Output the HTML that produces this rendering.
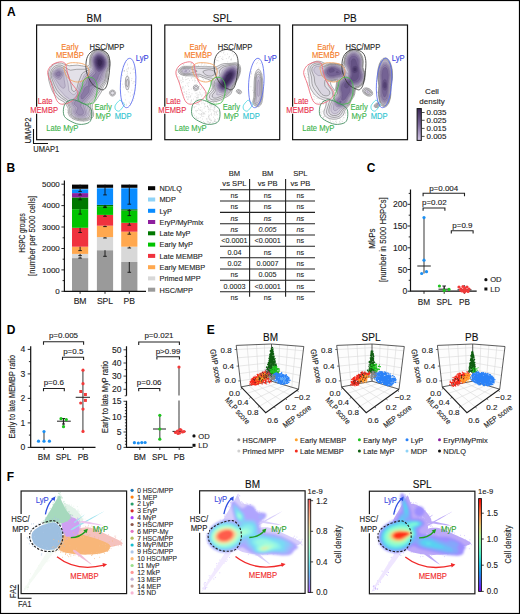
<!DOCTYPE html>
<html><head><meta charset="utf-8"><style>
html,body{margin:0;padding:0;background:#fff;}
body{width:520px;height:614px;overflow:hidden;}
svg{display:block;font-family:"Liberation Sans",sans-serif;}
</style></head><body>
<svg width="520" height="614" viewBox="0 0 520 614">
<rect x="0.5" y="0.5" width="519" height="613" fill="none" stroke="#000" stroke-width="1.2"/>
<text x="7.1" y="15.7" font-size="12" fill="#000" text-anchor="start" font-weight="bold">A</text>
<text x="6.5" y="172.1" font-size="12" fill="#000" text-anchor="start" font-weight="bold">B</text>
<text x="366.8" y="172.3" font-size="12" fill="#000" text-anchor="start" font-weight="bold">C</text>
<text x="6.8" y="333.6" font-size="12" fill="#000" text-anchor="start" font-weight="bold">D</text>
<text x="206.8" y="333.6" font-size="12" fill="#000" text-anchor="start" font-weight="bold">E</text>
<text x="6.8" y="480.9" font-size="12" fill="#000" text-anchor="start" font-weight="bold">F</text>
<text x="94.05000000000001" y="22.4" font-size="10" fill="#111" text-anchor="middle" stroke="#111" stroke-width="0.12">BM</text>
<g transform="translate(36.6,25)">
<clipPath id="clipBM"><rect x="0" y="0" width="114.9" height="114.9"/></clipPath><g clip-path="url(#clipBM)">
<path d="M20.9 43.2h0M27.3 52.3h0M24.0 71.9h0M14.9 46.3h0M30.1 77.0h0M28.6 53.6h0M15.5 41.8h0M20.5 71.4h0M16.6 61.5h0M30.4 52.6h0M27.7 39.5h0M13.0 45.5h0M31.7 54.9h0M20.7 61.6h0M24.8 49.5h0M35.1 66.4h0M18.5 61.2h0M27.0 73.9h0M23.8 68.9h0M15.8 57.5h0M34.2 61.1h0M32.1 62.0h0M28.7 56.1h0M25.5 65.0h0M22.8 65.2h0M16.3 41.8h0M15.1 47.3h0M23.0 73.7h0M27.7 74.3h0M35.9 73.4h0M19.6 54.4h0M22.0 74.3h0M16.5 46.6h0M18.2 57.4h0M28.9 47.9h0M22.3 60.8h0M39.9 66.1h0M26.7 63.0h0M38.3 69.9h0M37.5 70.6h0M23.0 53.7h0M17.5 43.7h0M21.4 39.0h0M14.3 52.2h0M29.7 43.1h0M18.8 51.5h0M22.2 42.0h0M25.2 57.3h0M21.5 48.0h0M27.1 43.0h0M27.1 78.3h0M37.2 66.3h0M19.1 52.3h0M27.2 69.8h0M21.1 46.3h0M36.9 71.0h0M35.8 68.2h0M18.0 58.7h0M21.9 38.0h0M12.0 48.6h0M34.2 51.1h0M51.3 46.4h0M51.3 44.8h0M33.3 42.2h0M32.7 41.8h0M43.2 55.0h0M48.5 47.0h0M43.9 53.1h0M30.0 50.5h0M46.3 47.0h0M32.3 52.9h0M36.0 53.1h0M51.7 45.4h0M37.7 55.9h0M45.7 41.1h0M31.0 40.8h0M36.5 48.3h0M40.8 55.6h0M38.5 54.5h0M48.1 41.9h0M34.1 43.5h0M33.8 49.0h0M34.3 45.9h0M36.6 46.6h0M42.2 55.1h0M38.2 55.3h0M40.2 48.0h0M40.7 38.3h0M38.7 41.4h0M32.1 46.9h0M45.7 48.5h0M35.9 47.7h0M41.5 52.8h0M30.5 48.5h0M34.0 43.2h0M46.8 47.5h0M41.7 52.3h0M50.3 46.3h0M42.9 47.5h0M40.4 51.1h0M39.0 48.0h0M39.6 55.8h0M45.0 54.6h0M41.6 55.8h0M48.5 40.5h0M30.9 46.3h0M29.7 42.5h0M31.7 51.5h0M44.1 40.6h0M37.7 47.2h0M31.9 46.1h0M40.5 44.3h0M32.7 44.0h0M41.5 46.3h0M28.3 44.2h0M43.2 47.6h0M30.5 42.9h0M34.5 40.4h0M38.2 55.2h0M48.0 42.8h0M41.9 51.2h0M44.8 46.0h0M43.4 53.1h0M39.0 44.3h0M41.5 55.5h0M34.5 40.4h0M40.8 42.4h0M30.6 41.0h0M29.1 41.7h0M35.5 43.7h0M48.0 81.8h0M40.8 79.1h0M36.5 75.1h0M47.3 88.3h0M32.1 86.4h0M49.6 85.3h0M40.6 95.2h0M37.8 87.2h0M36.4 95.2h0M46.5 90.3h0M38.1 83.2h0M33.9 78.7h0M51.1 91.2h0M34.7 80.7h0M35.0 86.0h0M31.2 85.7h0M53.9 88.2h0M35.4 83.5h0M40.0 87.1h0M32.4 87.1h0M29.3 84.5h0M35.3 80.4h0M43.1 87.7h0M47.7 90.9h0M46.8 96.3h0M37.7 82.7h0M47.0 90.5h0M51.7 90.1h0M47.3 94.7h0M30.7 87.6h0M50.8 74.8h0M56.5 74.5h0M52.3 76.3h0M54.2 71.0h0M43.3 74.8h0M51.9 69.2h0M53.1 70.6h0M56.4 72.5h0M50.8 66.7h0M53.8 54.2h0M55.2 59.2h0M55.1 57.9h0M50.6 62.7h0M50.4 70.7h0M55.8 68.9h0M53.4 54.5h0M55.3 60.6h0M52.0 52.7h0M54.0 71.0h0M54.1 60.2h0M91.8 56.2h0M91.0 39.1h0M97.5 43.1h0M84.2 56.0h0M90.7 46.5h0M87.1 62.0h0M86.1 59.2h0M96.4 58.4h0M97.4 68.1h0M87.4 77.7h0M91.3 34.4h0M84.0 57.6h0M90.8 48.2h0M86.0 50.3h0M88.7 74.9h0M98.0 68.6h0M97.6 47.6h0M89.6 52.7h0M89.4 54.4h0M88.2 79.6h0M87.7 46.4h0M91.7 42.6h0M89.6 80.6h0M97.3 73.5h0M93.5 78.5h0M98.2 60.4h0M95.0 55.6h0M95.3 65.2h0M91.1 50.2h0M88.4 69.9h0M93.9 48.1h0M92.4 52.8h0M86.4 41.2h0M91.5 44.1h0M90.7 40.1h0M89.1 37.7h0M87.5 46.0h0M92.6 77.2h0M95.3 53.7h0M90.2 59.2h0M89.6 50.0h0M84.8 47.0h0M91.6 64.4h0M97.0 43.9h0M88.0 45.5h0M90.0 55.3h0M97.5 56.7h0M89.9 79.2h0M96.4 75.6h0M91.8 67.0h0M98.2 69.0h0M93.7 71.1h0M90.9 60.6h0M93.7 48.3h0M85.8 45.7h0M93.6 67.8h0M91.9 62.1h0M89.8 44.3h0M88.5 56.1h0M98.5 65.2h0M97.3 56.8h0M87.5 45.5h0M91.5 66.7h0M90.3 46.0h0M94.0 79.1h0M89.0 54.1h0M94.3 43.0h0M96.0 69.9h0M91.6 43.4h0M96.4 44.6h0M54.7 55.1h0M61.2 32.0h0M54.8 41.3h0M65.3 62.6h0M53.0 40.3h0M50.9 40.3h0M66.9 64.6h0M71.6 37.7h0M65.2 39.7h0M58.4 37.8h0M56.1 38.6h0M58.0 57.5h0M69.0 41.9h0M50.7 43.5h0M54.1 39.1h0M59.2 57.1h0M71.3 34.8h0M67.2 60.6h0M57.5 35.4h0M72.2 49.3h0" stroke="#b4b4b4" stroke-width="0.5" stroke-linecap="round" fill="none"/>
<path d="M47.5,96.0L43.0,95.8L38.5,94.8L35.0,93.1L32.9,91.0L31.8,88.5L31.5,83.2L29.0,78.5L27.5,77.0L23.0,74.5L20.0,72.2L17.7,69.5L15.7,66.0L13.8,61.0L12.1,55.0L11.7,51.0L12.1,47.0L13.5,43.5L15.5,40.8L18.0,38.9L21.0,37.9L25.0,38.2L32.5,40.8L40.5,40.1L49.0,41.5L51.5,41.2L52.7,39.5L53.1,33.5L53.6,31.0L55.4,27.5L57.0,25.8L59.0,24.7L61.0,24.2L63.5,24.3L67.0,25.8L69.4,28.0L71.2,30.5L72.9,34.5L73.4,37.5L73.3,40.5L71.3,47.5L70.8,54.5L69.8,57.0L67.0,61.5L64.7,67.0L59.6,75.0L55.8,79.5L55.6,82.5L57.1,89.0L56.7,91.5L55.0,93.5L53.0,94.7L50.0,95.7L47.5,96.0ZM91.0,64.9L90.0,64.6L89.5,63.7L88.6,59.0L89.1,53.5L89.6,52.0L90.5,51.0L91.5,51.5L92.0,52.5L92.8,57.0L92.4,62.0L91.8,64.0L91.0,64.9ZM76.5,71.1L75.5,71.1L74.1,70.5L72.8,68.5L72.9,67.0L73.5,66.0L75.5,64.9L77.7,65.5L79.0,67.5L78.5,69.7L76.5,71.1Z" fill="#ebe9ef" fill-rule="evenodd" stroke="#555" stroke-width="0.45"/>
<path d="M50.0,94.5L46.0,95.0L41.0,94.4L37.0,92.9L34.5,91.0L33.2,88.5L33.0,83.0L30.2,77.0L29.0,75.7L24.7,73.0L21.7,70.5L19.5,68.0L17.7,65.0L13.9,54.5L13.3,51.0L13.6,48.0L14.7,45.0L16.5,42.5L19.0,40.8L21.5,40.0L24.0,40.1L26.0,40.8L32.0,44.5L34.0,45.2L40.0,44.3L49.0,44.2L51.4,43.5L53.0,42.3L53.6,41.0L53.8,33.5L54.6,30.5L55.7,28.5L57.0,27.0L59.0,25.7L61.0,25.1L63.5,25.2L65.5,25.9L67.5,27.2L70.7,31.0L72.4,36.0L72.7,39.0L72.4,41.5L70.3,47.5L69.8,53.0L68.9,56.0L65.6,61.0L63.6,65.5L60.7,69.5L58.5,73.5L54.6,77.5L53.8,79.0L53.7,82.0L55.3,88.5L55.0,91.0L53.0,93.2L50.0,94.5ZM91.0,61.7L90.5,61.7L90.0,61.0L89.6,59.0L89.8,56.0L90.5,54.3L91.0,54.3L91.4,55.0L91.8,57.0L91.7,60.0L91.0,61.7ZM76.0,70.0L74.5,69.5L73.9,68.0L74.5,66.5L76.0,66.0L77.2,66.5L77.9,68.0L77.2,69.5L76.0,70.0Z" fill="#e3e1e8" fill-rule="evenodd" stroke="#555" stroke-width="0.45"/>
<path d="M46.5,94.0L43.0,93.8L39.5,93.0L37.0,91.8L35.2,90.0L34.4,87.5L34.6,83.5L32.6,79.5L31.6,76.0L30.9,75.0L27.2,72.5L23.5,69.2L20.1,65.0L17.7,60.0L15.2,53.5L14.6,50.5L14.9,48.0L16.7,44.5L18.0,43.2L20.0,42.1L22.0,41.7L24.0,41.8L27.4,43.5L29.9,46.5L32.1,51.0L34.1,58.0L35.3,65.0L36.5,66.3L38.0,66.3L39.5,65.0L40.3,63.5L41.9,57.0L45.2,49.0L47.0,47.3L52.0,45.0L54.1,43.0L54.6,41.0L54.4,34.0L55.9,29.5L57.5,27.6L59.5,26.3L61.5,25.9L64.0,26.1L66.5,27.3L69.0,29.6L70.8,32.5L71.8,36.0L71.8,41.0L69.3,48.0L68.7,53.5L67.7,56.0L64.5,60.3L62.4,64.5L59.5,68.5L57.4,72.5L53.4,76.5L52.2,78.5L52.0,81.1L53.8,88.5L53.3,91.0L52.0,92.4L50.5,93.2L46.5,94.0Z" fill="#d9d5e0" fill-rule="evenodd" stroke="#555" stroke-width="0.45"/>
<path d="M47.0,93.0L44.0,93.0L40.5,92.4L38.0,91.2L36.2,89.5L35.6,87.5L35.9,83.5L33.6,79.0L33.2,74.5L32.5,73.7L29.0,71.5L21.8,63.5L16.2,52.5L15.7,50.0L16.0,48.0L17.7,45.0L20.5,43.2L24.0,43.1L26.5,44.5L28.4,47.5L31.4,58.0L32.3,65.5L33.3,67.0L35.5,68.9L36.5,69.6L37.5,69.7L39.0,68.4L41.3,65.0L43.3,58.5L45.6,54.5L47.6,50.0L49.0,48.6L53.0,46.0L55.0,43.5L55.3,41.5L54.9,34.5L55.4,32.0L56.3,30.0L58.0,28.0L59.5,27.1L61.5,26.6L64.0,26.8L67.5,28.9L70.2,32.5L71.4,37.0L71.1,41.5L68.6,47.5L67.8,53.0L66.7,55.5L63.6,59.5L61.2,64.0L58.5,67.4L56.0,72.0L52.0,76.0L50.8,78.0L50.4,80.5L52.2,88.0L51.9,90.5L50.0,92.2L47.0,93.0Z" fill="#cdc8d8" fill-rule="evenodd" stroke="#5a4a70" stroke-width="0.25"/>
<path d="M47.0,92.0L44.5,92.2L41.5,91.7L39.0,90.7L37.6,89.5L36.8,87.5L37.2,83.5L34.8,79.0L34.7,76.5L36.0,74.5L39.1,72.0L42.7,65.0L44.4,59.5L47.0,55.6L49.0,51.0L54.0,46.8L55.7,44.5L56.1,42.5L55.4,35.0L55.9,32.5L56.7,30.5L58.0,28.9L59.5,27.8L61.5,27.2L63.5,27.3L67.0,29.2L69.6,32.5L70.9,36.5L70.7,41.0L67.6,48.0L66.8,52.5L66.0,54.6L62.6,59.0L60.3,63.0L57.7,66.0L55.1,71.0L51.0,75.3L49.2,78.0L48.8,80.5L50.8,89.0L49.6,91.0L47.0,92.0ZM27.5,63.2L26.0,63.1L24.0,61.6L17.0,51.5L16.7,49.0L17.3,47.0L18.5,45.5L20.5,44.3L22.5,43.9L24.0,44.2L25.9,45.5L26.8,47.0L27.3,49.0L27.6,54.5L28.6,60.5L28.4,62.0L27.5,63.2Z" fill="#bfb7cd" fill-rule="evenodd" stroke="#5a4a70" stroke-width="0.25"/>
<path d="M46.0,91.0L41.5,90.7L38.7,89.0L38.1,87.0L38.7,83.0L36.2,79.5L35.8,78.0L36.0,77.0L37.0,75.7L39.6,74.0L40.4,73.0L41.6,69.5L44.0,65.0L45.3,61.0L48.1,57.0L50.2,52.0L54.5,48.0L56.4,45.5L56.8,43.0L55.9,35.5L56.3,33.0L57.1,31.0L58.5,29.3L60.0,28.3L62.0,27.8L64.0,28.1L67.0,29.9L69.3,33.0L70.4,37.0L70.1,41.0L66.6,48.0L65.0,54.0L61.9,58.0L59.5,61.8L56.6,65.0L54.0,70.3L47.4,78.0L46.9,80.5L48.7,86.0L49.1,88.5L48.4,90.0L46.0,91.0ZM23.5,54.3L22.0,54.3L20.0,53.4L18.5,52.1L17.7,50.5L17.7,48.5L18.3,47.0L19.5,45.7L21.0,45.0L22.5,44.9L24.0,45.3L25.0,46.0L25.9,47.5L26.1,49.5L25.6,51.5L24.5,53.5L23.5,54.3Z" fill="#afa4c1" fill-rule="evenodd" stroke="#5a4a70" stroke-width="0.25"/>
<path d="M45.5,89.6L44.0,89.8L42.0,89.6L40.0,88.1L39.8,86.5L41.1,83.5L41.1,82.5L37.9,79.5L37.4,78.5L37.5,77.5L38.3,76.5L41.5,74.5L42.8,70.0L45.0,66.0L46.4,62.0L49.5,58.3L51.3,53.0L56.0,48.5L57.4,46.5L57.7,44.0L56.4,36.0L56.7,33.5L57.5,31.5L59.0,29.7L60.5,28.8L62.0,28.5L64.0,28.8L66.8,30.5L68.9,33.5L69.9,37.0L69.6,41.0L68.5,43.5L65.6,48.0L63.3,54.0L58.5,60.8L55.1,64.0L52.8,69.5L45.0,78.0L44.3,80.0L44.3,81.5L46.4,85.0L47.0,87.5L46.5,89.0L45.5,89.6ZM23.0,52.1L22.0,52.4L20.5,52.2L19.5,51.5L18.6,50.0L18.6,48.5L19.0,47.5L21.0,45.9L23.3,46.0L24.8,47.5L24.8,50.0L24.0,51.3L23.0,52.1Z" fill="#9d90b4" fill-rule="evenodd" stroke="#5a4a70" stroke-width="0.25"/>
<path d="M46.5,73.7L45.5,73.9L44.6,73.5L44.2,71.5L44.6,70.0L46.4,67.0L47.7,63.5L49.0,62.0L52.0,60.8L52.0,56.5L52.8,54.0L58.5,49.0L59.2,48.0L59.1,46.0L57.0,37.5L57.0,35.0L57.7,32.5L59.0,30.6L60.5,29.5L62.5,29.2L64.5,29.6L67.0,31.5L68.8,34.5L69.4,38.0L68.8,41.5L67.0,44.6L62.2,50.0L61.1,53.5L57.8,59.0L56.0,60.5L52.7,61.5L52.6,65.5L52.0,67.5L46.5,73.7ZM21.5,51.0L20.0,50.3L19.6,48.5L20.9,47.0L22.5,46.8L23.5,47.5L23.8,49.0L23.0,50.5L21.5,51.0Z" fill="#8a7aa5" fill-rule="evenodd" stroke="#5a4a70" stroke-width="0.25"/>
<path d="M63.0,46.6L61.5,46.4L60.0,44.9L58.4,41.0L57.5,37.0L57.7,34.5L58.5,32.3L60.0,30.6L62.0,29.9L64.5,30.4L66.5,31.8L68.2,34.5L68.8,37.5L68.6,40.0L67.5,42.7L65.5,45.1L63.0,46.6Z" fill="#746294" fill-rule="evenodd" stroke="#5a4a70" stroke-width="0.25"/>
<path d="M63.5,45.2L62.0,45.1L60.5,43.9L59.0,40.9L58.2,37.5L58.2,35.0L59.0,32.8L60.5,31.2L62.0,30.7L64.0,30.9L66.0,32.2L67.5,34.4L68.2,37.0L68.1,39.5L67.1,42.0L65.5,44.0L63.5,45.2Z" fill="#645284" fill-rule="evenodd" stroke="#5a4a70" stroke-width="0.25"/>
<path d="M63.5,44.0L62.0,43.8L60.5,42.4L59.4,40.0L58.7,37.0L59.0,34.5L59.7,33.0L61.0,31.8L62.5,31.4L64.5,31.9L65.8,33.0L67.0,34.8L67.6,37.0L67.4,39.5L66.6,41.5L65.0,43.3L63.5,44.0Z" fill="#544274" fill-rule="evenodd" stroke="#5a4a70" stroke-width="0.25"/>
<path d="M64.0,42.7L62.5,42.8L61.5,42.2L60.4,40.5L59.6,38.0L59.9,34.5L61.0,33.0L62.0,32.5L63.5,32.5L65.0,33.3L66.0,34.5L66.7,36.5L66.8,38.5L66.4,40.0L65.5,41.5L64.0,42.7Z" fill="#453464" fill-rule="evenodd" stroke="#5a4a70" stroke-width="0.25"/>
<path d="M64.0,41.1L63.0,41.3L62.0,40.9L60.8,38.5L60.8,35.5L61.5,34.4L62.5,33.9L64.4,34.5L65.6,36.5L65.5,39.1L64.0,41.1Z" fill="#372753" fill-rule="evenodd" stroke="#5a4a70" stroke-width="0.25"/>
</g>
<path d="M50.2,33.5C51.1,30.5 52.7,28.3 54.7,26.8C56.8,25.3 59.9,24.3 62.5,24.5C65.1,24.7 68.5,26.0 70.3,27.9C72.1,29.8 72.8,32.2 73.2,35.7C73.6,39.2 73.0,45.0 72.5,49.1C72.0,53.2 71.2,57.6 70.3,60.2C69.4,62.8 68.2,64.1 66.9,64.7C65.6,65.3 64.2,64.3 62.5,63.6C60.8,62.9 58.6,61.9 56.9,60.2C55.2,58.5 53.6,56.1 52.4,53.5C51.2,50.9 49.9,47.9 49.5,44.6C49.1,41.3 49.3,36.5 50.2,33.5Z" fill="none" stroke="#333" stroke-width="0.85"/>
<path d="M27.9,41.3C28.8,40.0 30.7,38.4 33.5,37.9C36.3,37.4 41.8,37.8 44.6,38.4C47.4,39.0 48.9,39.9 50.2,41.3C51.5,42.7 52.5,44.8 52.4,46.8C52.3,48.8 51.2,51.8 49.5,53.5C47.8,55.2 44.7,56.5 42.4,56.9C40.1,57.3 37.8,56.7 35.7,55.8C33.7,54.9 31.4,53.0 30.1,51.3C28.8,49.6 28.3,47.4 27.9,45.7C27.5,44.0 27.0,42.6 27.9,41.3Z" fill="none" stroke="#f3a05c" stroke-width="0.85"/>
<path d="M12.3,43.5C13.2,41.8 14.7,40.1 16.7,39.0C18.7,37.9 22.4,36.8 24.5,36.8C26.6,36.8 28.1,37.7 29.0,39.0C29.9,40.3 29.4,41.8 30.1,44.6C30.9,47.4 32.0,52.6 33.5,55.8C35.0,59.0 37.7,61.4 39.0,63.6C40.3,65.8 41.8,67.2 41.3,69.2C40.8,71.2 38.1,74.1 35.7,75.8C33.3,77.5 29.2,79.0 26.8,79.2C24.4,79.4 22.7,78.7 21.2,77.0C19.7,75.3 18.9,72.4 17.8,69.2C16.7,66.0 15.6,61.4 14.5,58.0C13.4,54.6 11.6,51.5 11.2,49.1C10.8,46.7 11.4,45.2 12.3,43.5Z" fill="none" stroke="#ef6878" stroke-width="0.85"/>
<path d="M46.8,55.8C47.7,54.3 49.6,52.8 51.3,52.4C53.0,52.0 55.4,52.4 56.9,53.5C58.4,54.6 59.7,56.7 60.2,59.1C60.8,61.5 60.5,65.4 60.2,68.0C59.9,70.6 59.1,73.0 58.4,74.7C57.7,76.4 57.3,77.3 55.8,78.1C54.2,78.8 51.1,79.4 49.1,79.2C47.1,79.0 44.8,78.1 43.5,77.0C42.2,75.9 41.3,74.2 41.3,72.5C41.3,70.8 42.8,68.8 43.5,66.9C44.2,65.0 45.2,63.1 45.7,61.3C46.2,59.4 45.9,57.3 46.8,55.8Z" fill="none" stroke="#45c048" stroke-width="0.85"/>
<path d="M29.0,78.1C30.5,76.4 33.3,74.9 35.7,74.7C38.1,74.5 41.1,76.1 43.5,77.0C45.9,77.9 48.3,79.0 50.2,80.3C52.1,81.6 54.0,82.6 54.7,84.8C55.5,87.0 55.3,91.5 54.7,93.7C54.1,95.9 53.3,97.2 51.3,98.1C49.2,99.0 45.4,99.7 42.4,99.3C39.4,98.9 35.9,97.2 33.5,95.9C31.1,94.6 29.0,93.3 27.9,91.5C26.8,89.7 26.6,87.0 26.8,84.8C27.0,82.6 27.5,79.8 29.0,78.1Z" fill="none" stroke="#3f8a5c" stroke-width="0.85"/>
<path d="M78.6,80.6C79.1,79.2 80.9,77.3 81.8,76.4C82.7,75.5 82.9,75.0 83.8,75.4C84.7,75.8 86.6,77.8 87.2,78.6C87.8,79.4 87.9,79.4 87.4,80.4C86.9,81.4 84.9,83.8 84.0,84.8C83.1,85.8 82.8,86.2 82.0,86.2C81.2,86.2 79.6,85.5 79.0,84.6C78.4,83.7 78.1,82.0 78.6,80.6Z" fill="none" stroke="#3ed4de" stroke-width="0.85"/>
<path d="M99.1,58.5C98.9,60.7 98.7,62.9 98.4,64.9C98.1,67.0 97.7,69.0 97.2,70.8C96.7,72.7 96.2,74.4 95.6,75.9C95.1,77.3 94.4,78.7 93.8,79.7C93.2,80.7 92.5,81.5 91.8,82.0C91.1,82.5 90.4,82.8 89.8,82.7C89.1,82.7 88.5,82.4 87.9,81.8C87.3,81.2 86.7,80.3 86.2,79.2C85.7,78.1 85.3,76.7 84.9,75.1C84.6,73.6 84.3,71.8 84.1,69.9C83.9,68.0 83.8,66.0 83.7,63.9C83.7,61.8 83.8,59.6 83.9,57.5C84.1,55.3 84.3,53.1 84.6,51.1C84.9,49.0 85.3,47.0 85.8,45.2C86.3,43.3 86.8,41.6 87.4,40.1C87.9,38.7 88.6,37.3 89.2,36.3C89.8,35.3 90.5,34.5 91.2,34.0C91.9,33.5 92.6,33.2 93.2,33.3C93.9,33.3 94.5,33.6 95.1,34.2C95.7,34.8 96.3,35.7 96.8,36.8C97.3,37.9 97.7,39.3 98.1,40.9C98.4,42.4 98.7,44.2 98.9,46.1C99.1,48.0 99.2,50.0 99.3,52.1C99.3,54.2 99.2,56.4 99.1,58.5Z" fill="none" stroke="#5a6af0" stroke-width="0.85"/>
</g>
<rect x="36.6" y="25" width="114.9" height="114.7" fill="none" stroke="#111" stroke-width="1.2"/>
<text x="69.9" y="49.5" font-size="8.2" fill="#f47a26" text-anchor="middle" textLength="17.32" lengthAdjust="spacingAndGlyphs" stroke="#f47a26" stroke-width="0.12">Early</text>
<text x="69.9" y="58.4" font-size="8.2" fill="#f47a26" text-anchor="middle" textLength="27.87" lengthAdjust="spacingAndGlyphs" stroke="#f47a26" stroke-width="0.12">MEMBP</text>
<text x="106.9" y="49.5" font-size="8.2" fill="#222" text-anchor="middle" textLength="34.63" lengthAdjust="spacingAndGlyphs" stroke="#222" stroke-width="0.12">HSC/MPP</text>
<text x="142.2" y="61.4" font-size="8.2" fill="#3a44e0" text-anchor="middle" textLength="12.82" lengthAdjust="spacingAndGlyphs" stroke="#3a44e0" stroke-width="0.12">LyP</text>
<text x="45.1" y="103.8" font-size="8.2" fill="#e8304a" text-anchor="middle" textLength="14.79" lengthAdjust="spacingAndGlyphs" stroke="#e8304a" stroke-width="0.12">Late</text>
<rect x="31.1" y="106.7" width="26" height="7" fill="#fff"/>
<text x="44.1" y="113.1" font-size="8.2" fill="#e8304a" text-anchor="middle" textLength="27.87" lengthAdjust="spacingAndGlyphs" stroke="#e8304a" stroke-width="0.12">MEMBP</text>
<text x="103.1" y="110.0" font-size="8.2" fill="#3cb44b" text-anchor="middle" textLength="17.32" lengthAdjust="spacingAndGlyphs" stroke="#3cb44b" stroke-width="0.12">Early</text>
<text x="103.1" y="118.7" font-size="8.2" fill="#3cb44b" text-anchor="middle" textLength="15.2" lengthAdjust="spacingAndGlyphs" stroke="#3cb44b" stroke-width="0.12">MyP</text>
<text x="123.1" y="119.4" font-size="8.2" fill="#2ec4d0" text-anchor="middle" textLength="16.89" lengthAdjust="spacingAndGlyphs" stroke="#2ec4d0" stroke-width="0.12">MDP</text>
<text x="62.3" y="130.5" font-size="8.2" fill="#3cb44b" text-anchor="middle" textLength="32.11" lengthAdjust="spacingAndGlyphs" stroke="#3cb44b" stroke-width="0.12">Late MyP</text>
<text x="222.25" y="22.4" font-size="10" fill="#111" text-anchor="middle" stroke="#111" stroke-width="0.12">SPL</text>
<g transform="translate(164.8,25)">
<clipPath id="clipSPL"><rect x="0" y="0" width="114.9" height="114.9"/></clipPath><g clip-path="url(#clipSPL)">
<path d="M19.1 67.2h0M20.7 48.5h0M38.8 63.7h0M18.2 56.9h0M22.8 47.4h0M24.1 57.7h0M35.4 68.1h0M36.0 69.6h0M29.5 50.7h0M20.8 52.1h0M18.6 39.5h0M19.2 40.4h0M32.6 55.8h0M18.2 54.5h0M29.9 65.4h0M33.7 72.7h0M28.3 52.6h0M18.6 47.2h0M28.6 50.6h0M26.5 46.6h0M35.5 64.5h0M25.5 71.5h0M12.4 49.3h0M14.8 44.8h0M19.0 69.8h0M29.1 63.1h0M17.8 52.4h0M15.5 45.4h0M18.9 62.2h0M20.6 45.4h0M35.1 60.0h0M23.1 60.1h0M23.5 48.8h0M20.6 60.8h0M22.0 54.5h0M22.1 45.2h0M24.0 71.6h0M23.4 74.2h0M25.1 43.7h0M30.5 75.4h0M22.4 58.2h0M15.6 48.8h0M26.9 76.0h0M14.5 57.6h0M17.1 42.2h0M25.7 39.1h0M38.4 63.1h0M23.4 72.7h0M17.8 53.7h0M26.8 53.1h0M14.9 47.3h0M33.0 74.8h0M29.2 60.1h0M30.1 49.8h0M23.8 61.5h0M24.0 64.7h0M24.6 55.4h0M25.9 46.8h0M34.2 69.9h0M25.0 44.4h0M25.4 41.3h0M15.1 55.1h0M14.0 55.5h0M26.6 38.5h0M33.3 69.8h0M26.6 39.1h0M26.4 52.8h0M33.2 71.4h0M26.0 77.4h0M13.2 51.7h0M26.3 75.8h0M17.5 47.9h0M26.4 50.3h0M12.3 44.5h0M31.7 74.8h0M30.4 52.1h0M28.7 74.2h0M30.2 53.5h0M22.0 69.2h0M24.5 44.3h0M28.8 64.9h0M29.7 55.1h0M26.6 74.8h0M15.2 46.4h0M14.4 51.9h0M18.0 61.5h0M28.9 45.5h0M30.0 56.9h0M18.5 43.1h0M37.4 70.0h0M23.3 48.0h0M28.1 51.7h0M30.6 55.6h0M39.4 67.9h0M23.4 46.9h0M17.2 62.6h0M26.5 64.0h0M20.5 49.5h0M34.8 67.1h0M33.6 56.5h0M33.5 56.0h0M18.0 41.3h0M21.3 68.6h0M32.1 72.6h0M27.9 55.3h0M34.9 59.0h0M19.2 64.0h0M19.0 46.8h0M30.2 66.2h0M25.3 72.4h0M32.2 73.2h0M24.4 67.5h0M28.4 49.8h0M17.6 63.2h0M21.6 42.8h0M32.0 63.7h0M32.2 68.0h0M22.1 71.5h0M35.9 74.6h0M14.4 45.5h0M36.7 71.2h0M30.3 71.8h0M30.2 49.0h0M20.8 54.8h0M11.8 47.7h0M19.7 67.1h0M22.3 50.4h0M36.8 63.0h0M24.3 69.6h0M21.6 66.7h0M27.4 46.0h0M26.0 70.6h0M16.8 57.8h0M21.7 72.1h0M19.7 45.9h0M32.3 57.9h0M32.2 70.2h0M30.1 51.9h0M23.3 53.5h0M17.4 48.0h0M22.6 74.3h0M18.2 56.3h0M27.2 68.8h0M33.9 64.2h0M21.7 50.7h0M31.1 68.3h0M16.3 55.4h0M34.5 61.4h0M15.0 56.4h0M17.0 49.6h0M32.4 72.6h0M15.9 43.4h0M18.7 50.6h0M26.9 43.6h0M21.1 44.8h0M40.6 67.7h0M14.3 53.1h0M33.3 55.2h0M17.1 63.9h0M14.4 45.6h0M37.4 38.5h0M37.7 52.9h0M44.9 47.4h0M43.4 46.7h0M31.4 49.4h0M37.8 52.0h0M50.1 46.1h0M42.0 52.1h0M38.2 42.2h0M45.6 54.6h0M46.9 51.2h0M48.8 50.8h0M43.6 46.5h0M35.6 49.8h0M30.3 45.9h0M47.1 51.4h0M43.3 42.7h0M38.3 46.5h0M43.1 45.7h0M44.4 55.6h0M32.4 50.3h0M47.0 45.3h0M39.9 56.4h0M50.9 47.8h0M30.4 48.8h0M41.2 51.5h0M40.4 50.0h0M48.2 47.8h0M38.0 55.9h0M33.0 50.9h0M37.5 52.4h0M36.6 39.0h0M34.6 45.5h0M28.2 45.9h0M38.2 51.2h0M36.5 42.9h0M33.4 52.0h0M50.9 47.9h0M33.3 53.1h0M37.5 41.9h0M47.7 50.0h0M39.4 48.6h0M36.6 50.0h0M48.0 53.4h0M39.4 43.5h0M41.3 40.3h0M48.3 44.6h0M48.7 43.0h0M37.1 42.7h0M38.3 41.4h0M34.8 42.6h0M35.3 47.0h0M38.4 50.0h0M44.1 44.8h0M44.0 42.7h0M30.4 40.6h0M33.6 52.6h0M36.4 40.8h0M42.8 52.7h0M44.3 54.9h0M47.2 53.8h0M32.7 51.1h0M40.9 52.0h0M38.6 54.7h0M41.5 42.9h0M33.6 40.5h0M40.0 39.0h0M39.3 40.6h0M39.9 47.4h0M41.1 54.3h0M39.9 88.5h0M45.4 95.4h0M37.3 85.0h0M44.6 90.3h0M45.8 97.6h0M41.0 86.6h0M46.8 90.1h0M36.2 95.9h0M37.0 86.4h0M41.5 93.7h0M32.7 85.4h0M38.6 88.3h0M49.9 81.9h0M49.9 84.6h0M40.9 81.4h0M40.9 98.7h0M45.1 94.2h0M36.0 82.5h0M35.1 89.1h0M44.5 94.0h0M51.5 88.1h0M28.2 82.1h0M52.5 89.7h0M45.2 94.1h0M52.2 89.7h0M44.0 90.1h0M46.2 89.4h0M45.8 79.9h0M45.4 86.0h0M48.4 97.2h0M45.1 83.8h0M49.8 94.0h0M42.5 81.0h0M35.2 85.1h0M35.7 85.3h0M44.7 97.7h0M28.3 88.7h0M49.4 88.9h0M52.4 85.7h0M27.2 84.2h0M43.3 97.8h0M54.2 86.4h0M38.3 77.2h0M44.8 79.9h0M46.9 80.7h0M47.3 79.3h0M46.7 95.7h0M44.3 92.1h0M39.7 97.6h0M35.5 92.6h0M40.4 76.2h0M37.1 88.8h0M39.0 91.4h0M36.9 90.6h0M44.4 85.0h0M37.6 94.0h0M53.2 94.0h0M42.6 81.9h0M46.4 95.1h0M36.1 89.6h0M43.6 82.3h0M38.8 96.5h0M37.3 91.5h0M43.6 96.7h0M49.3 81.7h0M38.6 89.1h0M49.6 96.5h0M49.4 96.0h0M42.8 81.4h0M50.5 94.6h0M45.9 97.2h0M36.5 76.8h0M42.2 94.3h0M32.4 93.2h0M43.7 91.4h0M39.8 79.8h0M33.9 93.2h0M48.9 86.0h0M48.3 80.4h0M43.0 96.8h0M51.5 87.5h0M40.1 89.2h0M32.1 79.4h0M31.8 91.9h0M36.9 88.6h0M38.0 87.4h0M29.8 90.3h0M43.5 83.2h0M51.0 86.7h0M42.6 81.1h0M48.5 85.2h0M53.2 93.6h0M33.9 75.6h0M32.4 79.1h0M42.4 96.1h0M39.6 98.0h0M43.5 84.5h0M34.0 88.6h0M44.7 98.2h0M45.5 84.4h0M39.3 78.6h0M33.9 83.4h0M52.0 97.0h0M48.7 92.2h0M44.8 98.9h0M47.9 97.8h0M45.7 82.1h0M43.3 93.3h0M29.7 82.7h0M34.0 77.8h0M40.2 78.8h0M33.5 78.2h0M46.8 79.5h0M51.0 96.6h0M30.7 85.7h0M50.3 90.2h0M39.4 83.1h0M49.8 86.4h0M44.3 78.2h0M33.0 76.1h0M46.7 88.3h0M34.2 84.8h0M31.1 81.4h0M50.2 82.9h0M31.5 86.8h0M45.4 79.9h0M40.1 81.7h0M34.0 79.7h0M29.5 81.8h0M47.1 81.9h0M49.3 83.1h0M50.0 87.7h0M32.0 85.4h0M42.7 78.1h0M31.8 93.7h0M46.7 79.5h0M43.8 86.9h0M34.4 79.8h0M43.9 92.1h0M49.4 89.0h0M47.2 84.7h0M49.4 82.9h0M50.3 96.0h0M52.2 86.4h0M51.1 81.2h0M37.0 78.7h0M37.2 89.3h0M39.2 87.4h0M30.2 92.3h0M49.6 96.0h0M47.4 71.5h0M48.5 72.5h0M59.3 65.7h0M51.0 66.6h0M51.5 53.0h0M59.6 58.4h0M46.0 74.3h0M54.5 57.6h0M52.2 66.4h0M54.6 55.2h0M57.7 71.6h0M50.6 65.8h0M49.0 56.1h0M52.5 75.5h0M44.1 67.8h0M55.4 56.8h0M48.6 63.7h0M57.2 66.5h0M48.8 77.6h0M56.0 61.5h0M45.8 61.4h0M49.5 78.7h0M56.5 76.9h0M56.7 75.1h0M46.0 63.7h0M53.3 62.2h0M51.3 54.3h0M49.5 65.9h0M59.0 69.4h0M56.6 76.1h0M53.4 59.5h0M54.1 59.7h0M51.5 77.2h0M53.0 59.1h0M51.1 64.0h0M59.3 60.1h0M47.1 69.8h0M43.6 68.3h0M59.4 66.2h0M46.4 64.9h0M51.4 56.4h0M46.8 63.3h0M46.7 58.9h0M57.2 68.7h0M52.1 69.8h0M45.1 71.4h0M50.0 67.1h0M52.9 65.0h0M47.2 58.9h0M45.5 66.1h0M48.5 68.1h0M57.6 58.8h0M51.8 65.6h0M46.9 73.1h0M57.8 64.2h0M49.6 72.1h0M48.0 70.5h0M52.9 75.2h0M56.8 66.3h0M55.3 72.3h0M95.4 56.8h0M95.8 68.3h0M95.5 62.3h0M91.5 81.0h0M92.6 53.9h0M95.8 76.5h0M93.1 52.0h0M90.8 55.9h0M94.9 47.7h0M89.8 60.7h0M89.7 49.2h0M95.9 75.3h0M91.5 55.2h0M86.7 48.3h0M86.1 61.7h0M92.7 37.6h0M97.9 49.3h0M96.7 74.8h0M90.4 78.4h0M92.5 57.9h0M91.8 58.9h0M94.3 52.5h0M89.3 62.7h0M89.2 80.2h0M94.2 59.3h0M85.4 51.8h0M90.0 61.0h0M92.6 76.8h0M98.6 57.3h0M90.6 64.2h0M92.0 73.7h0M86.5 49.0h0M91.7 38.7h0M97.5 67.4h0M97.4 54.1h0M86.3 47.6h0M91.7 58.2h0M86.8 42.2h0M93.5 63.1h0M93.6 35.3h0M90.2 72.3h0M88.6 67.5h0M96.7 62.3h0M94.1 43.0h0M91.5 60.6h0M87.9 65.3h0M92.6 53.6h0M95.4 38.5h0M91.8 74.0h0M93.2 73.2h0M95.6 49.2h0M94.8 50.8h0M86.5 46.4h0M92.8 50.5h0M90.7 52.3h0M92.8 80.8h0M90.6 64.0h0M88.7 77.8h0M96.3 48.3h0M93.1 80.8h0M61.2 62.7h0M55.3 40.2h0M66.5 33.4h0M56.8 59.7h0M61.0 56.4h0M55.3 31.5h0M58.0 32.0h0M72.5 36.2h0M62.8 29.1h0M62.1 40.0h0M59.1 27.1h0M57.8 34.3h0M54.0 35.9h0M65.2 38.2h0M53.2 52.9h0M51.7 35.3h0M69.3 29.6h0M60.0 58.1h0M68.6 30.9h0M57.9 53.5h0M61.5 33.6h0M60.2 29.8h0M66.2 35.0h0M70.8 48.1h0M58.2 34.4h0M63.9 33.0h0M70.2 29.4h0M61.7 46.3h0M55.9 55.5h0M58.6 50.9h0M63.0 37.0h0M58.7 28.0h0M57.1 51.1h0M52.1 47.1h0M58.1 44.6h0M56.5 27.1h0M56.9 33.6h0M52.5 53.3h0M56.2 40.7h0M71.0 55.7h0M70.4 59.1h0M52.6 35.6h0M65.2 38.6h0M59.3 51.0h0M66.1 34.5h0M69.6 38.7h0M64.4 31.8h0M66.9 53.1h0M53.3 32.5h0M56.7 39.8h0M50.4 37.0h0M64.6 31.7h0M69.4 47.4h0M66.5 34.7h0M59.8 52.0h0M69.3 55.7h0M69.7 48.9h0M50.6 34.3h0M67.3 28.0h0M66.0 40.3h0" stroke="#b4b4b4" stroke-width="0.5" stroke-linecap="round" fill="none"/>
<path d="M51.5,76.5L48.5,76.8L45.5,76.4L43.5,75.4L42.1,73.5L42.0,71.5L42.8,69.5L47.0,65.1L47.5,64.0L47.6,62.5L46.5,57.0L45.5,55.2L34.1,51.0L21.0,50.8L17.5,50.1L15.2,49.0L13.8,47.5L13.4,45.5L14.1,44.0L16.5,42.2L20.5,41.3L30.5,41.3L38.0,41.8L44.5,41.6L50.1,42.0L52.0,41.6L56.5,39.3L59.5,38.5L64.5,38.5L70.5,37.7L72.5,38.1L73.9,39.0L75.1,40.5L75.8,43.0L75.8,45.5L75.3,48.5L73.2,54.0L68.3,62.0L66.6,68.0L65.0,70.0L63.0,71.3L55.5,75.2L51.5,76.5ZM94.0,81.6L92.0,81.6L90.0,80.7L88.5,79.0L87.9,77.0L89.0,72.0L89.3,57.0L89.8,51.5L91.2,46.5L92.5,44.7L93.5,44.3L94.5,44.6L95.7,46.0L97.2,50.5L97.8,55.0L98.3,67.5L98.1,72.0L97.1,77.5L95.9,80.0L94.0,81.6ZM32.5,65.2L30.5,65.4L28.7,64.0L28.5,62.0L29.0,61.0L30.0,60.2L32.0,60.0L33.7,61.5L33.9,63.5L32.5,65.2ZM76.0,68.7L74.5,68.9L72.5,67.9L71.5,66.5L71.9,65.0L73.0,64.5L74.0,64.5L75.9,65.5L76.6,66.5L76.8,67.5L76.0,68.7Z" fill="#ebe9ef" fill-rule="evenodd" stroke="#555" stroke-width="0.45"/>
<path d="M50.0,75.0L48.0,74.9L46.0,74.2L45.0,73.3L44.5,72.0L45.2,69.5L48.5,66.0L49.2,64.5L48.2,59.0L48.0,53.8L47.0,53.3L41.5,52.1L35.0,49.3L28.5,49.2L21.5,49.8L18.5,49.4L16.5,48.6L15.3,47.5L14.8,46.0L15.5,44.3L18.0,42.7L21.5,42.2L37.0,43.5L45.0,43.1L51.5,44.1L53.0,43.6L56.9,41.0L59.5,40.2L69.5,38.8L71.5,39.0L73.3,40.0L74.3,41.5L74.9,43.5L74.9,46.5L74.3,49.5L72.3,54.5L67.2,62.5L65.1,67.5L62.5,69.9L56.0,73.2L53.0,74.5L50.0,75.0ZM94.0,80.0L92.5,80.4L90.5,79.7L89.3,78.5L88.9,77.0L89.9,72.5L89.8,66.0L90.5,53.0L91.7,48.5L92.5,47.2L93.5,46.7L94.5,47.0L95.3,48.0L96.6,52.0L97.4,67.0L97.2,71.5L96.3,76.5L95.5,78.5L94.0,80.0ZM31.5,64.2L30.4,64.0L29.7,63.0L30.0,61.8L31.0,61.2L32.1,61.5L32.7,62.5L32.5,63.5L31.5,64.2ZM75.0,67.8L74.0,67.8L73.0,67.0L73.0,65.8L74.0,65.5L75.0,66.0L75.6,67.0L75.0,67.8Z" fill="#e3e1e8" fill-rule="evenodd" stroke="#555" stroke-width="0.45"/>
<path d="M52.0,73.0L50.0,73.2L48.5,72.8L47.5,72.0L47.3,71.0L47.8,69.5L50.0,67.0L50.6,65.5L49.5,59.5L49.7,56.5L50.9,54.5L53.6,52.5L54.7,51.0L55.1,49.5L54.6,46.5L55.1,45.0L56.9,43.0L59.5,41.7L68.5,39.7L70.5,39.8L72.0,40.3L73.8,42.5L74.3,46.5L73.2,51.0L70.8,56.0L67.0,61.5L64.3,66.5L63.0,68.0L61.0,69.3L52.0,73.0ZM24.0,48.6L21.0,48.9L18.5,48.5L16.5,47.1L16.2,45.5L16.8,44.5L18.0,43.7L21.5,43.1L24.5,43.5L31.6,45.5L32.3,46.0L31.9,46.5L24.0,48.6ZM46.5,51.1L43.5,50.9L41.1,50.0L38.7,48.0L38.1,46.5L40.0,45.4L43.5,44.7L46.0,44.8L48.5,45.7L50.0,47.0L50.2,48.5L49.0,50.1L46.5,51.1ZM93.0,79.2L91.5,79.1L90.6,78.5L89.8,76.5L90.8,72.5L90.6,66.5L91.1,54.0L92.0,50.5L93.5,48.9L94.5,49.4L95.0,50.1L96.0,53.5L96.6,68.0L96.3,72.0L95.3,76.5L94.5,78.1L93.0,79.2Z" fill="#d9d5e0" fill-rule="evenodd" stroke="#555" stroke-width="0.45"/>
<path d="M53.5,70.0L52.5,70.0L52.0,69.5L52.1,66.5L50.6,60.5L50.6,58.0L51.5,56.0L55.5,51.7L57.6,45.0L60.0,43.1L66.0,40.9L69.0,40.5L71.5,41.1L72.5,42.0L73.3,43.5L73.6,47.0L72.7,51.0L70.2,56.0L62.5,67.0L59.5,68.7L53.5,70.0ZM21.5,48.0L19.5,47.8L18.0,47.0L17.6,46.0L18.0,45.0L19.5,44.2L21.5,44.0L23.7,44.5L25.0,45.5L25.2,46.0L24.6,47.0L21.5,48.0ZM93.0,77.7L91.5,77.5L91.1,76.5L91.8,73.0L91.3,67.5L91.7,56.0L92.5,52.5L93.5,51.3L94.5,52.0L95.3,55.0L95.8,68.0L95.5,71.4L94.5,75.1L94.0,76.5L93.0,77.7Z" fill="#cdc8d8" fill-rule="evenodd" stroke="#5a4a70" stroke-width="0.25"/>
<path d="M57.5,68.0L54.7,67.5L53.0,65.2L51.5,60.5L51.5,58.5L52.1,57.0L55.5,52.9L58.4,46.5L60.0,44.5L63.0,42.7L66.5,41.5L69.0,41.2L71.0,41.8L72.5,43.5L73.1,46.5L72.3,50.5L70.9,54.0L68.7,57.5L62.5,65.8L60.5,67.2L57.5,68.0ZM21.5,46.6L20.0,46.5L19.7,46.0L20.5,45.3L21.9,45.5L22.3,46.0L21.5,46.6ZM93.5,71.6L92.6,70.0L92.3,67.0L92.8,57.0L93.5,54.9L94.0,55.2L94.5,57.5L94.8,67.0L94.5,70.3L93.5,71.6Z" fill="#bfb7cd" fill-rule="evenodd" stroke="#5a4a70" stroke-width="0.25"/>
<path d="M60.0,66.5L57.0,66.9L54.5,65.7L53.4,64.0L52.4,61.5L52.3,59.5L52.6,58.0L56.0,53.2L59.1,47.0L60.7,45.0L63.0,43.5L66.0,42.2L68.0,41.9L70.0,42.2L71.6,43.5L72.4,45.5L72.3,48.5L71.3,52.0L68.9,56.5L63.5,63.6L62.0,65.3L60.0,66.5Z" fill="#afa4c1" fill-rule="evenodd" stroke="#5a4a70" stroke-width="0.25"/>
<path d="M58.5,66.1L56.0,65.6L53.9,63.5L53.0,60.5L53.7,57.5L56.5,53.4L59.6,47.5L61.5,45.2L63.5,43.9L66.0,42.9L68.0,42.6L69.8,43.0L71.3,44.5L71.9,47.0L71.5,50.0L70.1,53.5L67.6,57.5L62.5,63.9L60.5,65.4L58.5,66.1Z" fill="#9d90b4" fill-rule="evenodd" stroke="#5a4a70" stroke-width="0.25"/>
<path d="M59.5,65.1L57.0,65.1L54.8,63.5L53.7,60.5L54.2,58.0L59.6,48.5L61.5,46.1L63.5,44.6L65.5,43.7L67.5,43.3L69.0,43.5L70.5,44.7L71.2,46.5L71.0,49.5L70.1,52.5L67.8,56.5L63.5,61.8L61.5,63.9L59.5,65.1Z" fill="#8a7aa5" fill-rule="evenodd" stroke="#5a4a70" stroke-width="0.25"/>
<path d="M60.0,64.1L57.5,64.4L55.5,63.1L54.5,60.5L54.9,58.0L60.0,49.0L61.9,46.5L65.5,44.4L68.5,44.3L70.0,45.5L70.5,47.0L70.5,49.5L69.5,52.5L66.0,58.0L62.0,62.6L60.0,64.1Z" fill="#746294" fill-rule="evenodd" stroke="#5a4a70" stroke-width="0.25"/>
<path d="M59.5,63.5L57.3,63.5L55.6,62.0L55.1,60.0L55.9,57.5L60.3,49.5L62.2,47.0L65.5,45.0L67.0,44.8L68.5,45.2L69.6,46.5L70.0,48.5L69.5,51.0L68.5,53.5L66.5,56.6L62.5,61.3L59.5,63.5Z" fill="#645284" fill-rule="evenodd" stroke="#5a4a70" stroke-width="0.25"/>
<path d="M60.0,62.6L58.0,62.9L56.5,62.0L55.8,60.0L56.3,58.0L60.6,50.0L62.5,47.5L65.5,45.7L68.0,46.0L68.9,47.0L69.3,48.5L69.1,50.5L68.2,53.0L65.5,57.0L62.0,61.0L60.0,62.6Z" fill="#544274" fill-rule="evenodd" stroke="#5a4a70" stroke-width="0.25"/>
<path d="M59.0,62.1L58.0,62.0L57.0,61.2L56.7,59.0L61.0,50.5L62.5,48.4L64.0,47.1L66.0,46.5L67.5,46.9L68.3,48.0L68.5,49.5L68.0,51.8L67.0,53.9L61.6,60.5L59.0,62.1Z" fill="#453464" fill-rule="evenodd" stroke="#5a4a70" stroke-width="0.25"/>
<path d="M59.0,61.0L57.9,60.5L57.6,59.0L61.8,50.5L64.0,48.1L65.5,47.6L66.5,47.8L67.2,48.5L67.5,50.0L66.5,53.0L61.4,59.5L60.0,60.7L59.0,61.0Z" fill="#372753" fill-rule="evenodd" stroke="#5a4a70" stroke-width="0.25"/>
</g>
<path d="M50.2,33.5C51.1,30.5 52.7,28.3 54.7,26.8C56.8,25.3 59.9,24.3 62.5,24.5C65.1,24.7 68.5,26.0 70.3,27.9C72.1,29.8 72.8,32.2 73.2,35.7C73.6,39.2 73.0,45.0 72.5,49.1C72.0,53.2 71.2,57.6 70.3,60.2C69.4,62.8 68.2,64.1 66.9,64.7C65.6,65.3 64.2,64.3 62.5,63.6C60.8,62.9 58.6,61.9 56.9,60.2C55.2,58.5 53.6,56.1 52.4,53.5C51.2,50.9 49.9,47.9 49.5,44.6C49.1,41.3 49.3,36.5 50.2,33.5Z" fill="none" stroke="#333" stroke-width="0.85"/>
<path d="M27.9,41.3C28.8,40.0 30.7,38.4 33.5,37.9C36.3,37.4 41.8,37.8 44.6,38.4C47.4,39.0 48.9,39.9 50.2,41.3C51.5,42.7 52.5,44.8 52.4,46.8C52.3,48.8 51.2,51.8 49.5,53.5C47.8,55.2 44.7,56.5 42.4,56.9C40.1,57.3 37.8,56.7 35.7,55.8C33.7,54.9 31.4,53.0 30.1,51.3C28.8,49.6 28.3,47.4 27.9,45.7C27.5,44.0 27.0,42.6 27.9,41.3Z" fill="none" stroke="#f3a05c" stroke-width="0.85"/>
<path d="M12.3,43.5C13.2,41.8 14.7,40.1 16.7,39.0C18.7,37.9 22.4,36.8 24.5,36.8C26.6,36.8 28.1,37.7 29.0,39.0C29.9,40.3 29.4,41.8 30.1,44.6C30.9,47.4 32.0,52.6 33.5,55.8C35.0,59.0 37.7,61.4 39.0,63.6C40.3,65.8 41.8,67.2 41.3,69.2C40.8,71.2 38.1,74.1 35.7,75.8C33.3,77.5 29.2,79.0 26.8,79.2C24.4,79.4 22.7,78.7 21.2,77.0C19.7,75.3 18.9,72.4 17.8,69.2C16.7,66.0 15.6,61.4 14.5,58.0C13.4,54.6 11.6,51.5 11.2,49.1C10.8,46.7 11.4,45.2 12.3,43.5Z" fill="none" stroke="#ef6878" stroke-width="0.85"/>
<path d="M46.8,55.8C47.7,54.3 49.6,52.8 51.3,52.4C53.0,52.0 55.4,52.4 56.9,53.5C58.4,54.6 59.7,56.7 60.2,59.1C60.8,61.5 60.5,65.4 60.2,68.0C59.9,70.6 59.1,73.0 58.4,74.7C57.7,76.4 57.3,77.3 55.8,78.1C54.2,78.8 51.1,79.4 49.1,79.2C47.1,79.0 44.8,78.1 43.5,77.0C42.2,75.9 41.3,74.2 41.3,72.5C41.3,70.8 42.8,68.8 43.5,66.9C44.2,65.0 45.2,63.1 45.7,61.3C46.2,59.4 45.9,57.3 46.8,55.8Z" fill="none" stroke="#45c048" stroke-width="0.85"/>
<path d="M29.0,78.1C30.5,76.4 33.3,74.9 35.7,74.7C38.1,74.5 41.1,76.1 43.5,77.0C45.9,77.9 48.3,79.0 50.2,80.3C52.1,81.6 54.0,82.6 54.7,84.8C55.5,87.0 55.3,91.5 54.7,93.7C54.1,95.9 53.3,97.2 51.3,98.1C49.2,99.0 45.4,99.7 42.4,99.3C39.4,98.9 35.9,97.2 33.5,95.9C31.1,94.6 29.0,93.3 27.9,91.5C26.8,89.7 26.6,87.0 26.8,84.8C27.0,82.6 27.5,79.8 29.0,78.1Z" fill="none" stroke="#3f8a5c" stroke-width="0.85"/>
<path d="M78.6,80.6C79.1,79.2 80.9,77.3 81.8,76.4C82.7,75.5 82.9,75.0 83.8,75.4C84.7,75.8 86.6,77.8 87.2,78.6C87.8,79.4 87.9,79.4 87.4,80.4C86.9,81.4 84.9,83.8 84.0,84.8C83.1,85.8 82.8,86.2 82.0,86.2C81.2,86.2 79.6,85.5 79.0,84.6C78.4,83.7 78.1,82.0 78.6,80.6Z" fill="none" stroke="#3ed4de" stroke-width="0.85"/>
<path d="M99.1,58.5C98.9,60.7 98.7,62.9 98.4,64.9C98.1,67.0 97.7,69.0 97.2,70.8C96.7,72.7 96.2,74.4 95.6,75.9C95.1,77.3 94.4,78.7 93.8,79.7C93.2,80.7 92.5,81.5 91.8,82.0C91.1,82.5 90.4,82.8 89.8,82.7C89.1,82.7 88.5,82.4 87.9,81.8C87.3,81.2 86.7,80.3 86.2,79.2C85.7,78.1 85.3,76.7 84.9,75.1C84.6,73.6 84.3,71.8 84.1,69.9C83.9,68.0 83.8,66.0 83.7,63.9C83.7,61.8 83.8,59.6 83.9,57.5C84.1,55.3 84.3,53.1 84.6,51.1C84.9,49.0 85.3,47.0 85.8,45.2C86.3,43.3 86.8,41.6 87.4,40.1C87.9,38.7 88.6,37.3 89.2,36.3C89.8,35.3 90.5,34.5 91.2,34.0C91.9,33.5 92.6,33.2 93.2,33.3C93.9,33.3 94.5,33.6 95.1,34.2C95.7,34.8 96.3,35.7 96.8,36.8C97.3,37.9 97.7,39.3 98.1,40.9C98.4,42.4 98.7,44.2 98.9,46.1C99.1,48.0 99.2,50.0 99.3,52.1C99.3,54.2 99.2,56.4 99.1,58.5Z" fill="none" stroke="#5a6af0" stroke-width="0.85"/>
</g>
<rect x="164.8" y="25" width="114.9" height="114.7" fill="none" stroke="#111" stroke-width="1.2"/>
<text x="198.1" y="49.5" font-size="8.2" fill="#f47a26" text-anchor="middle" textLength="17.32" lengthAdjust="spacingAndGlyphs" stroke="#f47a26" stroke-width="0.12">Early</text>
<text x="198.1" y="58.4" font-size="8.2" fill="#f47a26" text-anchor="middle" textLength="27.87" lengthAdjust="spacingAndGlyphs" stroke="#f47a26" stroke-width="0.12">MEMBP</text>
<text x="235.1" y="49.5" font-size="8.2" fill="#222" text-anchor="middle" textLength="34.63" lengthAdjust="spacingAndGlyphs" stroke="#222" stroke-width="0.12">HSC/MPP</text>
<text x="270.4" y="61.4" font-size="8.2" fill="#3a44e0" text-anchor="middle" textLength="12.82" lengthAdjust="spacingAndGlyphs" stroke="#3a44e0" stroke-width="0.12">LyP</text>
<text x="173.3" y="103.8" font-size="8.2" fill="#e8304a" text-anchor="middle" textLength="14.79" lengthAdjust="spacingAndGlyphs" stroke="#e8304a" stroke-width="0.12">Late</text>
<rect x="159.3" y="106.7" width="26" height="7" fill="#fff"/>
<text x="172.3" y="113.1" font-size="8.2" fill="#e8304a" text-anchor="middle" textLength="27.87" lengthAdjust="spacingAndGlyphs" stroke="#e8304a" stroke-width="0.12">MEMBP</text>
<text x="231.3" y="110.0" font-size="8.2" fill="#3cb44b" text-anchor="middle" textLength="17.32" lengthAdjust="spacingAndGlyphs" stroke="#3cb44b" stroke-width="0.12">Early</text>
<text x="231.3" y="118.7" font-size="8.2" fill="#3cb44b" text-anchor="middle" textLength="15.2" lengthAdjust="spacingAndGlyphs" stroke="#3cb44b" stroke-width="0.12">MyP</text>
<text x="251.3" y="119.4" font-size="8.2" fill="#2ec4d0" text-anchor="middle" textLength="16.89" lengthAdjust="spacingAndGlyphs" stroke="#2ec4d0" stroke-width="0.12">MDP</text>
<text x="190.5" y="130.5" font-size="8.2" fill="#3cb44b" text-anchor="middle" textLength="32.11" lengthAdjust="spacingAndGlyphs" stroke="#3cb44b" stroke-width="0.12">Late MyP</text>
<text x="350.05" y="22.4" font-size="10" fill="#111" text-anchor="middle" stroke="#111" stroke-width="0.12">PB</text>
<g transform="translate(292.6,25)">
<clipPath id="clipPB"><rect x="0" y="0" width="114.9" height="114.9"/></clipPath><g clip-path="url(#clipPB)">
<path d="M33.7 71.9h0M19.7 40.6h0M39.2 66.1h0M33.4 72.0h0M30.1 56.0h0M24.1 58.5h0M32.4 71.0h0M19.1 60.0h0M27.6 47.4h0M13.0 52.0h0M23.6 45.3h0M20.5 42.6h0M32.5 65.2h0M18.4 47.0h0M26.7 55.7h0M20.2 74.3h0M15.5 60.7h0M21.2 71.4h0M27.7 69.0h0M29.2 56.4h0M34.3 72.0h0M14.6 49.1h0M22.1 45.6h0M13.0 48.7h0M17.1 66.5h0M24.7 41.6h0M21.0 56.7h0M22.1 43.9h0M14.5 57.5h0M24.3 44.8h0M38.9 64.1h0M30.1 76.5h0M30.8 47.5h0M18.6 42.7h0M16.8 63.9h0M36.2 68.3h0M21.0 44.6h0M22.3 60.2h0M22.3 72.1h0M18.4 38.5h0M28.3 63.4h0M35.9 66.7h0M26.1 58.0h0M15.9 49.5h0M28.7 40.2h0M24.5 77.9h0M24.4 44.9h0M36.5 73.1h0M19.7 64.9h0M26.7 54.7h0M21.4 55.4h0M31.2 71.8h0M20.1 55.6h0M28.2 51.6h0M17.1 40.4h0M20.9 56.3h0M31.6 62.6h0M20.1 61.0h0M30.7 49.5h0M21.5 74.3h0M31.6 55.8h0M22.4 61.4h0M23.7 59.3h0M28.2 53.6h0M14.6 44.5h0M18.8 40.8h0M27.2 47.5h0M25.9 60.3h0M18.0 61.1h0M28.9 40.2h0M23.5 39.9h0M24.4 73.4h0M27.8 67.1h0M23.0 44.1h0M18.3 52.6h0M17.6 49.5h0M32.5 54.9h0M37.9 63.1h0M21.5 69.2h0M31.7 71.8h0M14.9 52.6h0M29.4 41.0h0M27.7 70.8h0M17.0 55.7h0M36.4 61.5h0M16.8 60.3h0M19.9 65.9h0M22.7 42.9h0M32.0 71.1h0M21.5 43.2h0M26.3 73.8h0M31.7 53.4h0M25.5 43.5h0M37.5 62.7h0M13.5 50.8h0M16.3 52.1h0M25.3 61.3h0M22.9 51.8h0M19.4 58.0h0M19.1 60.9h0M27.1 77.4h0M28.1 69.5h0M37.5 69.6h0M30.3 63.7h0M22.1 48.7h0M35.1 73.8h0M39.5 65.7h0M20.4 69.2h0M33.5 58.4h0M30.3 51.7h0M41.4 45.6h0M29.4 44.3h0M39.7 44.9h0M33.9 42.4h0M36.5 40.5h0M39.0 46.4h0M41.8 43.6h0M32.0 39.2h0M35.3 43.8h0M45.7 48.4h0M50.9 44.4h0M50.5 49.0h0M29.9 41.3h0M42.1 56.7h0M36.6 52.6h0M38.4 54.4h0M29.6 47.1h0M49.9 43.1h0M34.2 38.3h0M31.9 43.0h0M46.5 80.1h0M37.9 79.6h0M43.6 96.0h0M44.9 79.5h0M47.3 98.4h0M49.4 96.2h0M36.3 78.1h0M32.1 87.9h0M51.2 90.4h0M35.9 93.1h0M44.9 84.7h0M45.7 83.0h0M28.4 84.9h0M28.1 90.1h0M36.1 86.9h0M43.5 81.0h0M52.6 88.6h0M43.9 92.5h0M36.0 77.0h0M31.2 78.2h0M49.5 85.1h0M41.8 89.2h0M42.3 90.9h0M43.6 82.8h0M47.5 81.0h0M46.6 93.5h0M48.5 82.3h0M39.4 81.5h0M41.4 97.8h0M40.1 90.8h0M48.4 83.6h0M28.5 87.0h0M42.3 79.2h0M53.0 83.7h0M31.0 79.1h0M47.4 97.4h0M48.5 80.7h0M54.2 87.0h0M44.5 83.2h0M49.1 86.0h0M29.8 92.7h0M28.6 90.6h0M38.0 96.0h0M28.5 88.6h0M38.2 97.3h0M53.2 90.1h0M33.1 80.9h0M34.1 85.4h0M33.3 79.7h0M48.0 90.5h0M32.8 88.7h0M51.1 81.3h0M47.8 94.9h0M34.7 82.9h0M40.3 96.6h0M31.3 91.5h0M43.5 85.8h0M43.0 96.4h0M36.9 93.9h0M35.1 75.3h0M31.0 92.8h0M29.5 78.9h0M46.8 96.4h0M33.3 94.2h0M40.9 80.4h0M38.8 77.3h0M35.6 96.3h0M30.2 86.7h0M30.6 85.2h0M31.8 91.6h0M30.9 92.9h0M40.8 77.5h0M36.7 86.9h0M52.4 83.3h0M51.4 92.7h0M34.4 79.1h0M34.2 76.4h0M28.0 87.2h0M38.2 88.4h0M46.0 90.8h0M42.0 88.2h0M51.2 92.4h0M37.9 82.5h0M37.6 84.2h0M38.2 78.2h0M43.8 97.5h0M33.9 89.7h0M37.3 80.6h0M32.3 77.6h0M50.3 94.0h0M46.2 82.7h0M44.8 88.2h0M50.6 87.2h0M43.3 99.2h0M33.3 90.2h0M47.5 84.0h0M46.7 84.4h0M41.5 89.8h0M45.7 82.6h0M44.3 88.1h0M33.0 89.8h0M40.0 92.5h0M41.4 86.4h0M33.0 78.2h0M52.7 87.7h0M41.4 87.7h0M49.5 80.6h0M39.6 90.5h0M49.9 96.7h0M37.4 95.2h0M56.8 55.7h0M56.5 66.4h0M49.9 54.8h0M54.4 64.4h0M50.3 73.8h0M55.6 56.4h0M54.2 62.2h0M51.1 58.8h0M48.3 61.5h0M45.1 67.7h0M54.9 59.8h0M47.4 58.9h0M57.1 54.8h0M53.3 75.4h0M45.1 63.7h0M56.3 69.0h0M49.7 62.2h0M54.8 60.3h0M49.0 69.8h0M56.6 61.8h0M89.8 61.9h0M89.6 66.2h0M88.9 36.7h0M95.4 52.0h0M91.9 57.8h0M97.6 70.7h0M84.3 62.6h0M90.9 56.1h0M96.7 53.8h0M91.1 77.4h0M90.6 57.6h0M91.7 74.1h0M94.1 69.9h0M90.0 35.2h0M94.2 60.7h0M95.6 71.4h0M85.7 44.1h0M95.4 61.2h0M84.7 67.0h0M94.7 57.1h0M84.7 67.5h0M90.3 62.2h0M89.0 58.9h0M88.1 46.2h0M88.7 45.8h0M97.0 60.8h0M91.7 54.0h0M84.7 48.3h0M97.1 73.0h0M96.9 46.0h0M62.2 39.5h0M60.5 44.2h0M63.3 39.2h0M68.5 32.6h0M71.3 46.9h0M50.7 37.1h0M62.1 40.9h0M62.9 37.5h0M56.0 56.5h0M56.4 53.1h0" stroke="#b4b4b4" stroke-width="0.5" stroke-linecap="round" fill="none"/>
<path d="M44.0,94.1L40.5,94.3L37.0,93.7L34.0,92.3L31.8,90.0L31.3,88.5L31.3,86.5L33.5,80.0L33.8,77.0L32.5,75.5L27.5,73.6L24.5,71.8L21.2,68.5L18.8,65.0L17.5,62.0L16.7,59.0L16.2,51.5L15.2,46.0L15.4,43.0L16.5,40.5L18.5,38.4L21.0,37.0L24.0,36.2L26.5,36.2L29.0,36.8L33.5,39.0L41.0,38.2L48.5,39.6L50.3,39.5L50.9,38.5L52.2,31.5L54.5,27.6L56.5,25.8L58.5,24.8L61.0,24.4L63.0,24.6L65.5,25.8L67.4,27.5L69.2,30.0L70.2,32.5L70.8,36.5L70.4,42.5L72.1,47.0L72.6,49.5L72.3,54.5L71.2,57.5L69.0,60.5L66.5,62.2L63.0,63.5L62.2,68.5L61.2,71.5L58.5,75.8L56.8,80.0L52.6,85.0L50.7,90.0L48.0,92.6L44.0,94.1ZM84.5,82.6L82.4,82.5L81.8,82.0L81.5,81.0L81.8,80.0L83.0,78.7L84.5,77.9L86.5,77.6L86.9,77.0L85.8,69.5L86.2,61.0L85.0,52.5L85.3,44.5L86.7,39.0L88.4,35.5L90.5,33.4L93.0,32.8L95.0,33.7L97.2,36.5L98.8,40.5L99.8,45.5L99.9,53.5L98.2,62.5L98.3,69.0L97.8,73.0L96.4,78.0L94.0,81.3L93.0,81.8L91.5,82.0L88.0,80.0L86.0,81.9L84.5,82.6ZM42.6,65.5L44.1,57.0L43.9,56.0L43.0,55.7L38.8,56.5L37.9,57.5L38.1,59.0L39.0,61.0L42.0,65.3L42.5,65.8L42.6,65.5ZM78.0,71.0L76.5,71.2L74.5,70.8L71.6,69.0L70.0,66.5L70.0,65.0L70.5,63.9L72.0,63.0L74.0,62.8L76.5,63.6L78.4,65.0L79.8,67.0L80.1,68.5L79.6,70.0L78.0,71.0Z" fill="#ebe9ef" fill-rule="evenodd" stroke="#555" stroke-width="0.45"/>
<path d="M44.5,92.1L41.5,92.5L38.5,92.0L36.0,90.8L34.4,89.0L33.9,87.0L34.1,85.0L37.2,75.5L37.3,74.0L31.0,72.7L28.0,71.3L25.4,69.0L21.6,64.0L20.3,61.5L19.4,58.5L18.9,52.0L17.3,46.0L17.4,43.0L18.5,41.0L20.0,39.5L22.0,38.5L24.5,37.9L28.0,38.3L32.5,40.4L37.5,39.1L41.0,38.8L44.0,39.2L51.0,40.9L51.6,40.0L52.3,33.0L53.3,30.5L54.6,28.5L56.5,26.7L58.5,25.6L60.5,25.2L63.0,25.4L65.0,26.3L67.0,28.0L68.7,30.5L69.7,33.0L70.2,36.5L69.8,42.5L71.7,47.5L72.1,50.0L71.7,54.5L70.2,58.0L68.5,60.0L66.5,61.4L62.5,62.8L61.1,70.0L58.0,75.1L56.2,79.5L54.6,81.5L51.2,84.5L48.5,89.6L46.5,91.3L44.5,92.1ZM92.5,81.0L90.5,80.7L88.2,78.5L86.8,74.0L86.2,68.5L86.6,60.0L85.7,54.5L85.4,50.0L85.8,44.5L87.3,39.0L89.5,35.4L91.0,34.2L92.5,33.8L94.0,34.2L95.5,35.4L97.7,39.0L99.2,44.5L99.6,50.0L99.2,55.0L97.8,62.0L97.8,69.5L97.2,74.0L95.2,79.0L94.0,80.3L92.5,81.0ZM42.0,70.5L43.8,69.5L44.4,68.5L43.9,63.0L44.9,55.5L44.5,55.0L43.5,54.9L35.8,56.0L35.2,56.5L35.0,57.5L35.7,60.5L39.6,66.0L40.2,70.5L41.0,70.8L42.0,70.5ZM77.5,70.0L75.0,70.0L72.4,68.5L71.2,66.5L71.1,65.5L71.7,64.5L73.0,63.8L74.5,63.9L76.0,64.4L77.6,65.5L78.7,67.0L78.9,68.0L78.5,69.3L77.5,70.0ZM85.0,81.7L83.0,81.8L82.5,80.5L84.0,78.8L86.0,78.5L86.7,79.0L86.7,80.0L85.0,81.7Z" fill="#e3e1e8" fill-rule="evenodd" stroke="#555" stroke-width="0.45"/>
<path d="M43.5,90.5L40.5,90.6L37.9,89.5L36.4,87.5L36.2,85.0L37.4,80.0L40.2,74.5L41.6,72.5L45.0,69.3L44.5,62.5L45.8,55.0L45.5,54.5L44.5,54.2L39.5,54.9L33.5,54.7L32.5,55.0L32.0,58.0L32.3,61.0L33.3,62.5L36.5,65.5L37.4,68.0L36.8,69.5L35.5,70.6L33.5,70.9L31.0,70.4L29.5,69.5L28.1,68.0L22.8,59.5L22.1,57.0L21.6,52.0L19.2,46.0L19.3,43.5L20.0,41.9L21.5,40.5L25.0,39.5L27.5,39.8L30.5,41.5L31.5,41.7L37.5,39.7L42.0,39.4L44.5,39.8L52.0,42.5L52.5,41.5L52.3,37.0L52.7,34.0L54.6,29.5L56.5,27.5L58.5,26.3L61.0,25.8L63.0,26.1L65.0,27.1L67.0,29.0L68.3,31.0L69.2,33.5L69.7,37.0L69.3,42.5L71.1,47.5L71.6,50.0L71.1,54.5L69.8,57.5L68.0,59.7L66.0,61.0L62.5,61.8L61.8,62.5L60.7,69.5L57.3,75.0L55.0,80.0L53.5,81.6L49.5,84.5L46.6,89.0L43.5,90.5ZM93.0,80.1L91.5,80.2L89.5,79.0L88.2,77.0L87.2,74.0L86.5,68.5L87.0,59.8L85.9,50.5L86.3,44.5L87.7,39.5L90.0,35.9L91.0,35.2L92.5,34.8L94.0,35.2L95.0,35.9L97.1,39.0L98.6,44.0L99.1,49.5L98.8,55.0L97.4,61.5L97.4,69.5L96.9,73.5L95.2,78.0L93.0,80.1ZM76.5,69.2L75.0,69.1L73.1,68.0L72.3,66.5L72.5,65.5L73.5,64.8L74.5,64.8L76.9,66.0L77.5,67.0L77.7,68.0L76.5,69.2ZM84.5,81.1L83.8,81.0L83.5,80.5L83.7,80.0L84.5,79.4L85.5,79.4L85.4,80.5L84.5,81.1Z" fill="#d9d5e0" fill-rule="evenodd" stroke="#555" stroke-width="0.45"/>
<path d="M43.5,88.5L41.5,88.7L39.5,87.8L38.4,86.0L38.3,83.5L38.9,81.0L41.4,74.5L45.7,69.5L45.0,62.5L46.6,55.5L46.5,54.3L45.0,53.5L39.5,54.4L36.0,54.2L32.4,53.0L28.5,50.3L26.5,50.7L25.5,50.5L23.5,49.0L22.0,47.3L21.3,45.5L21.3,44.0L22.5,42.1L24.5,41.3L27.0,41.6L30.0,43.4L37.0,40.3L40.0,39.8L42.5,39.9L46.5,41.1L51.8,44.0L53.1,45.5L54.5,49.2L55.2,48.5L55.4,46.5L53.6,42.5L52.8,38.0L53.0,35.0L53.6,32.5L55.3,29.5L57.5,27.5L60.0,26.6L63.0,26.8L65.0,27.9L66.5,29.3L67.7,31.0L68.7,33.5L69.1,37.0L68.8,42.5L70.6,47.5L71.1,50.0L70.6,54.5L69.2,57.5L67.5,59.4L65.5,60.5L62.0,61.3L61.2,62.0L60.8,67.0L60.1,69.5L56.9,74.5L54.5,79.6L52.5,81.5L48.1,84.0L45.5,87.4L43.5,88.5ZM93.0,79.2L91.0,79.3L89.5,78.0L88.3,76.0L87.4,73.0L86.9,68.0L87.3,59.5L86.3,50.5L86.7,44.5L88.1,40.0L90.0,36.9L91.0,36.1L92.5,35.7L94.0,36.1L95.0,36.9L96.7,39.5L98.2,44.0L98.7,49.5L98.4,54.5L97.0,61.5L97.1,68.5L96.7,72.5L95.2,77.0L93.0,79.2ZM75.5,67.8L74.5,67.5L74.1,66.5L74.5,66.2L75.5,66.5L75.9,67.5L75.5,67.8Z" fill="#cdc8d8" fill-rule="evenodd" stroke="#5a4a70" stroke-width="0.25"/>
<path d="M43.5,85.6L42.0,85.7L40.9,84.5L40.8,83.0L41.4,78.0L42.6,74.0L45.6,71.0L46.4,69.5L45.6,62.0L47.4,55.5L47.5,54.0L47.0,53.3L46.0,52.9L38.5,53.9L34.0,52.9L32.0,51.5L30.8,50.0L30.1,48.0L30.2,46.0L32.2,43.5L36.0,41.1L39.5,40.3L43.0,40.5L47.0,42.0L51.0,44.5L52.7,47.0L53.4,51.0L54.5,51.6L55.5,50.5L56.2,47.0L53.5,39.5L53.4,36.0L54.0,33.0L55.5,30.2L57.5,28.3L60.0,27.2L63.0,27.5L64.8,28.5L66.4,30.0L68.3,34.0L68.6,37.0L68.3,42.5L70.1,47.5L70.6,50.0L70.1,54.5L68.9,57.0L67.0,59.1L65.0,60.1L62.0,60.5L61.0,61.1L60.5,62.3L60.3,66.5L59.7,69.0L56.4,74.0L53.7,79.5L51.0,81.6L46.1,83.5L43.5,85.6ZM92.5,78.6L91.0,78.4L89.5,77.1L87.7,72.5L87.3,68.0L87.7,59.5L86.7,50.0L87.1,45.0L88.4,40.5L90.5,37.5L92.5,36.7L94.5,37.5L96.6,40.5L97.9,45.0L98.3,50.0L98.1,54.0L96.7,61.0L96.7,68.5L96.3,72.5L94.8,76.5L93.6,78.0L92.5,78.6Z" fill="#bfb7cd" fill-rule="evenodd" stroke="#5a4a70" stroke-width="0.25"/>
<path d="M46.5,82.0L44.5,81.8L43.5,81.1L42.7,79.5L42.4,77.5L43.2,74.5L46.5,71.0L46.9,70.0L46.1,62.0L46.8,59.0L48.4,55.0L48.6,53.5L47.6,52.5L46.5,52.2L39.5,53.3L37.0,53.2L35.0,52.6L33.2,51.5L31.9,50.0L31.2,48.0L31.4,46.0L33.2,43.5L36.5,41.5L40.0,40.7L43.5,41.1L47.0,42.6L50.4,45.0L51.9,47.5L52.3,52.0L53.5,52.8L55.0,52.6L56.2,50.5L56.8,47.0L56.4,45.0L54.1,39.5L53.9,36.5L54.4,33.5L55.6,31.0L57.6,29.0L60.0,27.9L62.5,28.1L64.0,28.7L65.6,30.0L66.9,32.0L67.7,34.0L68.1,37.0L67.8,42.5L70.1,50.0L69.7,54.0L68.5,56.6L66.5,58.7L65.0,59.4L61.5,59.9L60.5,60.5L59.9,62.0L59.8,66.0L59.3,68.5L55.7,74.0L53.2,79.0L50.5,81.1L46.5,82.0ZM93.0,77.5L91.5,77.7L90.0,76.7L89.0,75.0L88.0,72.0L87.7,68.0L88.1,59.0L87.1,50.5L87.5,45.5L88.6,41.5L90.5,38.5L92.5,37.6L94.5,38.5L96.2,41.0L97.4,45.0L97.9,49.5L97.7,53.5L96.4,60.5L96.1,71.5L95.0,75.1L93.0,77.5Z" fill="#afa4c1" fill-rule="evenodd" stroke="#5a4a70" stroke-width="0.25"/>
<path d="M49.5,80.6L47.5,81.0L45.5,80.7L44.0,79.5L43.5,78.0L43.9,75.0L47.0,71.5L47.7,70.0L46.7,64.0L47.0,60.5L48.5,56.9L50.5,54.1L55.0,53.6L56.4,52.0L57.1,49.5L57.3,47.0L56.8,44.5L54.8,39.5L54.5,37.0L54.8,34.5L55.8,32.0L57.5,29.9L59.5,28.8L62.0,28.7L63.5,29.3L65.0,30.4L66.2,32.0L67.1,34.0L67.5,37.0L67.3,42.0L69.5,49.5L69.3,53.5L68.2,56.0L66.3,58.0L64.5,58.8L61.0,59.3L59.9,60.0L59.3,61.5L59.2,66.5L58.3,69.0L55.4,73.0L52.6,78.5L51.5,79.6L49.5,80.6ZM92.5,76.6L91.0,76.4L90.0,75.5L88.5,71.5L88.1,68.0L88.5,58.5L87.6,50.0L88.0,45.6L89.0,42.1L90.5,39.7L92.5,38.8L94.5,39.7L96.0,42.1L97.0,45.6L97.4,50.0L96.0,60.0L95.5,71.5L94.5,74.7L93.5,76.0L92.5,76.6ZM41.5,52.5L38.5,52.8L36.0,52.3L34.0,51.2L32.6,49.5L32.1,48.0L32.3,46.0L33.6,44.0L35.5,42.5L39.0,41.3L43.0,41.6L47.5,43.7L50.5,46.5L51.1,48.0L51.1,49.5L50.0,51.6L46.0,51.5L41.5,52.5Z" fill="#9d90b4" fill-rule="evenodd" stroke="#5a4a70" stroke-width="0.25"/>
<path d="M49.5,79.6L47.5,79.9L46.0,79.6L45.0,78.7L44.6,77.5L45.0,75.2L47.5,72.5L48.4,70.5L48.5,68.5L47.4,64.0L47.7,61.0L48.9,58.0L50.5,55.9L52.0,55.1L55.5,54.3L56.9,52.5L57.8,49.5L57.9,47.0L57.3,44.0L55.4,39.0L55.4,35.0L56.4,32.5L58.0,30.6L60.0,29.6L62.0,29.6L63.5,30.3L64.9,31.5L66.5,34.5L66.8,36.5L66.7,42.0L68.8,49.5L68.7,53.0L67.7,55.5L66.0,57.3L64.0,58.1L60.5,58.6L59.2,59.5L58.6,61.0L58.5,66.0L57.7,68.5L54.8,72.5L52.0,77.5L49.5,79.6ZM92.5,75.2L91.5,75.2L90.5,74.5L89.0,70.8L88.9,57.0L88.2,50.0L88.5,46.4L89.5,43.0L91.0,40.8L92.5,40.2L94.0,40.8L95.5,43.0L96.5,46.4L96.8,50.0L95.6,58.5L95.0,70.8L94.0,73.8L92.5,75.2ZM40.5,52.0L38.0,52.0L36.0,51.5L34.5,50.5L33.5,49.3L33.0,47.5L33.3,46.0L34.2,44.5L35.8,43.0L39.0,41.9L42.5,42.2L46.6,44.0L49.4,46.5L49.9,48.5L49.0,50.1L40.5,52.0Z" fill="#8a7aa5" fill-rule="evenodd" stroke="#5a4a70" stroke-width="0.25"/>
<path d="M51.0,75.2L49.5,75.2L48.9,74.5L49.7,69.0L48.6,64.5L48.7,61.5L49.5,59.3L51.0,57.2L52.5,56.2L56.0,55.1L57.5,53.0L58.5,50.0L58.7,48.0L57.9,43.0L56.3,38.5L56.3,35.5L57.0,33.5L58.5,31.7L60.0,30.9L62.0,30.9L64.3,32.5L65.6,35.0L65.9,41.0L67.9,50.0L67.7,53.0L66.8,55.0L65.2,56.5L63.5,57.2L60.0,57.7L58.5,58.7L57.8,60.5L57.5,65.3L57.0,67.2L52.5,74.0L51.0,75.2ZM92.5,71.8L91.5,71.8L91.0,71.2L90.0,68.1L89.4,63.0L89.6,55.5L89.2,50.0L90.0,44.9L91.0,43.1L92.5,42.3L94.0,43.1L95.0,44.9L95.8,50.0L94.5,66.2L93.5,70.3L92.5,71.8ZM40.5,51.0L38.5,51.1L36.5,50.5L34.5,48.6L34.5,46.0L35.3,44.5L36.5,43.4L39.0,42.5L41.5,42.8L45.5,44.5L48.0,46.5L48.5,48.0L47.5,49.2L40.5,51.0ZM48.5,77.5L47.5,77.9L47.0,77.7L46.9,76.5L48.0,76.0L48.5,76.5L48.5,77.5Z" fill="#746294" fill-rule="evenodd" stroke="#5a4a70" stroke-width="0.25"/>
<path d="M55.0,63.0L54.0,63.2L52.5,62.5L51.8,61.5L51.8,60.0L52.4,58.5L53.4,57.5L56.9,56.5L57.4,56.0L59.7,50.5L59.8,49.0L58.8,44.5L58.4,36.5L59.5,34.3L60.5,33.7L61.5,33.7L62.5,34.3L63.3,35.5L65.5,42.6L66.0,46.0L65.9,52.0L65.0,54.0L63.3,55.5L57.5,57.1L56.0,61.5L55.0,63.0ZM38.0,47.5L37.0,47.3L36.4,46.5L36.2,45.5L36.6,44.5L38.5,43.4L40.0,43.5L41.1,44.0L41.8,45.0L41.8,46.0L40.5,46.9L38.0,47.5ZM45.5,48.0L44.0,48.0L43.4,47.0L43.9,46.5L45.0,46.5L46.0,47.4L45.5,48.0ZM93.0,65.2L92.0,65.3L91.0,64.8L90.0,62.0L90.0,59.0L90.4,56.5L91.0,55.1L92.0,54.3L93.5,55.1L94.5,59.0L94.3,63.0L93.7,64.5L93.0,65.2Z" fill="#645284" fill-rule="evenodd" stroke="#5a4a70" stroke-width="0.25"/>
<path d="M62.0,48.0L61.0,47.7L60.3,47.0L59.6,44.0L60.5,41.7L62.5,40.9L63.5,41.1L64.5,42.3L65.1,45.0L64.7,46.5L64.0,47.3L62.0,48.0ZM93.0,63.1L92.5,63.3L91.5,63.0L90.6,61.0L91.0,58.0L92.0,57.0L93.0,57.3L93.7,59.0L93.7,61.5L93.0,63.1Z" fill="#544274" fill-rule="evenodd" stroke="#5a4a70" stroke-width="0.25"/>
<path d="M63.0,46.1L61.5,46.1L60.7,45.0L60.9,43.5L62.0,42.5L63.5,42.9L64.0,44.0L63.9,45.0L63.0,46.1Z" fill="#453464" fill-rule="evenodd" stroke="#5a4a70" stroke-width="0.25"/>
</g>
<path d="M50.2,33.5C51.1,30.5 52.7,28.3 54.7,26.8C56.8,25.3 59.9,24.3 62.5,24.5C65.1,24.7 68.5,26.0 70.3,27.9C72.1,29.8 72.8,32.2 73.2,35.7C73.6,39.2 73.0,45.0 72.5,49.1C72.0,53.2 71.2,57.6 70.3,60.2C69.4,62.8 68.2,64.1 66.9,64.7C65.6,65.3 64.2,64.3 62.5,63.6C60.8,62.9 58.6,61.9 56.9,60.2C55.2,58.5 53.6,56.1 52.4,53.5C51.2,50.9 49.9,47.9 49.5,44.6C49.1,41.3 49.3,36.5 50.2,33.5Z" fill="none" stroke="#333" stroke-width="0.85"/>
<path d="M27.9,41.3C28.8,40.0 30.7,38.4 33.5,37.9C36.3,37.4 41.8,37.8 44.6,38.4C47.4,39.0 48.9,39.9 50.2,41.3C51.5,42.7 52.5,44.8 52.4,46.8C52.3,48.8 51.2,51.8 49.5,53.5C47.8,55.2 44.7,56.5 42.4,56.9C40.1,57.3 37.8,56.7 35.7,55.8C33.7,54.9 31.4,53.0 30.1,51.3C28.8,49.6 28.3,47.4 27.9,45.7C27.5,44.0 27.0,42.6 27.9,41.3Z" fill="none" stroke="#f3a05c" stroke-width="0.85"/>
<path d="M12.3,43.5C13.2,41.8 14.7,40.1 16.7,39.0C18.7,37.9 22.4,36.8 24.5,36.8C26.6,36.8 28.1,37.7 29.0,39.0C29.9,40.3 29.4,41.8 30.1,44.6C30.9,47.4 32.0,52.6 33.5,55.8C35.0,59.0 37.7,61.4 39.0,63.6C40.3,65.8 41.8,67.2 41.3,69.2C40.8,71.2 38.1,74.1 35.7,75.8C33.3,77.5 29.2,79.0 26.8,79.2C24.4,79.4 22.7,78.7 21.2,77.0C19.7,75.3 18.9,72.4 17.8,69.2C16.7,66.0 15.6,61.4 14.5,58.0C13.4,54.6 11.6,51.5 11.2,49.1C10.8,46.7 11.4,45.2 12.3,43.5Z" fill="none" stroke="#ef6878" stroke-width="0.85"/>
<path d="M46.8,55.8C47.7,54.3 49.6,52.8 51.3,52.4C53.0,52.0 55.4,52.4 56.9,53.5C58.4,54.6 59.7,56.7 60.2,59.1C60.8,61.5 60.5,65.4 60.2,68.0C59.9,70.6 59.1,73.0 58.4,74.7C57.7,76.4 57.3,77.3 55.8,78.1C54.2,78.8 51.1,79.4 49.1,79.2C47.1,79.0 44.8,78.1 43.5,77.0C42.2,75.9 41.3,74.2 41.3,72.5C41.3,70.8 42.8,68.8 43.5,66.9C44.2,65.0 45.2,63.1 45.7,61.3C46.2,59.4 45.9,57.3 46.8,55.8Z" fill="none" stroke="#45c048" stroke-width="0.85"/>
<path d="M29.0,78.1C30.5,76.4 33.3,74.9 35.7,74.7C38.1,74.5 41.1,76.1 43.5,77.0C45.9,77.9 48.3,79.0 50.2,80.3C52.1,81.6 54.0,82.6 54.7,84.8C55.5,87.0 55.3,91.5 54.7,93.7C54.1,95.9 53.3,97.2 51.3,98.1C49.2,99.0 45.4,99.7 42.4,99.3C39.4,98.9 35.9,97.2 33.5,95.9C31.1,94.6 29.0,93.3 27.9,91.5C26.8,89.7 26.6,87.0 26.8,84.8C27.0,82.6 27.5,79.8 29.0,78.1Z" fill="none" stroke="#3f8a5c" stroke-width="0.85"/>
<path d="M78.6,80.6C79.1,79.2 80.9,77.3 81.8,76.4C82.7,75.5 82.9,75.0 83.8,75.4C84.7,75.8 86.6,77.8 87.2,78.6C87.8,79.4 87.9,79.4 87.4,80.4C86.9,81.4 84.9,83.8 84.0,84.8C83.1,85.8 82.8,86.2 82.0,86.2C81.2,86.2 79.6,85.5 79.0,84.6C78.4,83.7 78.1,82.0 78.6,80.6Z" fill="none" stroke="#3ed4de" stroke-width="0.85"/>
<path d="M99.1,58.5C98.9,60.7 98.7,62.9 98.4,64.9C98.1,67.0 97.7,69.0 97.2,70.8C96.7,72.7 96.2,74.4 95.6,75.9C95.1,77.3 94.4,78.7 93.8,79.7C93.2,80.7 92.5,81.5 91.8,82.0C91.1,82.5 90.4,82.8 89.8,82.7C89.1,82.7 88.5,82.4 87.9,81.8C87.3,81.2 86.7,80.3 86.2,79.2C85.7,78.1 85.3,76.7 84.9,75.1C84.6,73.6 84.3,71.8 84.1,69.9C83.9,68.0 83.8,66.0 83.7,63.9C83.7,61.8 83.8,59.6 83.9,57.5C84.1,55.3 84.3,53.1 84.6,51.1C84.9,49.0 85.3,47.0 85.8,45.2C86.3,43.3 86.8,41.6 87.4,40.1C87.9,38.7 88.6,37.3 89.2,36.3C89.8,35.3 90.5,34.5 91.2,34.0C91.9,33.5 92.6,33.2 93.2,33.3C93.9,33.3 94.5,33.6 95.1,34.2C95.7,34.8 96.3,35.7 96.8,36.8C97.3,37.9 97.7,39.3 98.1,40.9C98.4,42.4 98.7,44.2 98.9,46.1C99.1,48.0 99.2,50.0 99.3,52.1C99.3,54.2 99.2,56.4 99.1,58.5Z" fill="none" stroke="#5a6af0" stroke-width="0.85"/>
</g>
<rect x="292.6" y="25" width="114.9" height="114.7" fill="none" stroke="#111" stroke-width="1.2"/>
<text x="325.9" y="49.5" font-size="8.2" fill="#f47a26" text-anchor="middle" textLength="17.32" lengthAdjust="spacingAndGlyphs" stroke="#f47a26" stroke-width="0.12">Early</text>
<text x="325.9" y="58.4" font-size="8.2" fill="#f47a26" text-anchor="middle" textLength="27.87" lengthAdjust="spacingAndGlyphs" stroke="#f47a26" stroke-width="0.12">MEMBP</text>
<text x="362.9" y="49.5" font-size="8.2" fill="#222" text-anchor="middle" textLength="34.63" lengthAdjust="spacingAndGlyphs" stroke="#222" stroke-width="0.12">HSC/MPP</text>
<text x="398.2" y="61.4" font-size="8.2" fill="#3a44e0" text-anchor="middle" textLength="12.82" lengthAdjust="spacingAndGlyphs" stroke="#3a44e0" stroke-width="0.12">LyP</text>
<text x="301.1" y="103.8" font-size="8.2" fill="#e8304a" text-anchor="middle" textLength="14.79" lengthAdjust="spacingAndGlyphs" stroke="#e8304a" stroke-width="0.12">Late</text>
<rect x="287.1" y="106.7" width="26" height="7" fill="#fff"/>
<text x="300.1" y="113.1" font-size="8.2" fill="#e8304a" text-anchor="middle" textLength="27.87" lengthAdjust="spacingAndGlyphs" stroke="#e8304a" stroke-width="0.12">MEMBP</text>
<text x="359.1" y="110.0" font-size="8.2" fill="#3cb44b" text-anchor="middle" textLength="17.32" lengthAdjust="spacingAndGlyphs" stroke="#3cb44b" stroke-width="0.12">Early</text>
<text x="359.1" y="118.7" font-size="8.2" fill="#3cb44b" text-anchor="middle" textLength="15.2" lengthAdjust="spacingAndGlyphs" stroke="#3cb44b" stroke-width="0.12">MyP</text>
<text x="379.1" y="119.4" font-size="8.2" fill="#2ec4d0" text-anchor="middle" textLength="16.89" lengthAdjust="spacingAndGlyphs" stroke="#2ec4d0" stroke-width="0.12">MDP</text>
<text x="318.3" y="130.5" font-size="8.2" fill="#3cb44b" text-anchor="middle" textLength="32.11" lengthAdjust="spacingAndGlyphs" stroke="#3cb44b" stroke-width="0.12">Late MyP</text>
<defs><linearGradient id="cbA" x1="0" y1="1" x2="0" y2="0"><stop offset="0" stop-color="#d2c6e6"/><stop offset="0.5" stop-color="#7d6a9c"/><stop offset="1" stop-color="#3b2756"/></linearGradient></defs>
<rect x="417.1" y="108.6" width="4.2" height="31.8" fill="url(#cbA)" stroke="#111" stroke-width="1"/>
<line x1="421.5" y1="112.5" x2="424.6" y2="112.5" stroke="#222" stroke-width="0.8"/>
<text x="426.5" y="115.4" font-size="8" fill="#222" text-anchor="start" stroke="#222" stroke-width="0.12">0.035</text>
<line x1="421.5" y1="120.3" x2="424.6" y2="120.3" stroke="#222" stroke-width="0.8"/>
<text x="426.5" y="123.2" font-size="8" fill="#222" text-anchor="start" stroke="#222" stroke-width="0.12">0.025</text>
<line x1="421.5" y1="128.4" x2="424.6" y2="128.4" stroke="#222" stroke-width="0.8"/>
<text x="426.5" y="131.3" font-size="8" fill="#222" text-anchor="start" stroke="#222" stroke-width="0.12">0.015</text>
<line x1="421.5" y1="136.4" x2="424.6" y2="136.4" stroke="#222" stroke-width="0.8"/>
<text x="426.5" y="139.3" font-size="8" fill="#222" text-anchor="start" stroke="#222" stroke-width="0.12">0.005</text>
<text x="432" y="94" font-size="8" fill="#222" text-anchor="middle" stroke="#222" stroke-width="0.12">Cell</text>
<text x="432" y="103.5" font-size="8" fill="#222" text-anchor="middle" stroke="#222" stroke-width="0.12">density</text>
<path d="M33.5,129 V143.5 H48" fill="none" stroke="#111" stroke-width="1.1"/>
<text x="46.3" y="152.2" font-size="8.6" fill="#222" text-anchor="middle" textLength="26.07" lengthAdjust="spacingAndGlyphs" stroke="#222" stroke-width="0.12">UMAP1</text>
<text x="31.4" y="130.5" font-size="8.6" fill="#222" text-anchor="middle" textLength="26.07" lengthAdjust="spacingAndGlyphs" transform="rotate(-90 31.4 130.5)" stroke="#222" stroke-width="0.12">UMAP2</text>
<rect x="72" y="258.1" width="16.2" height="33.20" fill="#9a9a9a"/>
<rect x="72" y="253.9" width="16.2" height="4.20" fill="#d8d8d8"/>
<rect x="72" y="246.7" width="16.2" height="7.20" fill="#ffa84f"/>
<rect x="72" y="227.8" width="16.2" height="18.90" fill="#f0323e"/>
<rect x="72" y="209.2" width="16.2" height="18.60" fill="#00c400"/>
<rect x="72" y="197.4" width="16.2" height="11.80" fill="#007800"/>
<rect x="72" y="193.1" width="16.2" height="4.30" fill="#8e1f9e"/>
<rect x="72" y="189.2" width="16.2" height="3.90" fill="#0a8cff"/>
<rect x="72" y="188.8" width="16.2" height="0.40" fill="#8fd3f7"/>
<rect x="72" y="184.6" width="16.2" height="4.20" fill="#050505"/>
<rect x="96.9" y="250.2" width="16.2" height="41.10" fill="#9a9a9a"/>
<rect x="96.9" y="237.1" width="16.2" height="13.10" fill="#d8d8d8"/>
<rect x="96.9" y="225.7" width="16.2" height="11.40" fill="#ffa84f"/>
<rect x="96.9" y="214.9" width="16.2" height="10.80" fill="#f0323e"/>
<rect x="96.9" y="206.3" width="16.2" height="8.60" fill="#00c400"/>
<rect x="96.9" y="204.9" width="16.2" height="1.40" fill="#007800"/>
<rect x="96.9" y="188.2" width="16.2" height="16.70" fill="#0a8cff"/>
<rect x="96.9" y="187.8" width="16.2" height="0.40" fill="#8fd3f7"/>
<rect x="96.9" y="184.6" width="16.2" height="3.20" fill="#050505"/>
<rect x="121.2" y="262" width="16.2" height="29.30" fill="#9a9a9a"/>
<rect x="121.2" y="246.7" width="16.2" height="15.30" fill="#d8d8d8"/>
<rect x="121.2" y="231.7" width="16.2" height="15.00" fill="#ffa84f"/>
<rect x="121.2" y="222.8" width="16.2" height="8.90" fill="#f0323e"/>
<rect x="121.2" y="210.6" width="16.2" height="12.20" fill="#00c400"/>
<rect x="121.2" y="209.2" width="16.2" height="1.40" fill="#007800"/>
<rect x="121.2" y="188.2" width="16.2" height="21.00" fill="#0a8cff"/>
<rect x="121.2" y="187.8" width="16.2" height="0.40" fill="#8fd3f7"/>
<rect x="121.2" y="184.6" width="16.2" height="3.20" fill="#050505"/>
<path d="M80.1,184.6V186.5M78.3,186.5H81.89999999999999M80.1,188.8V191.6M78.3,191.6H81.89999999999999M80.1,193.1V195M78.3,195H81.89999999999999M80.1,197.4V199.8M78.3,199.8H81.89999999999999M80.1,209.2V214.1M78.3,214.1H81.89999999999999M80.1,227.8V232.5M78.3,232.5H81.89999999999999M80.1,246.7V250.6M78.3,250.6H81.89999999999999M80.1,253.9V255.6M78.3,255.6H81.89999999999999M80.1,256.5V258.1M78.3,258.1H81.89999999999999M105,184.6V194.9M103.2,194.9H106.8M105,204.9V207M103.2,207H106.8M105,206.3V207.6M103.2,207.6H106.8M105,214.9V216.3M103.2,216.3H106.8M105,225.7V226.6M103.2,226.6H106.8M105,237.1V238M103.2,238H106.8M105,250.2V256.3M103.2,256.3H106.8M129.3,184.6V204.2M127.50000000000001,204.2H131.10000000000002M129.3,209.2V210.4M127.50000000000001,210.4H131.10000000000002M129.3,210.6V215.6M127.50000000000001,215.6H131.10000000000002M129.3,222.8V225.2M127.50000000000001,225.2H131.10000000000002M129.3,231.7V234.2M127.50000000000001,234.2H131.10000000000002M129.3,246.7V248M127.50000000000001,248H131.10000000000002M129.3,262V272.3M127.50000000000001,272.3H131.10000000000002" stroke="#111" stroke-width="0.9" fill="none"/>
<path d="M64.4,180.6V291.3H146" fill="none" stroke="#111" stroke-width="1.2"/>
<path d="M61.400000000000006,291.3H64.4M62.60000000000001,280.6H64.4M61.400000000000006,269.9H64.4M62.60000000000001,259.2H64.4M61.400000000000006,248.5H64.4M62.60000000000001,237.8H64.4M61.400000000000006,227.0H64.4M62.60000000000001,216.3H64.4M61.400000000000006,205.6H64.4M62.60000000000001,194.9H64.4M61.400000000000006,184.2H64.4M80.1,291.3V293.8M105,291.3V293.8M129.3,291.3V293.8" stroke="#111" stroke-width="0.9" fill="none"/>
<text x="59.8" y="294.1" font-size="8" fill="#222" text-anchor="end" stroke="#222" stroke-width="0.12">0</text>
<text x="59.8" y="272.7" font-size="8" fill="#222" text-anchor="end" stroke="#222" stroke-width="0.12">1000</text>
<text x="59.8" y="251.3" font-size="8" fill="#222" text-anchor="end" stroke="#222" stroke-width="0.12">2000</text>
<text x="59.8" y="229.8" font-size="8" fill="#222" text-anchor="end" stroke="#222" stroke-width="0.12">3000</text>
<text x="59.8" y="208.4" font-size="8" fill="#222" text-anchor="end" stroke="#222" stroke-width="0.12">4000</text>
<text x="59.8" y="187.0" font-size="8" fill="#222" text-anchor="end" stroke="#222" stroke-width="0.12">5000</text>
<text x="80.1" y="304.2" font-size="8.6" fill="#222" text-anchor="middle" stroke="#222" stroke-width="0.12">BM</text>
<text x="105" y="304.2" font-size="8.6" fill="#222" text-anchor="middle" stroke="#222" stroke-width="0.12">SPL</text>
<text x="129.3" y="304.2" font-size="8.6" fill="#222" text-anchor="middle" stroke="#222" stroke-width="0.12">PB</text>
<text x="24.6" y="233" font-size="8.8" fill="#222" text-anchor="middle" textLength="39.4" lengthAdjust="spacingAndGlyphs" transform="rotate(-90 24.6 233)" stroke="#222" stroke-width="0.12">HSPC groups</text>
<text x="35.4" y="235.9" font-size="8.8" fill="#222" text-anchor="middle" textLength="80" lengthAdjust="spacingAndGlyphs" transform="rotate(-90 35.4 235.9)" stroke="#222" stroke-width="0.12">[number per 5000 cells]</text>
<rect x="148" y="186.2" width="7.2" height="4" fill="#050505"/>
<text x="159.5" y="191.0" font-size="7.8" fill="#222" text-anchor="start" textLength="22.41" lengthAdjust="spacingAndGlyphs" stroke="#222" stroke-width="0.12">ND/LQ</text>
<rect x="148" y="197.5" width="7.2" height="4" fill="#8fd3f7"/>
<text x="159.5" y="202.3" font-size="7.8" fill="#222" text-anchor="start" textLength="16.29" lengthAdjust="spacingAndGlyphs" stroke="#222" stroke-width="0.12">MDP</text>
<rect x="148" y="208.8" width="7.2" height="4" fill="#0a8cff"/>
<text x="159.5" y="213.6" font-size="7.8" fill="#222" text-anchor="start" textLength="12.36" lengthAdjust="spacingAndGlyphs" stroke="#222" stroke-width="0.12">LyP</text>
<rect x="148" y="220.0" width="7.2" height="4" fill="#8e1f9e"/>
<text x="159.5" y="224.8" font-size="7.8" fill="#222" text-anchor="start" textLength="43.99" lengthAdjust="spacingAndGlyphs" stroke="#222" stroke-width="0.12">EryP/MyPmix</text>
<rect x="148" y="231.3" width="7.2" height="4" fill="#007800"/>
<text x="159.5" y="236.1" font-size="7.8" fill="#222" text-anchor="start" textLength="30.97" lengthAdjust="spacingAndGlyphs" stroke="#222" stroke-width="0.12">Late MyP</text>
<rect x="148" y="242.6" width="7.2" height="4" fill="#00c400"/>
<text x="159.5" y="247.4" font-size="7.8" fill="#222" text-anchor="start" textLength="33.41" lengthAdjust="spacingAndGlyphs" stroke="#222" stroke-width="0.12">Early MyP</text>
<rect x="148" y="253.9" width="7.2" height="4" fill="#f0323e"/>
<text x="159.5" y="258.7" font-size="7.8" fill="#222" text-anchor="start" textLength="43.19" lengthAdjust="spacingAndGlyphs" stroke="#222" stroke-width="0.12">Late MEMBP</text>
<rect x="148" y="265.2" width="7.2" height="4" fill="#ffa84f"/>
<text x="159.5" y="270.0" font-size="7.8" fill="#222" text-anchor="start" textLength="45.63" lengthAdjust="spacingAndGlyphs" stroke="#222" stroke-width="0.12">Early MEMBP</text>
<rect x="148" y="276.4" width="7.2" height="4" fill="#d8d8d8"/>
<text x="159.5" y="281.2" font-size="7.8" fill="#222" text-anchor="start" textLength="41.15" lengthAdjust="spacingAndGlyphs" stroke="#222" stroke-width="0.12">Primed MPP</text>
<rect x="148" y="287.7" width="7.2" height="4" fill="#9a9a9a"/>
<text x="159.5" y="292.5" font-size="7.8" fill="#222" text-anchor="start" textLength="33.41" lengthAdjust="spacingAndGlyphs" stroke="#222" stroke-width="0.12">HSC/MPP</text>
<path d="M220,189.7H315M220,201.0H315M220,212.4H315M220,223.7H315M220,235.0H315M220,246.3H315M220,257.7H315M220,269.0H315M220,280.3H315M220,291.7H315M249.6,179V296.66999999999996M285.6,179V296.66999999999996" stroke="#222" stroke-width="1.1" fill="none"/>
<text x="234.4" y="176" font-size="7.6" fill="#222" text-anchor="middle" stroke="#222" stroke-width="0.12">BM</text>
<text x="234.4" y="185.8" font-size="7.6" fill="#222" text-anchor="middle" stroke="#222" stroke-width="0.12">vs SPL</text>
<text x="267.6" y="176" font-size="7.6" fill="#222" text-anchor="middle" stroke="#222" stroke-width="0.12">BM</text>
<text x="267.6" y="185.8" font-size="7.6" fill="#222" text-anchor="middle" stroke="#222" stroke-width="0.12">vs PB</text>
<text x="300.4" y="176" font-size="7.6" fill="#222" text-anchor="middle" stroke="#222" stroke-width="0.12">SPL</text>
<text x="300.4" y="185.8" font-size="7.6" fill="#222" text-anchor="middle" stroke="#222" stroke-width="0.12">vs PB</text>
<text x="234.4" y="197.9" font-size="7.2" fill="#222" text-anchor="middle" stroke="#222" stroke-width="0.08">ns</text>
<text x="267.6" y="197.9" font-size="7.2" fill="#222" text-anchor="middle" stroke="#222" stroke-width="0.08">ns</text>
<text x="300.4" y="197.9" font-size="7.2" fill="#222" text-anchor="middle" stroke="#222" stroke-width="0.08">ns</text>
<text x="234.4" y="209.2" font-size="7.2" fill="#222" text-anchor="middle" stroke="#222" stroke-width="0.08">ns</text>
<text x="267.6" y="209.2" font-size="7.2" fill="#222" text-anchor="middle" stroke="#222" stroke-width="0.08">ns</text>
<text x="300.4" y="209.2" font-size="7.2" fill="#222" text-anchor="middle" stroke="#222" stroke-width="0.08">ns</text>
<text x="234.4" y="220.6" font-size="7.2" fill="#222" text-anchor="middle" font-style="italic" stroke="#222" stroke-width="0.08">ns</text>
<text x="267.6" y="220.6" font-size="7.2" fill="#222" text-anchor="middle" font-style="italic" stroke="#222" stroke-width="0.08">ns</text>
<text x="300.4" y="220.6" font-size="7.2" fill="#222" text-anchor="middle" font-style="italic" stroke="#222" stroke-width="0.08">ns</text>
<text x="234.4" y="231.9" font-size="7.2" fill="#222" text-anchor="middle" font-style="italic" stroke="#222" stroke-width="0.08">ns</text>
<text x="267.6" y="231.9" font-size="7.2" fill="#222" text-anchor="middle" font-style="italic" stroke="#222" stroke-width="0.08">0.005</text>
<text x="300.4" y="231.9" font-size="7.2" fill="#222" text-anchor="middle" font-style="italic" stroke="#222" stroke-width="0.08">ns</text>
<text x="234.4" y="243.2" font-size="7.2" fill="#222" text-anchor="middle" stroke="#222" stroke-width="0.08">&lt;0.0001</text>
<text x="267.6" y="243.2" font-size="7.2" fill="#222" text-anchor="middle" stroke="#222" stroke-width="0.08">&lt;0.0001</text>
<text x="300.4" y="243.2" font-size="7.2" fill="#222" text-anchor="middle" stroke="#222" stroke-width="0.08">ns</text>
<text x="234.4" y="254.5" font-size="7.2" fill="#222" text-anchor="middle" stroke="#222" stroke-width="0.08">0.04</text>
<text x="267.6" y="254.5" font-size="7.2" fill="#222" text-anchor="middle" stroke="#222" stroke-width="0.08">ns</text>
<text x="300.4" y="254.5" font-size="7.2" fill="#222" text-anchor="middle" stroke="#222" stroke-width="0.08">ns</text>
<text x="234.4" y="265.9" font-size="7.2" fill="#222" text-anchor="middle" stroke="#222" stroke-width="0.08">0.02</text>
<text x="267.6" y="265.9" font-size="7.2" fill="#222" text-anchor="middle" stroke="#222" stroke-width="0.08">0.0007</text>
<text x="300.4" y="265.9" font-size="7.2" fill="#222" text-anchor="middle" stroke="#222" stroke-width="0.08">ns</text>
<text x="234.4" y="277.2" font-size="7.2" fill="#222" text-anchor="middle" stroke="#222" stroke-width="0.08">ns</text>
<text x="267.6" y="277.2" font-size="7.2" fill="#222" text-anchor="middle" stroke="#222" stroke-width="0.08">0.005</text>
<text x="300.4" y="277.2" font-size="7.2" fill="#222" text-anchor="middle" stroke="#222" stroke-width="0.08">ns</text>
<text x="234.4" y="288.5" font-size="7.2" fill="#222" text-anchor="middle" stroke="#222" stroke-width="0.08">0.0003</text>
<text x="267.6" y="288.5" font-size="7.2" fill="#222" text-anchor="middle" stroke="#222" stroke-width="0.08">&lt;0.0001</text>
<text x="300.4" y="288.5" font-size="7.2" fill="#222" text-anchor="middle" stroke="#222" stroke-width="0.08">ns</text>
<text x="234.4" y="299.9" font-size="7.2" fill="#222" text-anchor="middle" stroke="#222" stroke-width="0.08">ns</text>
<text x="267.6" y="299.9" font-size="7.2" fill="#222" text-anchor="middle" stroke="#222" stroke-width="0.08">ns</text>
<text x="300.4" y="299.9" font-size="7.2" fill="#222" text-anchor="middle" stroke="#222" stroke-width="0.08">ns</text>
<path d="M410.5,189.4V291.2H476.7" fill="none" stroke="#111" stroke-width="1.2"/>
<path d="M407.5,291.2H410.5M408.7,280.3H410.5M407.5,269.5H410.5M408.7,258.6H410.5M407.5,247.8H410.5M408.7,236.9H410.5M407.5,226.0H410.5M408.7,215.2H410.5M407.5,204.3H410.5M408.7,193.4H410.5M424,291.2V293.8M444.2,291.2V293.8M464.4,291.2V293.8" stroke="#111" stroke-width="0.9" fill="none"/>
<text x="407.4" y="294.2" font-size="8.6" fill="#222" text-anchor="end" stroke="#222" stroke-width="0.12">0</text>
<text x="407.4" y="272.5" font-size="8.6" fill="#222" text-anchor="end" stroke="#222" stroke-width="0.12">50</text>
<text x="407.4" y="250.8" font-size="8.6" fill="#222" text-anchor="end" stroke="#222" stroke-width="0.12">100</text>
<text x="407.4" y="229.0" font-size="8.6" fill="#222" text-anchor="end" stroke="#222" stroke-width="0.12">150</text>
<text x="407.4" y="207.3" font-size="8.6" fill="#222" text-anchor="end" stroke="#222" stroke-width="0.12">200</text>
<text x="424" y="304.5" font-size="8.2" fill="#222" text-anchor="middle" stroke="#222" stroke-width="0.12">BM</text>
<text x="444.2" y="304.5" font-size="8.2" fill="#222" text-anchor="middle" stroke="#222" stroke-width="0.12">SPL</text>
<text x="464.4" y="304.5" font-size="8.2" fill="#222" text-anchor="middle" stroke="#222" stroke-width="0.12">PB</text>
<text x="375" y="238.5" font-size="8.8" fill="#222" text-anchor="middle" textLength="20.3" lengthAdjust="spacingAndGlyphs" transform="rotate(-90 375 238.5)" stroke="#222" stroke-width="0.12">MkPs</text>
<text x="386.5" y="239.7" font-size="8.8" fill="#222" text-anchor="middle" textLength="84.7" lengthAdjust="spacingAndGlyphs" transform="rotate(-90 386.5 239.7)" stroke="#222" stroke-width="0.12">[number in 5000 HSPCs]</text>
<path d="M424,217.6V273.5M444.2,286V290.4M464.4,285V292" stroke="#666" stroke-width="1.3" fill="none"/>
<path d="M417.3,266H430.8M438.5,289.2H450M457.5,289.8H471.5M444.2,286V289.2M442.4,286H446" stroke="#222" stroke-width="1" fill="none"/>
<circle cx="424" cy="217.6" r="1.6" fill="#1c8ff2"/><circle cx="424" cy="260.2" r="1.6" fill="#1c8ff2"/><circle cx="421.7" cy="273.5" r="1.6" fill="#1c8ff2"/><circle cx="426.5" cy="271.7" r="1.6" fill="#1c8ff2"/>
<circle cx="439.4" cy="286" r="1.6" fill="#1ec41e"/><circle cx="444.2" cy="290.4" r="1.6" fill="#1ec41e"/><circle cx="449" cy="289.4" r="1.6" fill="#1ec41e"/>
<circle cx="459" cy="287" r="1.6" fill="#f23a3a"/><circle cx="461" cy="289" r="1.6" fill="#f23a3a"/><circle cx="463" cy="286.5" r="1.6" fill="#f23a3a"/><circle cx="465" cy="288" r="1.6" fill="#f23a3a"/><circle cx="467" cy="287" r="1.6" fill="#f23a3a"/><circle cx="469" cy="289" r="1.6" fill="#f23a3a"/><circle cx="462" cy="291" r="1.6" fill="#f23a3a"/><circle cx="464.5" cy="292" r="1.6" fill="#f23a3a"/><circle cx="466.5" cy="290.5" r="1.6" fill="#f23a3a"/><circle cx="460.5" cy="290" r="1.6" fill="#f23a3a"/><circle cx="468" cy="291.5" r="1.6" fill="#f23a3a"/><circle cx="464" cy="289.5" r="1.6" fill="#f23a3a"/>
<path d="M423.1,196.2V193.2H464.5V196.2" fill="none" stroke="#222" stroke-width="1.1"/>
<text x="443.7" y="190.5" font-size="8" fill="#222" text-anchor="middle" stroke="#222" stroke-width="0.12">p=0.004</text>
<path d="M423.1,210.7V208H444.9V210.7" fill="none" stroke="#222" stroke-width="1.1"/>
<text x="434.3" y="204.9" font-size="8" fill="#222" text-anchor="middle" stroke="#222" stroke-width="0.12">p=0.02</text>
<path d="M451.3,233.60000000000002V230.8H473.1V233.60000000000002" fill="none" stroke="#222" stroke-width="1.1"/>
<text x="462.4" y="227.8" font-size="8" fill="#222" text-anchor="middle" stroke="#222" stroke-width="0.12">p=0.9</text>
<circle cx="485.9" cy="279.7" r="1.6" fill="#111"/><rect x="484.4" y="287.5" width="3" height="3" fill="#111"/>
<text x="490.2" y="282.3" font-size="7.6" fill="#222" text-anchor="start" stroke="#222" stroke-width="0.12">OD</text>
<text x="490.2" y="291.7" font-size="7.6" fill="#222" text-anchor="start" stroke="#222" stroke-width="0.12">LD</text>
<path d="M30.7,346.3V447.4H95.5" fill="none" stroke="#111" stroke-width="1.2"/>
<path d="M27.7,447.4H30.7M28.9,435.1H30.7M27.7,422.9H30.7M28.9,410.6H30.7M27.7,398.4H30.7M28.9,386.1H30.7M27.7,373.9H30.7M28.9,361.6H30.7M27.7,349.4H30.7M44,447.4V450M63.5,447.4V450M83.1,447.4V450" stroke="#111" stroke-width="0.9" fill="none"/>
<text x="25.2" y="450.4" font-size="8.6" fill="#222" text-anchor="end" stroke="#222" stroke-width="0.12">0</text>
<text x="25.2" y="425.9" font-size="8.6" fill="#222" text-anchor="end" stroke="#222" stroke-width="0.12">1</text>
<text x="25.2" y="401.4" font-size="8.6" fill="#222" text-anchor="end" stroke="#222" stroke-width="0.12">2</text>
<text x="25.2" y="376.9" font-size="8.6" fill="#222" text-anchor="end" stroke="#222" stroke-width="0.12">3</text>
<text x="25.2" y="352.4" font-size="8.6" fill="#222" text-anchor="end" stroke="#222" stroke-width="0.12">4</text>
<text x="44" y="460" font-size="8.2" fill="#222" text-anchor="middle" stroke="#222" stroke-width="0.12">BM</text>
<text x="63.5" y="460" font-size="8.2" fill="#222" text-anchor="middle" stroke="#222" stroke-width="0.12">SPL</text>
<text x="83.1" y="460" font-size="8.2" fill="#222" text-anchor="middle" stroke="#222" stroke-width="0.12">PB</text>
<text x="14.9" y="396.8" font-size="8.8" fill="#222" text-anchor="middle" textLength="83.6" lengthAdjust="spacingAndGlyphs" transform="rotate(-90 14.9 396.8)" stroke="#222" stroke-width="0.12">Early to late MEMBP ratio</text>
<path d="M44,431.6V441.2M63.5,418.7V426.7M82.9,370.3V431.4" stroke="#666" stroke-width="1.3" fill="none"/>
<path d="M57,421.2H70.8M75.7,397.3H90M63.5,418.5V424M62,418.5H65M62,424H65" stroke="#222" stroke-width="1" fill="none"/>
<circle cx="44" cy="431.6" r="1.6" fill="#1c8ff2"/><circle cx="38.5" cy="441.2" r="1.6" fill="#1c8ff2"/><circle cx="44" cy="441.2" r="1.6" fill="#1c8ff2"/><circle cx="49.4" cy="441.2" r="1.6" fill="#1c8ff2"/>
<circle cx="61" cy="418.7" r="1.6" fill="#1ec41e"/><circle cx="66.3" cy="419.6" r="1.6" fill="#1ec41e"/><circle cx="63.5" cy="426.7" r="1.6" fill="#1ec41e"/>
<circle cx="83" cy="370.2" r="1.6" fill="#f23a3a"/><circle cx="83" cy="383.7" r="1.6" fill="#f23a3a"/><circle cx="80.7" cy="403" r="1.6" fill="#f23a3a"/><circle cx="83" cy="409.1" r="1.6" fill="#f23a3a"/><circle cx="83" cy="431.4" r="1.6" fill="#f23a3a"/>
<rect x="79.3" y="390.0" width="3" height="3" fill="#f23a3a"/><rect x="83.9" y="393.0" width="3" height="3" fill="#f23a3a"/><rect x="83.9" y="398.9" width="3" height="3" fill="#f23a3a"/>
<path d="M43.5,344.8V341.8H83.6V344.8" fill="none" stroke="#222" stroke-width="1.1"/>
<text x="63.5" y="338.3" font-size="8" fill="#222" text-anchor="middle" stroke="#222" stroke-width="0.12">p=0.005</text>
<path d="M62.5,359.9V357.2H83.6V359.9" fill="none" stroke="#222" stroke-width="1.1"/>
<text x="73.3" y="353.7" font-size="8" fill="#222" text-anchor="middle" stroke="#222" stroke-width="0.12">p=0.5</text>
<path d="M43.5,391.3V388.5H64.3V391.3" fill="none" stroke="#222" stroke-width="1.1"/>
<text x="53.8" y="385.4" font-size="8" fill="#222" text-anchor="middle" stroke="#222" stroke-width="0.12">p=0.6</text>
<path d="M126.5,346.3V395.8M126.5,400.7V447.4H192.7" fill="none" stroke="#111" stroke-width="1.2"/>
<path d="M124.7,395.8H126.5" stroke="#111" stroke-width="0.8" fill="none"/>
<path d="M123.5,389.3H126.5M124.7,382.7H126.5M123.5,376.1H126.5M124.7,369.6H126.5M123.5,363.0H126.5M124.7,356.4H126.5M123.5,349.8H126.5M123.5,447.4H126.5M124.9,444.3H126.5M124.9,441.3H126.5M124.9,438.2H126.5M124.9,435.1H126.5M123.5,432.0H126.5M124.9,429.0H126.5M124.9,425.9H126.5M124.9,422.8H126.5M124.9,419.8H126.5M123.5,416.7H126.5M124.9,413.6H126.5M124.9,410.6H126.5M124.9,407.5H126.5M124.9,404.4H126.5M123.5,401.3H126.5M139.8,447.4V450M159.8,447.4V450M179.2,447.4V450" stroke="#111" stroke-width="0.8" fill="none"/>
<text x="121.5" y="450.4" font-size="8.6" fill="#222" text-anchor="end" stroke="#222" stroke-width="0.12">0</text>
<text x="121.5" y="435.0" font-size="8.6" fill="#222" text-anchor="end" stroke="#222" stroke-width="0.12">5</text>
<text x="121.5" y="419.7" font-size="8.6" fill="#222" text-anchor="end" stroke="#222" stroke-width="0.12">10</text>
<text x="121.5" y="404.3" font-size="8.6" fill="#222" text-anchor="end" stroke="#222" stroke-width="0.12">15</text>
<text x="121.5" y="392.3" font-size="8.6" fill="#222" text-anchor="end" stroke="#222" stroke-width="0.12">20</text>
<text x="121.5" y="379.1" font-size="8.6" fill="#222" text-anchor="end" stroke="#222" stroke-width="0.12">30</text>
<text x="121.5" y="366.0" font-size="8.6" fill="#222" text-anchor="end" stroke="#222" stroke-width="0.12">40</text>
<text x="121.5" y="352.8" font-size="8.6" fill="#222" text-anchor="end" stroke="#222" stroke-width="0.12">50</text>
<text x="139.8" y="460" font-size="8.2" fill="#222" text-anchor="middle" stroke="#222" stroke-width="0.12">BM</text>
<text x="159.8" y="460" font-size="8.2" fill="#222" text-anchor="middle" stroke="#222" stroke-width="0.12">SPL</text>
<text x="179.2" y="460" font-size="8.2" fill="#222" text-anchor="middle" stroke="#222" stroke-width="0.12">PB</text>
<text x="107.5" y="397" font-size="8.8" fill="#222" text-anchor="middle" textLength="72" lengthAdjust="spacingAndGlyphs" transform="rotate(-90 107.5 397)" stroke="#222" stroke-width="0.12">Early to late MyP ratio</text>
<path d="M159.8,415.3V439.2M179,367V395.6M179,400.4V431.4" stroke="#666" stroke-width="1.3" fill="none"/>
<path d="M153,429H166M172.5,431.4H185.6" stroke="#222" stroke-width="1" fill="none"/>
<circle cx="134.4" cy="442.7" r="1.6" fill="#1c8ff2"/><circle cx="138.3" cy="443" r="1.6" fill="#1c8ff2"/><circle cx="141.8" cy="442.6" r="1.6" fill="#1c8ff2"/><circle cx="145.1" cy="442.5" r="1.6" fill="#1c8ff2"/>
<circle cx="159.8" cy="415.3" r="1.6" fill="#1ec41e"/><circle cx="159.8" cy="429" r="1.6" fill="#1ec41e"/><circle cx="159.8" cy="439.2" r="1.6" fill="#1ec41e"/>
<circle cx="179" cy="367" r="1.6" fill="#f23a3a"/><circle cx="175.5" cy="432.5" r="1.6" fill="#f23a3a"/><circle cx="177.5" cy="431" r="1.6" fill="#f23a3a"/><circle cx="179.5" cy="433" r="1.6" fill="#f23a3a"/><circle cx="181" cy="430" r="1.6" fill="#f23a3a"/><circle cx="182.5" cy="432" r="1.6" fill="#f23a3a"/><circle cx="180" cy="429.5" r="1.6" fill="#f23a3a"/><circle cx="184" cy="431.5" r="1.6" fill="#f23a3a"/><circle cx="178" cy="433.5" r="1.6" fill="#f23a3a"/>
<path d="M138.7,345V342H179.4V345" fill="none" stroke="#222" stroke-width="1.1"/>
<text x="159" y="338.3" font-size="8" fill="#222" text-anchor="middle" stroke="#222" stroke-width="0.12">p=0.021</text>
<path d="M156.9,359.6V356.8H179.4V359.6" fill="none" stroke="#222" stroke-width="1.1"/>
<text x="168" y="353.7" font-size="8" fill="#222" text-anchor="middle" stroke="#222" stroke-width="0.12">p&gt;0.99</text>
<path d="M138.7,391.3V388.5H159.8V391.3" fill="none" stroke="#222" stroke-width="1.1"/>
<text x="149.2" y="385.4" font-size="8" fill="#222" text-anchor="middle" stroke="#222" stroke-width="0.12">p=0.06</text>
<circle cx="194" cy="435.9" r="1.6" fill="#111"/><rect x="192.5" y="443.8" width="3" height="3" fill="#111"/>
<text x="198.3" y="438.5" font-size="7.6" fill="#222" text-anchor="start" stroke="#222" stroke-width="0.12">OD</text>
<text x="198.3" y="448" font-size="7.6" fill="#222" text-anchor="start" stroke="#222" stroke-width="0.12">LD</text>
<path d="M236.2,345.4L271.5,344.0L271.5,381.2L241.0,386.9ZM271.5,344.0L303.8,346.5L298.5,389.2L271.5,381.2ZM241.0,386.9L271.5,381.2L298.5,389.2L265.7,412.7Z" fill="#fdfdfd" stroke="none"/>
<path d="M247.1,345.0L250.5,385.1M256.5,344.6L258.5,383.6M264.4,344.3L265.4,382.3M279.6,344.6L278.2,383.2M247.2,393.3L278.2,383.2M248.6,385.5L273.9,406.8M287.6,345.2L285.0,385.2M253.3,399.8L285.0,385.2M256.2,384.0L282.1,400.9M295.7,345.9L291.8,387.2M259.5,406.2L291.8,387.2M263.9,382.6L290.3,395.1M236.7,349.5L271.5,347.7L303.3,350.8M237.6,357.8L271.5,355.2L302.2,359.3M238.6,366.1L271.5,362.6L301.1,367.9M239.5,373.6L271.5,369.3L300.2,375.5M240.3,380.9L271.5,375.8L299.3,383.0" stroke="#d8d8d8" stroke-width="0.6" fill="none"/>
<path d="M241.0,386.9L236.2,345.4L271.5,344.0L303.8,346.5L298.5,389.2M271.5,344.0L271.5,381.2M241.0,386.9L271.5,381.2L298.5,389.2" stroke="#333" stroke-width="0.8" fill="none"/>
<path d="M241.0,386.9L265.7,412.7L298.5,389.2" stroke="#222" stroke-width="1.1" fill="none"/>
<path d="M236.7,349.5L234.7,349.5M238.6,366.1L236.6,366.1M240.3,380.9L238.3,380.9M242.2,388.2L240.6,389.4M250.9,397.2L249.3,398.4M259.5,406.2L257.9,407.4M273.9,406.8L275.5,408.0M285.4,398.6L287.0,399.8M296.9,390.4L298.5,391.6" stroke="#333" stroke-width="0.7" fill="none"/>
<path d="M272.4 363.6h0M269.0 367.4h0M274.0 368.3h0M273.4 372.4h0M277.7 375.5h0M271.8 348.6h0M270.8 356.2h0M272.0 373.0h0M273.1 365.0h0M276.3 377.3h0M270.2 361.1h0M274.2 363.0h0M274.9 375.4h0M275.4 365.4h0M272.3 352.0h0M275.3 361.1h0M271.0 354.6h0M272.1 356.4h0M272.8 356.5h0M269.9 363.1h0M275.0 375.6h0M274.5 362.4h0M273.4 353.2h0M270.7 361.5h0M272.1 352.5h0M275.3 363.9h0M274.5 367.5h0M269.5 373.1h0M275.6 371.5h0M271.2 367.5h0M272.9 350.2h0M272.7 372.2h0M272.6 356.2h0M272.9 373.6h0M269.2 374.3h0M270.8 351.9h0M268.8 367.9h0M273.7 368.2h0M270.2 355.4h0M265.8 374.9h0M273.5 365.0h0M274.2 366.4h0M274.2 371.0h0M276.4 369.3h0M274.3 362.7h0M272.4 362.0h0M272.4 352.9h0M273.5 362.0h0M273.8 363.8h0M271.7 367.6h0M271.8 370.1h0M271.3 348.3h0M269.7 356.8h0M269.7 373.5h0M271.4 357.6h0M272.3 361.9h0M271.8 355.0h0M269.6 374.5h0M270.3 363.6h0M270.1 365.4h0M271.4 376.4h0M272.4 350.6h0M273.2 360.5h0M272.5 349.8h0M269.7 354.3h0M275.4 369.1h0M268.9 369.5h0M273.2 364.6h0M270.8 358.6h0M270.6 371.0h0M266.1 374.1h0M273.0 363.9h0M272.4 362.4h0M272.8 363.5h0M275.2 370.3h0M278.5 373.8h0M274.0 366.8h0M269.1 360.9h0M274.1 367.2h0M272.6 351.8h0M273.4 361.3h0M275.5 370.8h0M271.7 375.2h0M269.8 366.1h0M272.0 368.2h0M274.7 362.1h0M274.1 356.7h0M272.0 356.9h0M266.5 367.3h0M272.5 372.0h0M267.5 368.8h0M269.2 375.0h0M271.5 354.7h0M269.7 360.2h0M267.0 374.8h0M272.7 357.8h0M272.5 361.5h0M270.1 365.3h0M271.3 365.6h0M270.3 355.8h0M272.1 367.9h0M273.3 357.5h0M269.9 374.3h0M275.6 375.8h0M272.9 358.8h0M273.6 363.7h0M272.8 363.0h0M276.1 374.8h0M273.9 365.3h0M270.8 351.7h0M271.9 366.7h0M274.0 357.3h0M268.2 375.0h0M270.0 371.1h0M271.2 366.3h0M268.4 373.0h0M271.0 371.0h0M272.8 349.2h0M275.6 369.5h0M276.4 365.7h0M274.5 358.9h0M275.2 362.2h0M274.8 369.2h0M271.3 352.3h0M271.5 348.2h0M273.6 374.7h0M272.5 367.7h0M273.9 369.7h0M265.8 375.6h0M269.0 362.5h0M269.3 362.5h0M275.8 365.2h0M273.7 376.4h0M266.1 371.4h0M271.7 355.0h0M273.2 351.4h0M272.6 365.8h0M269.7 367.3h0M269.2 360.1h0M270.5 371.1h0M266.1 371.1h0M271.0 374.1h0M268.7 376.1h0M276.2 364.2h0M268.1 367.5h0M271.9 351.1h0M273.1 363.8h0M273.9 363.8h0M277.9 376.0h0M275.2 374.1h0M270.1 361.2h0M273.8 368.2h0M275.1 358.6h0M271.1 351.4h0M268.1 368.3h0M272.3 369.4h0M271.7 361.7h0M268.1 373.3h0M273.3 372.3h0M273.5 359.2h0M276.0 368.2h0M271.0 374.2h0M272.9 353.6h0M273.1 365.2h0M268.0 371.4h0M273.4 360.0h0M269.8 359.4h0M272.7 353.6h0M277.9 373.7h0M270.7 360.4h0M275.8 374.5h0M271.1 362.1h0M272.2 356.0h0M268.6 366.6h0M269.9 373.2h0M276.2 366.8h0M267.1 372.1h0M272.8 352.3h0M272.2 352.6h0M270.0 357.8h0M273.9 365.2h0M271.7 370.2h0M274.3 369.7h0M275.7 369.5h0M277.0 372.4h0M274.7 369.7h0M268.9 363.7h0M270.4 355.8h0M274.1 359.7h0M274.0 368.9h0M271.7 351.7h0M270.7 353.5h0M273.1 358.1h0M269.6 359.7h0M272.2 360.0h0M276.1 373.8h0M275.7 366.4h0M275.1 375.1h0M271.9 366.5h0M269.1 358.1h0M274.1 361.8h0M271.1 355.3h0M272.0 373.7h0M268.4 366.1h0M272.5 347.4h0M272.8 359.0h0M271.5 364.1h0M273.5 359.7h0M266.4 374.5h0M268.5 366.4h0M270.8 360.2h0M270.3 370.6h0M271.4 354.2h0M267.5 368.7h0M269.1 370.0h0M274.9 375.9h0M270.0 367.7h0M271.0 361.0h0M269.9 358.2h0M273.6 367.6h0M268.2 373.0h0M268.8 370.4h0M272.6 372.8h0M271.5 354.4h0M271.0 374.0h0M270.7 371.9h0M268.4 362.7h0M273.6 370.7h0M271.4 348.9h0M271.9 362.0h0M272.8 372.6h0M270.5 365.6h0M273.0 354.3h0M267.8 372.7h0M269.6 368.3h0M269.8 370.3h0M271.6 361.9h0M272.3 374.1h0M269.3 367.4h0M267.8 367.6h0M273.9 359.0h0M272.0 356.1h0M270.7 350.5h0M273.0 360.0h0M272.5 362.5h0M269.2 364.5h0M268.9 366.9h0M272.5 361.4h0M267.6 368.9h0M272.8 362.8h0M274.4 371.9h0M270.8 373.1h0M275.4 366.4h0M270.2 374.1h0M276.3 369.9h0M272.3 359.7h0M271.6 354.1h0M272.0 369.8h0M271.2 361.0h0M274.1 375.7h0M273.8 363.3h0M266.6 373.6h0M272.0 354.5h0M270.9 360.0h0M275.2 373.6h0M270.2 351.1h0M271.8 360.7h0M270.5 357.1h0M267.8 373.7h0M274.1 356.3h0M272.4 357.1h0M272.6 353.4h0M276.4 374.4h0M271.3 375.2h0M270.6 357.8h0M272.8 358.3h0M273.1 361.8h0M274.7 359.9h0M272.5 359.7h0M272.0 365.9h0M270.1 367.7h0M273.2 359.4h0M272.0 360.3h0M271.7 349.3h0M274.8 362.6h0M270.4 369.1h0M272.0 372.0h0M274.9 365.3h0M268.1 371.6h0M275.2 371.9h0M271.7 357.7h0M272.1 349.9h0M274.5 367.0h0M271.3 365.2h0M273.2 359.3h0M274.0 366.0h0M271.1 354.8h0M269.7 366.4h0M272.8 352.8h0M275.5 369.9h0M271.5 351.7h0M271.8 351.5h0M267.7 375.7h0M273.6 358.1h0M270.4 362.7h0M275.3 376.0h0M270.4 357.9h0M270.4 375.1h0M272.8 375.2h0M271.3 351.7h0M273.0 372.9h0M270.3 373.0h0M271.1 357.2h0M270.3 357.0h0M271.4 359.9h0M271.3 356.3h0M270.6 369.9h0M271.0 358.9h0M269.7 370.7h0M273.8 362.4h0M266.8 374.0h0M269.6 373.8h0M268.3 365.7h0M272.1 355.3h0M271.3 360.8h0M273.2 359.3h0M270.6 355.0h0M274.0 362.0h0M271.0 359.9h0M272.5 368.3h0M269.2 375.8h0M273.8 369.5h0M268.7 373.8h0M268.8 362.8h0M271.8 361.0h0M268.9 365.0h0M269.7 358.0h0M273.6 367.3h0M267.4 369.8h0M268.6 363.0h0M271.5 367.3h0M274.5 361.4h0M272.6 358.3h0M270.1 375.2h0M275.1 374.6h0M269.9 362.9h0M270.2 373.8h0M270.3 365.5h0M268.3 375.6h0M269.0 358.6h0M269.9 362.3h0M272.5 367.8h0M270.0 375.7h0M273.9 370.0h0M275.0 375.0h0M270.8 366.5h0M272.1 370.9h0M271.9 356.5h0M270.7 351.5h0M273.9 363.9h0M273.8 355.9h0M274.1 365.6h0M269.1 370.0h0M275.9 371.5h0M271.0 366.3h0M268.1 371.5h0M269.6 369.7h0M276.3 374.9h0M271.0 368.9h0M265.8 376.3h0M270.1 353.8h0M271.3 352.8h0M271.7 366.0h0M269.6 373.5h0M274.8 367.6h0M273.9 366.8h0M269.5 356.1h0M271.2 354.5h0M268.5 366.8h0M270.9 365.1h0M270.2 350.9h0M271.7 356.5h0M273.7 356.4h0M268.5 363.0h0M272.8 369.7h0M271.0 375.6h0M269.3 370.5h0M271.3 352.3h0M271.9 360.5h0M271.9 349.4h0M274.1 372.1h0M275.8 370.6h0M270.5 375.0h0M272.0 350.3h0M270.8 362.6h0M270.6 368.1h0M270.2 373.8h0M273.1 357.9h0M269.3 369.7h0M268.1 363.8h0M270.5 363.1h0M269.5 373.6h0M273.7 353.9h0M273.1 362.9h0M273.1 359.1h0M274.6 361.8h0M270.6 368.5h0M276.0 374.3h0M272.2 365.7h0M273.0 363.6h0M269.8 361.9h0M272.1 349.7h0M272.8 367.7h0M274.4 376.2h0M276.5 370.8h0M271.7 375.7h0M273.8 373.2h0M275.0 364.9h0M273.9 373.6h0M274.4 365.7h0M272.5 358.7h0M269.4 364.8h0M274.8 373.7h0M271.3 354.9h0M271.3 350.3h0M271.2 356.1h0M274.7 368.3h0M275.7 368.3h0M272.6 357.2h0M272.5 360.5h0M273.3 368.1h0M269.4 364.9h0M273.0 375.3h0M273.9 370.9h0M271.3 360.0h0M270.8 372.1h0M275.1 365.3h0M269.5 366.9h0M274.2 358.7h0M273.6 362.7h0M268.6 363.9h0M269.1 375.5h0M269.5 369.8h0M271.4 359.2h0M275.7 372.2h0M267.5 373.9h0M273.5 361.6h0M265.9 375.7h0M270.7 364.3h0M277.1 368.3h0M270.3 375.5h0M266.7 375.5h0M272.8 363.1h0M269.4 361.9h0M268.3 370.4h0M268.9 370.3h0M274.0 370.5h0M277.7 373.2h0M271.4 349.2h0M269.7 371.7h0M272.0 354.6h0M273.3 360.1h0M269.0 362.6h0M274.0 364.4h0M267.1 372.6h0M275.9 367.8h0M268.8 363.4h0M268.3 369.5h0M270.9 350.3h0M267.1 372.9h0M271.1 352.6h0M273.3 364.8h0M272.6 375.3h0M273.1 359.7h0M271.3 361.6h0M267.7 364.4h0M271.9 351.3h0M271.4 353.4h0M269.4 364.8h0M274.4 362.9h0M275.6 367.2h0M272.5 359.8h0M271.8 360.4h0M271.0 352.8h0M270.9 371.6h0M266.8 369.6h0M270.1 372.9h0M267.1 367.9h0M272.2 351.3h0M273.0 349.0h0M266.9 366.6h0M275.7 376.0h0M271.1 371.3h0M269.2 364.0h0M268.3 370.9h0M269.1 365.9h0M274.8 360.5h0M272.1 363.0h0M273.3 354.6h0M273.3 362.2h0M273.2 365.1h0M268.3 370.6h0M271.1 356.7h0M270.8 366.2h0M270.2 371.7h0M272.9 360.9h0M273.2 358.8h0M270.3 372.7h0M272.7 364.5h0M271.7 364.0h0M268.1 371.1h0M272.5 369.7h0M269.0 361.0h0M272.7 352.4h0M272.0 357.4h0M276.1 367.7h0M270.2 369.6h0M274.0 372.9h0M269.0 358.5h0M269.7 358.9h0" stroke="#0e5e10" stroke-width="1.35" stroke-linecap="round" fill="none"/>
<path d="M274.9 372.6h0M275.0 373.6h0M275.3 369.0h0M271.1 369.6h0M273.1 367.6h0M274.2 368.5h0M272.5 374.9h0M275.8 373.1h0M272.4 374.5h0M277.3 368.4h0M271.8 370.5h0M273.6 369.9h0M275.3 369.5h0M273.0 370.5h0M276.9 369.5h0M275.0 369.6h0M273.7 369.9h0M278.3 369.8h0M278.6 368.5h0M276.3 366.0h0M273.3 370.8h0M272.6 370.9h0M271.8 371.1h0M272.6 371.2h0M272.8 368.4h0M273.4 371.0h0M271.0 372.1h0M277.9 368.7h0M276.6 371.5h0M273.4 374.6h0M277.9 369.7h0M270.2 369.8h0M270.8 369.4h0M275.4 369.7h0M275.9 370.2h0M275.2 370.3h0M275.4 366.5h0M270.7 371.4h0M275.6 370.1h0M275.2 367.8h0M273.9 372.9h0M279.5 369.1h0M275.4 373.8h0M271.9 371.1h0M272.2 368.6h0M275.7 371.5h0M275.4 373.3h0M274.3 368.2h0M276.1 373.9h0M275.4 373.5h0M275.9 371.8h0M274.5 372.9h0M272.6 367.1h0M274.3 367.2h0M279.4 370.9h0M275.2 372.2h0M273.3 372.8h0M273.7 371.8h0M274.2 365.9h0M273.2 375.1h0M273.3 372.5h0M269.8 369.7h0M277.9 369.5h0M274.0 371.4h0M275.6 369.3h0M278.4 372.5h0M276.0 369.3h0M278.3 372.3h0M276.9 366.6h0M277.1 368.6h0M273.8 371.7h0M276.4 370.6h0M274.2 371.3h0M274.4 372.2h0M277.7 371.7h0M270.7 371.0h0M273.7 367.4h0M275.5 369.8h0M275.0 371.4h0M274.2 375.0h0M277.0 368.1h0M276.5 371.9h0M272.1 370.4h0M271.1 372.7h0M275.5 367.6h0M275.1 370.2h0M273.8 368.0h0M276.3 370.4h0M277.9 373.3h0M274.8 370.9h0M277.0 374.5h0M270.4 372.0h0M272.9 371.5h0M277.0 369.8h0M276.8 370.2h0M271.9 369.6h0M270.8 372.5h0M274.2 373.0h0M276.5 367.3h0M272.0 373.1h0M272.2 371.9h0M275.9 368.9h0M275.4 369.1h0M274.6 372.1h0M273.5 368.9h0M272.8 370.3h0M276.4 369.1h0M278.8 371.3h0M273.4 373.8h0M271.7 371.3h0" stroke="#1fc21f" stroke-width="1.25" stroke-linecap="round" fill="none"/>
<path d="M266.1 374.7h0M260.3 381.9h0M254.2 379.1h0M265.9 376.7h0M251.7 383.5h0M263.8 375.6h0M257.5 380.1h0M259.9 376.2h0M262.3 372.2h0M253.5 381.9h0M253.1 382.4h0M254.3 381.4h0M261.6 379.2h0M253.4 377.1h0M259.8 376.5h0M260.4 375.6h0M266.4 375.0h0M255.9 385.0h0M266.1 372.9h0M267.9 375.4h0M262.0 375.2h0M264.7 379.7h0M256.9 378.9h0M258.8 377.9h0M264.3 371.9h0M254.1 378.9h0M256.4 382.2h0M262.9 376.8h0M259.7 376.3h0M252.1 378.5h0M255.7 377.3h0M258.6 381.2h0M264.4 379.7h0M262.9 375.2h0M266.4 373.3h0M268.4 372.1h0M258.1 381.4h0M252.8 381.9h0M253.0 381.5h0M258.4 376.9h0M263.5 380.0h0M260.9 380.3h0M261.3 377.9h0M256.5 383.1h0M266.5 373.1h0M255.2 382.5h0M261.6 380.7h0M262.1 376.6h0M252.5 384.4h0M258.4 375.3h0M262.4 375.5h0M255.8 380.3h0M259.3 377.6h0M265.0 378.4h0M260.3 382.8h0M257.7 377.0h0M258.5 374.8h0M256.4 377.1h0M257.3 380.3h0M260.7 377.2h0M264.0 376.9h0M256.1 377.4h0M264.6 377.8h0M250.2 381.7h0M253.9 384.2h0M254.6 377.6h0M268.6 374.6h0M261.1 378.3h0M258.5 379.2h0M265.1 376.6h0M257.0 380.2h0M252.2 383.1h0M263.8 377.8h0M253.6 381.7h0M261.3 382.7h0M256.5 377.1h0M256.5 382.6h0M255.1 381.8h0M254.4 379.3h0M258.4 384.0h0M253.8 382.7h0M263.0 374.2h0M268.9 372.3h0M253.8 384.4h0M258.1 376.8h0M253.2 378.4h0M252.7 384.1h0M263.2 381.5h0M256.4 384.3h0M265.4 375.4h0M258.9 376.5h0M255.9 379.2h0M267.1 375.6h0M254.8 383.8h0M255.1 376.1h0M257.6 375.6h0M261.4 382.1h0M252.3 381.2h0M262.5 376.6h0M259.3 376.0h0M260.0 382.0h0M252.8 381.8h0M265.0 379.0h0M264.8 372.7h0M257.1 380.7h0M253.7 379.8h0M255.5 384.8h0M264.2 376.9h0M254.6 377.1h0M261.0 375.1h0M259.9 381.1h0M258.2 379.1h0M255.0 384.2h0M263.3 378.4h0M260.3 379.9h0M261.6 378.1h0M260.0 373.5h0M260.4 381.4h0M258.8 378.3h0M263.6 380.7h0M256.8 377.5h0M261.7 375.8h0M254.9 381.6h0M251.8 381.2h0M263.4 376.1h0M262.6 380.8h0M257.4 382.4h0M265.8 372.6h0M263.1 378.9h0M257.6 377.6h0M261.5 380.2h0M262.7 381.4h0M268.4 374.7h0M251.9 381.8h0M261.1 378.1h0M262.1 377.5h0M268.4 374.0h0M262.4 379.0h0M253.4 378.0h0M258.0 382.4h0M259.4 382.3h0M257.2 382.1h0M260.6 380.4h0M259.7 378.9h0M258.3 382.9h0M259.8 379.8h0M261.9 374.3h0M254.6 381.2h0M265.2 371.9h0M252.2 379.6h0M255.7 377.4h0M255.4 382.4h0M253.1 382.1h0M252.4 381.9h0M260.0 378.9h0M259.4 379.3h0M260.0 374.2h0M259.5 380.4h0M254.2 377.4h0M257.9 376.1h0M254.8 383.5h0M263.7 377.1h0M266.1 374.0h0M254.6 381.1h0M262.7 373.9h0M261.7 377.2h0M260.4 378.0h0M263.9 378.4h0M257.3 378.7h0M251.6 385.1h0M252.3 380.5h0M263.7 379.0h0M265.2 372.6h0M262.2 380.2h0M254.3 380.8h0M251.6 381.1h0M263.5 376.4h0M256.6 378.4h0M269.0 375.2h0M256.9 379.5h0M255.9 378.8h0M261.1 373.1h0M259.2 377.7h0M269.8 373.7h0M262.6 378.3h0M262.9 376.8h0M258.5 381.2h0M260.5 376.3h0M253.0 379.1h0M260.9 377.3h0M253.9 380.6h0M260.5 375.9h0M257.9 377.5h0M260.8 380.2h0M265.9 372.6h0M263.1 377.2h0M260.9 380.1h0M262.7 372.8h0M267.6 373.3h0M254.7 379.1h0M256.7 376.7h0M266.2 375.9h0M255.4 383.3h0M260.9 377.9h0M264.8 375.2h0M258.6 380.5h0M263.7 379.3h0M249.9 384.0h0M255.3 380.0h0M264.8 379.9h0M263.2 376.7h0M251.2 379.9h0M258.0 374.5h0M262.1 378.4h0M260.9 377.9h0M262.6 374.7h0M261.2 378.0h0M262.4 373.5h0M260.7 377.4h0M263.7 377.7h0M261.1 378.9h0M263.7 380.1h0M261.9 378.7h0M253.9 381.1h0M265.2 378.4h0M253.9 381.6h0M258.0 379.5h0M256.2 379.1h0M259.3 379.0h0M264.1 373.3h0M255.0 383.4h0M262.0 376.5h0M254.3 384.7h0M254.8 384.6h0M260.7 377.4h0M259.5 380.9h0M257.2 374.5h0M262.9 379.3h0M263.5 372.1h0M255.9 383.7h0M264.1 378.3h0M256.5 379.6h0M259.4 377.5h0M255.6 379.0h0M257.7 383.2h0M263.0 379.5h0M260.3 380.9h0M257.4 377.9h0M261.0 376.0h0M254.3 380.6h0M259.8 378.4h0M264.5 375.6h0M257.8 378.6h0M257.7 377.4h0M250.8 384.1h0M255.7 381.9h0M256.3 381.9h0M257.7 376.2h0M257.5 378.0h0M263.5 380.2h0" stroke="#f42a1c" stroke-width="1.35" stroke-linecap="round" fill="none"/>
<path d="M251.9 381.5h0M262.1 377.6h0M252.7 382.8h0M257.4 380.3h0M257.8 378.2h0M253.6 380.6h0M260.0 375.3h0M257.0 377.6h0M259.3 380.7h0M254.7 380.5h0M268.2 378.1h0M266.0 379.3h0M251.6 381.8h0M253.1 384.0h0M260.6 377.7h0M265.7 376.7h0M269.7 382.7h0M264.9 374.9h0M260.6 378.1h0M262.7 375.0h0M262.5 381.8h0M257.3 382.2h0M262.3 380.0h0M265.5 383.1h0M250.8 381.3h0M255.1 382.2h0M267.2 379.3h0M268.5 380.9h0M257.5 383.6h0M255.8 382.2h0M264.9 380.6h0M265.3 380.0h0M258.2 380.5h0M259.9 379.2h0M254.5 381.2h0M269.0 378.4h0M258.7 383.7h0M264.8 376.6h0M250.5 382.4h0M263.9 378.9h0M263.8 377.2h0M257.1 379.7h0M261.4 380.6h0M265.4 382.0h0M265.8 380.7h0M268.0 374.8h0M265.9 378.9h0M262.6 377.3h0M259.4 378.9h0M252.7 380.8h0M258.4 382.4h0M257.3 384.3h0M262.8 374.0h0M269.9 381.5h0M252.0 382.3h0M259.7 381.8h0M259.6 380.1h0M263.6 374.2h0M263.5 375.7h0M256.7 380.7h0M253.6 382.5h0M266.5 376.9h0M268.4 378.7h0M262.2 383.9h0M255.9 381.2h0M267.3 378.3h0M262.7 376.7h0M254.5 381.2h0M271.2 381.8h0M270.5 380.5h0M257.6 379.8h0M254.6 383.4h0M262.5 382.3h0M267.3 378.2h0M266.1 377.3h0M265.5 375.1h0M263.0 375.9h0M256.6 379.0h0M253.9 382.7h0M263.0 379.0h0M265.6 381.0h0M266.2 383.8h0M265.3 373.4h0M258.4 380.9h0M265.9 377.6h0M252.2 379.7h0M268.8 381.8h0M265.8 373.3h0M259.1 382.6h0M262.6 381.4h0M264.3 378.8h0M265.3 373.7h0M260.2 378.8h0M267.6 378.0h0M253.9 378.9h0M266.1 376.7h0M260.8 379.3h0M258.4 376.5h0M268.9 377.0h0M261.7 380.2h0M264.7 378.2h0M256.2 381.0h0M265.1 376.5h0M265.6 370.8h0M258.9 378.3h0M261.7 375.9h0M266.8 380.9h0M264.5 374.1h0M256.3 379.1h0M265.9 381.4h0M261.2 382.3h0M258.5 377.6h0M260.6 382.6h0M257.3 382.2h0M269.8 374.8h0M254.1 382.7h0M265.9 375.4h0M264.5 382.7h0M268.9 379.7h0M258.7 378.4h0" stroke="#f42a1c" stroke-width="1.35" stroke-linecap="round" fill="none"/>
<path d="M262.4 379.0h0M259.9 376.4h0M260.0 374.8h0M258.9 379.7h0M256.1 380.8h0M260.9 381.9h0M263.4 378.9h0M260.4 378.5h0M262.3 377.2h0M268.5 375.8h0M266.2 375.4h0M257.9 377.0h0M259.7 377.0h0M260.7 378.0h0M266.0 373.3h0M262.2 375.2h0M264.3 379.3h0M258.7 377.0h0M262.3 378.0h0M260.2 380.2h0M263.2 379.1h0M257.7 382.5h0M266.1 373.6h0M256.0 378.9h0M258.6 378.4h0M261.6 379.1h0M261.0 377.8h0M258.1 377.3h0M261.4 378.5h0M256.8 378.6h0M264.3 374.0h0M261.8 378.3h0M263.3 374.1h0M267.1 374.8h0M264.5 373.1h0M266.3 375.4h0M264.5 375.0h0M265.5 376.1h0M260.1 380.4h0M260.9 377.6h0M261.7 380.6h0M266.8 377.7h0M256.7 383.2h0M264.9 379.3h0M262.3 378.3h0M262.1 380.8h0M258.8 379.5h0M260.5 378.7h0M260.9 380.3h0M262.9 373.5h0M259.0 376.5h0M264.9 373.2h0M264.1 377.2h0M268.6 373.9h0M266.0 378.5h0M257.2 378.3h0M258.9 379.7h0M265.7 375.6h0M267.9 376.2h0M262.6 379.4h0M261.7 381.5h0M261.0 382.0h0M267.1 376.8h0M263.8 377.5h0M263.7 376.6h0M259.7 376.3h0M268.9 374.0h0M262.7 374.9h0M261.2 378.7h0M261.4 377.7h0M260.7 377.6h0M259.2 375.7h0M260.5 382.7h0M257.9 379.1h0M258.8 379.5h0M259.6 382.9h0M260.8 379.9h0M260.6 378.3h0M262.9 378.1h0M256.9 378.7h0M264.9 375.7h0M263.1 379.2h0M262.8 378.0h0M258.0 380.4h0M260.1 378.8h0M267.5 375.5h0M262.6 377.1h0M260.4 377.2h0M260.8 376.8h0M260.7 378.5h0" stroke="#ffa02a" stroke-width="1.15" stroke-linecap="round" fill="none"/>
<path d="M265.4 375.9h0M260.1 379.0h0M259.5 379.9h0M255.1 382.5h0M259.2 377.4h0M259.2 378.3h0M262.4 379.6h0M261.0 377.3h0M254.4 380.1h0M258.9 376.8h0M264.2 378.8h0M261.3 380.9h0M268.8 375.4h0M259.8 378.7h0M266.8 378.2h0M264.0 375.1h0M263.7 376.0h0M255.5 378.7h0M267.8 376.3h0M263.3 377.3h0M253.8 379.4h0M264.7 377.2h0M265.9 377.3h0M261.4 375.4h0M260.4 378.7h0M260.1 374.8h0M265.2 374.9h0M269.2 371.8h0M261.7 381.0h0M268.9 374.6h0M266.5 373.3h0M266.4 377.4h0M266.9 375.4h0M266.4 375.9h0M262.7 372.2h0M263.4 373.6h0M259.5 378.7h0M261.1 373.8h0M258.9 379.6h0M259.3 378.7h0" stroke="#222" stroke-width="0.95" stroke-linecap="round" fill="none"/>
<path d="M282.3 379.6h0M278.4 378.4h0M285.2 375.4h0M286.1 376.5h0M282.6 381.0h0M285.5 375.8h0M277.6 373.7h0M284.0 379.8h0M287.7 378.6h0M280.7 379.2h0M276.5 375.9h0M284.3 378.2h0M281.1 378.9h0M283.3 377.5h0M287.4 380.4h0M280.0 382.6h0M288.8 377.5h0M278.6 382.1h0M277.6 382.8h0M277.9 376.2h0M279.0 375.5h0M281.9 379.2h0M278.5 376.1h0M287.2 383.3h0M285.2 383.8h0M279.5 381.0h0M277.0 374.2h0M278.1 380.4h0M277.8 376.4h0M280.9 376.0h0M285.6 380.1h0M275.5 375.7h0M276.6 374.5h0M279.2 374.0h0M277.7 376.6h0M284.2 381.7h0M278.2 381.7h0M275.6 376.4h0M283.5 384.2h0M283.8 380.3h0M279.8 380.2h0M281.4 379.7h0M278.0 377.2h0M277.6 373.9h0M277.6 374.7h0M278.3 375.8h0M273.2 377.4h0M281.4 383.7h0M277.0 374.4h0M282.2 375.9h0M276.6 379.7h0M281.5 373.2h0M286.9 379.5h0M288.0 380.1h0M279.2 378.7h0M287.6 380.5h0M280.8 373.7h0M283.0 375.4h0M281.8 374.0h0M277.6 374.3h0M278.7 374.0h0M286.7 382.5h0M280.3 374.8h0M286.8 379.1h0M283.2 382.3h0M278.7 379.2h0M283.7 377.7h0M280.8 376.3h0M286.1 377.7h0M278.1 374.7h0M282.8 381.4h0M285.0 382.1h0M274.5 377.3h0M283.9 374.7h0M278.1 376.0h0M287.6 381.4h0M276.8 377.4h0M282.5 380.7h0M275.8 378.2h0M278.2 376.0h0M277.5 374.8h0M276.9 376.3h0M279.5 383.1h0M273.5 378.2h0M276.0 378.2h0M276.1 375.1h0M275.2 375.5h0M289.3 378.8h0M282.6 378.8h0M283.3 376.5h0M284.0 379.5h0M283.9 379.3h0M282.6 378.8h0M277.8 381.0h0M288.4 379.3h0M286.0 376.1h0M288.0 377.5h0M280.5 381.4h0M278.5 377.8h0M286.6 378.0h0M281.9 382.2h0M283.0 376.3h0M279.3 377.1h0M280.6 380.3h0M273.4 376.1h0M280.8 383.3h0M274.5 373.7h0M285.5 379.4h0M286.6 379.7h0M277.9 377.3h0M286.6 382.2h0M281.9 379.1h0M285.9 381.7h0M281.7 380.9h0M282.5 375.1h0M284.6 383.2h0M288.0 380.0h0M274.8 378.0h0M282.5 376.2h0M281.8 377.0h0M284.4 382.1h0M282.6 382.6h0M286.5 378.5h0M282.6 374.9h0M278.7 378.7h0M280.0 375.4h0M276.5 376.6h0M273.4 379.9h0M286.7 380.0h0M278.2 377.4h0M281.2 375.8h0M277.5 378.8h0M277.1 375.2h0M279.7 374.8h0M283.4 374.8h0M285.0 381.7h0M280.2 380.9h0M286.7 378.6h0M281.3 376.4h0M279.6 376.7h0M281.0 380.0h0M285.9 378.9h0M289.0 380.9h0M280.4 377.3h0M281.5 377.2h0M280.5 383.9h0M282.0 376.2h0M272.1 375.6h0M276.7 374.7h0M281.5 379.6h0M282.4 382.4h0M276.9 375.1h0M277.6 374.2h0M278.5 374.9h0M285.2 376.0h0M286.3 374.7h0M279.6 374.0h0M280.7 379.7h0M279.5 375.8h0M276.9 374.5h0M277.4 375.1h0M280.6 381.0h0M278.5 380.2h0M275.7 378.0h0M276.3 372.9h0M275.5 378.0h0M279.1 375.4h0M284.3 376.1h0M275.7 375.5h0M280.4 378.5h0M279.1 381.5h0M283.7 378.5h0M282.7 376.2h0M284.6 380.4h0M288.4 378.4h0M282.7 382.3h0M284.6 381.1h0M278.0 382.3h0M283.0 380.8h0M286.8 381.4h0M274.9 374.0h0M280.9 374.1h0M283.6 377.5h0M278.3 381.6h0M280.6 377.3h0M286.6 378.5h0M282.0 384.0h0M277.5 376.6h0M275.3 377.5h0M276.2 380.5h0M282.8 380.8h0M281.7 379.0h0M273.1 375.3h0M276.0 373.9h0M280.2 376.2h0M281.1 376.4h0M276.8 379.3h0M277.9 380.2h0M283.0 381.7h0M287.6 383.3h0M275.1 380.9h0M287.6 376.5h0M286.1 378.2h0M279.6 377.2h0M277.5 379.6h0M280.6 377.9h0M281.4 377.1h0M275.4 378.6h0M285.9 375.7h0M284.5 383.2h0M280.5 382.7h0M277.0 378.1h0M278.3 379.6h0M274.0 375.3h0M283.0 378.4h0M276.0 381.6h0M273.3 376.4h0M280.3 376.8h0M283.8 379.7h0M279.4 379.9h0M280.0 379.6h0M286.9 380.5h0M281.6 376.5h0M287.0 382.9h0M283.2 379.8h0M276.7 377.3h0M283.3 375.1h0M276.3 376.6h0M284.7 381.5h0M278.3 377.1h0M273.5 374.8h0M277.0 375.0h0M283.3 383.1h0M273.5 378.0h0M284.9 380.1h0M286.6 383.4h0M276.8 377.5h0M283.2 374.9h0M278.9 380.9h0M282.8 378.8h0M286.3 376.8h0M287.2 378.5h0M280.4 376.7h0M274.2 378.3h0M274.2 379.1h0M275.9 381.0h0M281.6 382.2h0M275.0 378.5h0M284.3 380.0h0M280.8 376.3h0M275.5 373.4h0M276.6 379.3h0M281.2 377.6h0M277.0 377.7h0M273.8 374.5h0M285.6 376.5h0M280.6 376.9h0M277.3 374.8h0M275.9 376.7h0M281.9 380.5h0M283.6 375.2h0M287.5 381.1h0M285.6 375.3h0M282.6 382.3h0M277.9 378.0h0M280.1 380.2h0M281.5 379.3h0M277.4 373.5h0M275.7 378.6h0M288.1 378.1h0M272.6 377.2h0M281.4 375.6h0M287.8 382.4h0M282.0 374.1h0M286.2 383.4h0M283.7 384.3h0M276.7 373.9h0M284.9 380.8h0M281.1 376.7h0M285.8 380.4h0M286.2 376.0h0M280.9 379.6h0M280.5 376.0h0M281.1 377.9h0M282.4 381.3h0M282.4 378.4h0M284.2 383.7h0M282.0 375.9h0M279.2 377.3h0M281.7 373.7h0M286.4 374.9h0M275.5 377.7h0M276.3 372.6h0M284.9 377.2h0M287.5 380.8h0M273.9 374.5h0M281.7 376.5h0M279.1 374.7h0M281.2 380.9h0M274.7 380.7h0M277.1 376.3h0M288.8 382.4h0M281.7 377.3h0M279.0 381.4h0M281.1 378.9h0M279.4 378.2h0M287.5 380.9h0M276.7 374.6h0M286.4 381.6h0M276.9 376.8h0M281.0 380.2h0M276.1 377.3h0M275.2 374.2h0M278.8 382.2h0M279.2 383.3h0M281.9 382.8h0M281.7 372.6h0M290.0 380.2h0M278.0 379.5h0M279.5 376.6h0M281.7 379.8h0M278.8 375.0h0M276.7 376.5h0M280.0 379.0h0M280.7 378.6h0M286.0 379.2h0M282.8 375.2h0M283.1 378.6h0M273.7 377.1h0M276.0 381.2h0" stroke="#2a82f8" stroke-width="1.35" stroke-linecap="round" fill="none"/>
<path d="M284.1 380.2h0M287.6 382.6h0M281.6 378.9h0M284.3 377.4h0M284.7 377.1h0M281.2 378.5h0M283.7 380.4h0M280.3 379.5h0M284.1 379.6h0M283.4 378.6h0M283.2 382.3h0M280.3 377.7h0M281.7 380.1h0M282.4 377.5h0M285.9 381.3h0M281.6 378.2h0M282.4 379.4h0M281.7 379.1h0M285.1 382.0h0M280.8 378.6h0M280.7 378.0h0M282.8 378.8h0M285.5 378.3h0M283.9 381.3h0M282.1 378.6h0M285.2 379.3h0M281.8 379.6h0M283.5 380.8h0M278.6 377.5h0M284.2 381.0h0" stroke="#6cb4f8" stroke-width="1.0" stroke-linecap="round" fill="none"/>
<path d="M270.8 376.5h0M275.0 377.8h0M272.8 376.3h0M271.0 379.6h0M269.9 375.6h0M270.6 376.9h0M272.1 378.1h0M274.5 378.1h0M273.1 377.0h0M274.7 376.8h0M274.0 377.4h0M270.9 378.5h0M273.4 377.9h0M274.2 377.5h0M270.6 377.5h0M268.4 377.3h0M270.0 379.7h0M272.3 375.6h0M271.9 375.6h0M273.0 379.0h0M274.4 379.2h0M272.0 379.4h0M273.0 375.0h0M274.7 375.7h0M270.8 374.5h0M269.6 375.8h0M269.6 376.6h0M273.6 376.8h0M272.9 379.3h0M270.8 379.9h0M271.9 377.2h0M272.7 379.7h0M269.6 378.9h0M271.0 377.5h0M274.3 378.7h0M269.9 375.7h0M269.6 377.2h0M272.8 377.3h0M272.3 378.6h0M272.3 379.4h0M274.5 375.5h0M272.8 376.9h0M273.6 377.0h0M269.5 375.3h0M271.5 378.8h0M274.9 375.5h0M272.9 377.2h0M269.7 375.2h0M275.1 376.5h0M271.8 378.1h0M272.7 378.5h0M270.4 376.6h0M272.5 377.9h0M273.7 378.8h0M273.9 377.1h0M272.5 374.4h0M270.7 379.0h0M272.7 377.1h0M274.5 378.6h0M273.1 377.0h0" stroke="#858585" stroke-width="1.15" stroke-linecap="round" fill="none"/>
<path d="M269.0 374.6h0M268.8 368.9h0M267.6 371.3h0M269.0 375.2h0M267.8 370.9h0M269.8 373.2h0M266.1 373.2h0M268.5 372.9h0M270.4 374.5h0M265.2 370.0h0" stroke="#8a2a9a" stroke-width="1.0" stroke-linecap="round" fill="none"/>
<text x="270.5" y="341.1" font-size="10" fill="#111" text-anchor="middle" stroke="#111" stroke-width="0.12">BM</text>
<text x="226.1" y="352.7" font-size="8" fill="#222" text-anchor="middle" stroke="#222" stroke-width="0.12">0.8</text>
<text x="228.4" y="369.2" font-size="8" fill="#222" text-anchor="middle" stroke="#222" stroke-width="0.12">0.4</text>
<text x="230.4" y="382.9" font-size="8" fill="#222" text-anchor="middle" stroke="#222" stroke-width="0.12">0.0</text>
<text x="234.5" y="396.1" font-size="8" fill="#222" text-anchor="middle" stroke="#222" stroke-width="0.12">0.0</text>
<text x="243" y="404.9" font-size="8" fill="#222" text-anchor="middle" stroke="#222" stroke-width="0.12">0.4</text>
<text x="252.8" y="414.8" font-size="8" fill="#222" text-anchor="middle" stroke="#222" stroke-width="0.12">0.8</text>
<text x="302.3" y="400.1" font-size="8" fill="#222" text-anchor="middle" stroke="#222" stroke-width="0.12">−0.2</text>
<text x="290.7" y="409.7" font-size="8" fill="#222" text-anchor="middle" stroke="#222" stroke-width="0.12">0.2</text>
<text x="272.7" y="423.4" font-size="8" fill="#222" text-anchor="middle" stroke="#222" stroke-width="0.12">0.6</text>
<text x="213" y="366.6" font-size="8" fill="#222" text-anchor="middle" textLength="34" lengthAdjust="spacingAndGlyphs" transform="rotate(80 213 366.6)" stroke="#222" stroke-width="0.12">GMP score</text>
<text x="235.5" y="412.5" font-size="8" fill="#222" text-anchor="middle" textLength="33" lengthAdjust="spacingAndGlyphs" transform="rotate(48 235.5 412.5)" stroke="#222" stroke-width="0.12">MLP score</text>
<text x="298.5" y="418.5" font-size="8" fill="#222" text-anchor="middle" textLength="33" lengthAdjust="spacingAndGlyphs" transform="rotate(-36 298.5 418.5)" stroke="#222" stroke-width="0.12">MEP score</text>
<path d="M336.7,345.4L372.0,344.0L372.0,381.2L341.5,386.9ZM372.0,344.0L404.3,346.5L399.0,389.2L372.0,381.2ZM341.5,386.9L372.0,381.2L399.0,389.2L366.2,412.7Z" fill="#fdfdfd" stroke="none"/>
<path d="M347.6,345.0L351.0,385.1M357.0,344.6L359.0,383.6M364.9,344.3L365.9,382.3M380.1,344.6L378.8,383.2M347.7,393.3L378.8,383.2M349.1,385.5L374.4,406.8M388.1,345.2L385.5,385.2M353.9,399.8L385.5,385.2M356.8,384.0L382.6,400.9M396.2,345.9L392.2,387.2M360.0,406.2L392.2,387.2M364.4,382.6L390.8,395.1M337.2,349.5L372.0,347.7L403.8,350.8M338.1,357.8L372.0,355.2L402.7,359.3M339.1,366.1L372.0,362.6L401.6,367.9M340.0,373.6L372.0,369.3L400.7,375.5M340.8,380.9L372.0,375.8L399.8,383.0" stroke="#d8d8d8" stroke-width="0.6" fill="none"/>
<path d="M341.5,386.9L336.7,345.4L372.0,344.0L404.3,346.5L399.0,389.2M372.0,344.0L372.0,381.2M341.5,386.9L372.0,381.2L399.0,389.2" stroke="#333" stroke-width="0.8" fill="none"/>
<path d="M341.5,386.9L366.2,412.7L399.0,389.2" stroke="#222" stroke-width="1.1" fill="none"/>
<path d="M337.2,349.5L335.2,349.5M339.1,366.1L337.1,366.1M340.8,380.9L338.8,380.9M342.7,388.2L341.1,389.4M351.4,397.2L349.8,398.4M360.0,406.2L358.4,407.4M374.4,406.8L376.0,408.0M385.9,398.6L387.5,399.8M397.4,390.4L399.0,391.6" stroke="#333" stroke-width="0.7" fill="none"/>
<path d="M374.8 371.5h0M370.2 365.5h0M369.2 361.5h0M369.1 364.9h0M369.3 368.7h0M371.4 354.7h0M373.1 365.0h0M372.9 358.1h0M370.9 358.1h0M371.8 369.6h0M371.6 359.3h0M371.2 359.1h0M372.2 357.5h0M373.3 357.3h0M369.7 371.0h0M374.9 370.8h0M371.1 351.0h0M369.9 361.2h0M371.4 357.9h0M370.7 362.9h0M373.9 372.2h0M372.9 373.3h0M372.1 353.6h0M369.7 368.9h0M369.5 367.1h0M372.8 368.6h0M370.2 371.5h0M374.8 364.7h0M373.5 361.9h0M371.8 352.9h0M374.5 372.8h0M370.9 369.4h0M372.3 362.5h0M371.2 369.2h0M372.8 359.4h0M373.3 356.5h0M373.5 355.1h0M372.4 368.9h0M373.6 360.5h0M373.1 365.6h0M372.9 351.2h0M373.3 362.7h0M373.4 369.0h0M369.8 371.0h0M372.0 360.7h0M375.9 370.6h0M369.3 368.5h0M371.2 371.4h0M372.1 354.5h0M370.6 362.7h0M372.7 367.4h0M369.1 371.5h0M370.8 369.3h0M369.1 369.2h0M370.8 367.9h0M371.4 355.1h0M371.8 365.7h0M370.7 359.2h0M370.7 357.8h0M372.7 368.7h0M370.4 371.5h0M372.8 366.8h0M371.6 353.8h0M373.9 366.3h0M370.6 358.1h0M369.9 369.5h0M370.4 369.3h0M371.6 351.4h0M370.6 361.2h0M372.6 363.7h0M371.2 359.4h0M372.0 355.0h0M373.3 369.6h0M372.0 351.5h0M370.9 354.8h0M370.7 353.8h0M374.7 373.0h0M371.2 351.7h0M375.9 372.2h0M375.8 372.6h0M374.2 368.6h0M372.4 372.1h0M374.2 362.3h0M369.9 369.1h0M367.5 370.2h0M371.7 351.1h0M372.7 357.5h0M371.4 354.3h0M374.1 370.0h0M374.2 368.4h0M374.7 367.7h0M373.8 368.2h0M373.6 370.9h0M369.4 367.1h0M373.6 358.4h0M374.4 365.7h0M370.4 362.1h0M372.7 352.8h0M374.8 368.1h0M372.9 353.1h0M369.2 369.9h0M371.0 352.1h0M374.0 362.0h0M373.4 362.0h0M371.9 353.0h0M371.3 368.0h0M373.1 370.4h0M371.0 372.5h0M373.5 372.4h0M372.0 371.8h0M372.7 367.4h0M373.5 367.5h0M370.5 361.2h0M374.6 372.5h0M370.0 364.7h0M371.9 363.5h0M370.4 364.7h0M372.0 362.0h0M372.5 367.3h0M371.7 365.9h0M374.0 372.2h0M370.1 368.5h0M370.3 364.9h0M371.9 351.1h0M372.9 366.1h0M373.3 361.5h0M373.6 359.7h0M375.1 371.8h0M372.1 366.6h0M372.5 370.7h0M372.3 369.0h0M369.2 370.7h0M371.0 367.1h0M372.9 364.7h0M371.9 371.1h0M372.0 353.8h0M370.1 367.1h0M374.3 365.9h0M373.6 366.5h0M373.2 358.0h0M368.1 371.1h0M371.2 366.7h0M372.2 365.8h0M373.7 369.3h0M371.8 370.3h0M372.8 363.5h0M370.4 371.3h0M371.1 356.5h0M371.4 361.8h0M370.1 365.6h0M372.5 354.4h0M371.4 372.2h0M371.3 351.7h0M371.4 359.1h0M371.0 361.6h0M372.5 364.7h0M371.7 368.9h0M371.6 360.0h0M373.3 357.3h0M371.8 355.4h0M373.6 365.3h0M372.8 363.4h0M371.9 372.5h0M374.2 368.1h0M373.8 370.6h0M373.4 354.5h0M369.7 371.7h0M372.0 360.2h0M371.6 365.1h0M371.1 357.2h0M372.0 363.1h0M372.1 359.9h0M368.9 366.5h0M370.9 372.6h0M371.1 354.8h0M369.8 370.8h0M372.2 365.4h0M373.2 367.6h0M372.3 358.2h0M370.7 360.3h0M369.4 367.2h0M372.2 351.1h0M372.0 364.5h0M373.5 365.8h0M374.0 371.0h0M372.9 373.0h0M371.6 364.5h0M373.6 364.8h0M372.4 370.3h0M372.2 365.9h0M370.8 363.4h0M369.5 361.7h0M373.1 354.3h0M372.9 360.3h0M369.3 372.2h0M372.6 358.7h0M370.7 364.0h0M372.3 358.4h0M371.8 371.3h0M374.5 362.2h0M373.7 364.3h0M371.6 359.0h0M374.4 369.1h0M371.3 354.7h0M373.3 355.0h0M372.8 368.8h0M369.9 364.8h0M369.0 362.1h0M373.2 371.5h0M373.7 367.0h0M371.1 355.4h0M371.4 372.2h0M370.9 366.6h0M369.6 370.7h0M369.6 362.9h0M373.4 353.6h0M369.4 367.3h0M370.4 358.1h0M373.7 365.9h0M372.7 360.4h0M370.6 369.6h0M370.2 358.0h0M373.5 362.0h0M371.1 370.2h0M371.3 366.8h0M374.9 368.8h0M370.9 369.2h0M370.2 372.0h0M371.6 371.2h0M373.0 368.3h0M368.2 372.9h0M373.1 363.2h0M374.3 367.5h0M373.5 363.7h0M372.1 355.5h0M367.8 370.7h0M371.3 360.9h0M371.7 356.2h0M373.9 372.6h0M370.5 355.6h0M372.0 351.7h0M370.3 357.9h0M371.8 365.7h0M370.7 370.4h0M373.9 356.7h0M374.3 361.8h0M375.0 373.0h0M372.8 357.3h0M372.3 352.3h0M371.7 367.3h0M371.1 359.7h0M371.0 355.7h0M370.5 361.0h0M371.5 355.6h0M374.7 362.5h0M370.6 359.4h0M373.6 369.2h0M374.2 371.8h0M374.4 365.5h0M370.6 372.1h0M372.3 365.6h0M372.2 367.9h0M373.6 355.0h0M371.5 353.4h0M371.7 354.0h0M373.5 355.7h0M371.8 358.1h0M375.2 368.8h0M374.5 371.8h0M370.0 361.5h0M373.0 370.1h0M370.3 364.6h0M372.5 358.7h0M371.1 352.8h0M371.1 355.9h0M371.9 362.0h0M372.0 356.1h0M370.7 365.7h0M372.0 364.1h0M376.2 371.8h0" stroke="#0e5e10" stroke-width="1.25" stroke-linecap="round" fill="none"/>
<path d="M371.6 364.3h0M376.1 368.7h0M376.3 364.9h0M380.4 366.6h0M377.1 368.4h0M376.6 366.3h0M375.7 365.6h0M375.3 365.1h0M370.2 367.4h0M374.1 366.1h0M373.8 366.5h0M376.3 371.5h0M377.4 369.0h0M378.7 368.7h0M376.9 369.1h0M378.3 366.2h0M374.2 367.7h0M375.2 368.6h0M373.4 366.9h0M376.1 368.4h0M373.8 364.2h0M374.8 369.6h0M375.1 370.6h0M373.3 367.4h0M378.3 369.5h0M375.0 371.1h0M375.9 368.3h0M374.4 367.6h0M372.9 370.8h0M378.9 366.5h0M373.0 367.3h0M378.9 366.2h0M379.4 369.4h0M379.9 366.8h0M376.5 364.0h0M376.2 367.3h0M375.3 366.3h0M375.3 367.1h0M374.4 369.2h0M376.6 369.9h0M377.1 370.6h0M371.3 367.4h0M374.5 364.5h0M373.2 368.4h0M375.5 364.0h0M370.1 369.7h0M377.1 369.0h0M373.0 366.6h0M371.1 365.4h0M375.3 371.6h0M376.7 364.9h0M370.4 367.3h0M375.2 368.2h0M377.3 369.6h0M375.2 369.0h0M373.5 368.6h0M375.5 370.2h0M374.1 366.7h0M377.3 369.4h0M373.0 367.8h0M372.1 365.6h0M373.9 367.0h0M372.4 367.9h0M375.0 368.5h0M372.5 364.8h0M375.1 369.3h0M379.0 366.3h0M373.8 366.1h0M379.4 364.9h0M373.4 367.9h0M374.4 367.9h0M377.4 371.0h0M376.9 368.1h0M377.2 369.1h0M374.0 367.6h0M373.8 367.5h0M374.3 369.7h0M378.4 366.5h0M374.7 369.7h0M374.8 369.0h0" stroke="#1fc21f" stroke-width="1.15" stroke-linecap="round" fill="none"/>
<path d="M358.7 384.0h0M358.5 381.4h0M370.0 373.6h0M359.8 381.1h0M357.8 379.5h0M362.7 372.0h0M364.6 375.9h0M361.7 374.2h0M361.7 379.4h0M359.4 378.2h0M363.9 376.3h0M367.6 377.0h0M359.1 378.4h0M363.2 374.9h0M355.0 385.8h0M352.0 382.3h0M367.9 375.2h0M359.1 374.3h0M362.1 372.6h0M359.6 379.1h0M362.0 377.2h0M367.7 374.9h0M365.9 374.6h0M360.6 378.8h0M364.0 378.7h0M358.4 381.6h0M363.5 376.0h0M358.1 377.8h0M354.1 383.1h0M358.5 384.7h0M358.7 374.7h0M362.8 377.5h0M362.7 381.7h0M363.2 378.2h0M368.7 375.0h0M356.4 384.7h0M365.8 378.9h0M360.7 381.6h0M365.9 380.2h0M363.6 376.9h0M358.7 378.0h0M363.9 381.1h0M354.8 381.9h0M362.3 375.2h0M363.7 374.5h0M359.2 376.9h0M355.4 383.8h0M353.1 378.4h0M356.8 382.6h0M365.3 379.3h0M357.6 385.1h0M369.6 374.0h0M361.0 375.1h0M363.7 377.5h0M360.1 377.7h0M367.1 374.3h0M353.8 383.5h0M354.4 382.9h0M363.3 378.4h0M362.9 379.2h0M355.6 380.6h0M360.4 379.8h0M355.0 383.0h0M369.8 372.8h0M364.7 376.3h0M354.1 382.5h0M356.1 376.8h0M358.9 378.0h0M360.0 381.1h0M354.5 382.4h0M362.7 377.9h0M361.9 377.7h0M356.4 379.5h0M353.9 379.8h0M360.9 380.8h0M364.2 376.5h0M364.8 373.8h0M357.5 376.3h0M360.9 381.0h0M355.2 381.3h0M358.7 379.2h0M358.4 380.6h0M353.5 383.1h0M363.7 374.0h0M364.9 377.6h0M356.0 377.1h0M364.1 374.5h0M354.0 381.4h0M356.5 382.5h0M358.7 383.8h0M354.3 378.1h0M351.6 383.1h0M366.3 374.7h0M354.7 376.8h0M360.6 376.0h0M362.1 379.2h0M363.2 380.5h0M363.2 374.6h0M361.4 377.8h0M366.5 374.4h0M359.9 379.1h0M354.8 384.7h0M356.7 377.6h0M364.5 379.3h0M363.1 373.5h0M356.0 380.4h0M363.3 378.4h0M359.5 382.3h0M363.7 375.3h0M363.6 381.6h0M363.3 375.5h0M359.7 381.9h0M362.5 377.5h0M355.7 380.4h0M353.2 383.3h0M352.9 378.4h0M368.5 376.7h0M362.9 377.0h0M360.7 379.8h0M363.2 378.5h0M361.3 372.3h0M353.0 382.8h0M357.9 375.4h0M366.2 376.3h0M363.4 379.9h0M363.5 376.0h0M358.6 383.3h0M356.4 378.4h0M356.0 383.4h0M361.4 377.2h0M364.2 373.2h0M364.0 374.4h0M359.0 378.5h0M363.5 381.0h0M358.4 383.0h0M366.8 373.8h0M354.9 378.0h0M359.3 379.4h0M355.6 382.8h0M363.1 379.9h0M355.3 381.1h0M352.4 382.0h0M358.6 374.3h0M366.5 378.9h0M364.7 376.3h0M368.2 373.4h0M364.9 372.2h0M354.9 378.2h0M357.3 376.1h0M360.2 376.6h0M352.8 383.9h0M367.2 375.8h0M361.7 376.7h0M356.8 375.3h0M353.6 379.1h0M354.4 382.6h0M355.2 379.7h0M360.3 374.4h0M354.6 383.4h0M361.3 372.9h0M360.0 378.6h0M362.1 378.1h0M357.8 379.8h0M351.3 384.9h0M357.3 383.1h0M360.5 379.9h0M357.1 379.5h0M363.7 378.4h0M361.9 379.7h0M366.8 373.4h0M356.8 378.4h0M356.7 378.6h0M355.6 381.7h0M359.4 375.6h0M359.1 380.8h0M358.3 377.9h0M354.3 379.9h0M358.9 378.2h0M365.1 372.5h0M361.9 372.2h0M363.4 378.9h0M366.2 373.2h0M353.9 381.8h0M363.2 378.0h0M360.5 377.6h0M363.9 379.9h0M361.9 380.5h0M368.4 374.0h0M364.6 376.8h0M368.2 376.4h0M363.3 380.6h0M367.4 374.8h0M362.8 379.4h0M360.9 377.1h0M353.8 382.6h0M360.0 380.4h0M358.7 379.3h0M364.6 375.8h0M357.7 381.7h0M357.1 377.0h0M353.0 380.1h0M351.3 382.0h0M357.7 379.5h0M361.8 373.9h0M369.4 374.0h0M355.4 383.2h0M359.2 375.5h0M352.8 385.2h0M363.9 373.9h0M356.1 376.9h0M356.0 380.2h0M360.3 380.8h0M361.2 377.7h0M361.7 379.6h0M361.3 373.2h0M359.7 380.1h0M353.6 377.7h0M352.7 379.0h0M358.7 378.9h0M364.0 378.8h0M360.7 376.1h0M363.3 377.5h0M360.3 376.4h0M356.5 385.4h0M361.4 374.7h0M353.9 384.9h0M367.7 373.6h0M358.6 381.4h0M364.8 379.7h0M358.2 377.3h0M357.7 375.4h0M353.2 381.0h0M359.3 379.2h0M351.6 382.6h0M357.3 378.6h0M362.4 374.3h0M361.8 378.0h0M368.6 374.7h0M352.4 383.5h0M358.4 383.4h0M363.7 377.5h0M358.5 377.1h0M367.4 377.0h0M364.8 372.0h0M363.2 376.6h0M353.2 380.7h0M360.4 377.5h0M358.1 378.8h0M359.4 377.4h0M350.8 384.7h0M369.5 372.0h0M359.7 376.0h0M354.2 379.0h0M352.7 383.2h0M355.4 382.4h0M358.5 374.7h0M360.2 376.9h0M353.5 382.5h0M360.5 378.7h0M357.8 383.7h0M356.9 382.6h0M352.8 379.2h0M363.4 374.5h0M354.0 382.4h0M366.5 374.1h0M369.8 373.4h0M366.1 377.2h0M358.0 378.8h0M351.5 381.4h0M357.5 383.4h0M358.0 380.9h0M354.1 379.1h0M358.7 376.0h0M355.0 380.9h0M365.3 376.7h0M361.8 375.1h0M360.8 377.6h0M364.8 378.4h0M351.6 379.3h0M366.4 375.6h0M359.6 379.4h0M364.7 375.0h0M369.0 372.9h0M367.7 374.6h0M362.4 379.6h0M358.2 377.4h0M359.8 378.9h0M359.1 381.6h0M362.3 378.0h0M358.4 380.2h0M363.5 375.3h0M359.1 380.0h0M360.5 376.2h0M365.4 376.6h0M353.3 383.6h0M359.0 376.6h0M361.0 376.2h0M355.6 381.5h0M355.7 380.1h0M355.6 380.6h0" stroke="#f42a1c" stroke-width="1.35" stroke-linecap="round" fill="none"/>
<path d="M365.5 377.7h0M363.6 375.9h0M359.4 380.8h0M364.7 379.8h0M360.8 382.8h0M362.4 376.5h0M361.6 378.6h0M367.6 375.2h0M363.9 376.1h0M358.9 379.4h0M358.6 380.7h0M365.3 382.4h0M363.7 381.6h0M366.8 379.0h0M364.4 377.8h0M366.8 380.0h0M360.0 377.4h0M360.4 376.7h0M362.2 378.6h0M361.4 379.4h0M367.7 376.5h0M367.2 376.2h0M362.7 375.6h0M368.1 376.9h0M368.3 375.7h0M365.1 375.0h0M360.6 381.1h0M363.3 381.3h0M361.3 378.6h0M363.0 378.5h0M364.6 377.3h0M363.3 374.6h0M366.9 380.0h0M369.4 377.1h0M363.7 376.9h0M362.9 379.5h0M360.1 377.2h0M368.5 377.3h0M364.9 376.8h0M365.5 376.5h0M365.3 377.9h0M363.3 377.1h0M365.1 375.7h0M363.8 379.9h0M366.6 377.1h0M360.9 381.0h0M362.7 378.7h0M360.5 382.5h0M366.3 375.0h0M363.1 377.2h0M366.2 380.3h0M366.1 381.0h0M364.3 380.7h0M362.3 381.4h0M365.0 379.9h0M367.0 377.4h0M366.5 376.4h0M363.2 382.8h0M366.6 381.5h0M369.6 376.4h0M363.3 374.3h0M362.5 378.8h0M360.9 377.2h0M359.0 381.8h0M366.2 379.6h0M364.9 380.7h0M360.5 380.1h0M367.1 377.9h0M366.2 376.1h0M364.4 378.2h0M364.0 380.9h0M359.7 379.6h0M360.0 380.4h0M361.7 380.6h0M368.0 375.5h0M362.7 379.3h0M363.2 378.4h0M362.1 379.9h0M362.8 380.3h0M365.7 380.3h0" stroke="#ffa02a" stroke-width="1.15" stroke-linecap="round" fill="none"/>
<path d="M364.0 377.5h0M359.5 377.3h0M362.5 374.4h0M364.7 380.4h0M357.8 381.5h0M363.8 376.1h0M365.5 373.8h0M354.8 382.8h0M363.4 377.2h0M363.9 372.9h0M360.4 381.1h0M362.5 379.1h0M353.7 381.6h0M354.5 380.7h0M360.3 376.0h0M354.1 383.4h0M363.0 375.2h0M358.0 382.0h0M361.3 381.0h0M363.7 375.4h0M355.8 380.9h0M366.4 377.1h0M362.3 374.6h0M365.5 378.2h0M359.7 375.1h0M360.3 381.9h0M358.1 383.1h0M361.0 372.7h0M360.3 376.7h0M361.4 381.7h0" stroke="#222" stroke-width="0.95" stroke-linecap="round" fill="none"/>
<path d="M382.8 378.4h0M386.6 379.7h0M379.9 376.2h0M389.8 381.6h0M388.1 373.9h0M376.4 378.4h0M387.2 378.9h0M378.1 374.3h0M393.5 380.3h0M384.1 380.4h0M381.7 376.8h0M386.0 381.3h0M382.6 373.9h0M390.2 378.4h0M386.5 375.2h0M386.1 382.4h0M377.9 377.0h0M378.0 373.2h0M389.0 384.3h0M388.9 376.4h0M383.6 381.0h0M382.9 376.7h0M385.3 381.8h0M382.9 372.1h0M381.8 377.0h0M383.4 379.1h0M391.9 380.7h0M388.2 377.2h0M383.8 380.3h0M376.7 379.6h0M380.1 376.0h0M387.8 381.7h0M386.2 376.6h0M385.2 378.9h0M386.1 378.0h0M382.6 373.9h0M377.3 378.7h0M395.0 382.5h0M386.2 378.1h0M385.6 380.8h0M389.1 379.7h0M385.5 379.2h0M388.4 382.0h0M395.5 380.4h0M386.6 382.6h0M381.7 376.9h0M388.5 380.6h0M384.2 379.3h0M378.3 377.1h0M390.0 379.4h0M375.8 375.6h0M389.5 382.2h0M383.3 375.9h0M391.3 379.9h0M376.0 373.0h0M379.7 382.3h0M385.8 372.3h0M381.7 380.7h0M379.8 374.8h0M376.9 376.8h0M385.8 376.8h0M385.2 380.6h0M380.9 377.0h0M389.1 378.8h0M374.4 377.2h0M384.0 379.8h0M384.4 384.3h0M387.2 382.0h0M379.4 376.9h0M383.7 379.9h0M374.8 375.1h0M381.5 375.0h0M381.0 379.6h0M390.1 382.7h0M374.7 373.8h0M386.2 379.4h0M390.5 378.4h0M383.6 380.5h0M386.9 376.1h0M384.7 378.5h0M379.8 374.9h0M385.3 381.1h0M382.1 380.7h0M381.1 380.3h0M390.7 380.8h0M377.4 374.6h0M378.5 381.7h0M381.5 378.4h0M389.0 378.5h0M388.4 385.3h0M387.0 375.8h0M388.2 378.6h0M376.8 379.1h0M375.2 375.9h0M385.8 372.9h0M386.0 376.3h0M380.3 371.6h0M385.6 376.4h0M384.1 378.1h0M394.1 380.6h0M383.7 383.3h0M380.7 381.7h0M394.2 381.0h0M378.1 375.3h0M385.7 379.6h0M387.5 377.3h0M382.7 376.1h0M378.4 382.5h0M386.0 378.7h0M388.5 373.9h0M384.5 376.4h0M377.5 381.2h0M385.4 381.0h0M381.2 377.7h0M384.1 380.5h0M385.2 380.4h0M379.7 378.7h0M386.9 381.1h0M382.8 378.7h0M384.1 379.4h0M385.3 376.8h0M381.6 377.9h0M384.7 377.0h0M385.6 380.9h0M387.2 378.3h0M387.8 373.0h0M389.3 376.5h0M379.5 378.5h0M382.0 374.1h0M384.3 374.5h0M390.9 376.2h0M383.0 381.9h0M390.7 381.6h0M376.7 378.1h0M391.3 384.1h0M387.7 381.7h0M383.7 379.5h0M387.2 379.3h0M393.7 378.1h0M393.1 379.1h0M378.9 375.4h0M380.0 376.0h0M387.3 383.9h0M392.9 378.3h0M385.9 383.5h0M386.3 375.3h0M382.5 378.4h0M382.8 374.4h0M385.3 381.1h0M380.5 376.6h0M380.6 380.8h0M393.1 379.1h0M388.3 373.8h0M385.3 373.2h0M387.1 376.6h0M381.2 376.9h0M384.2 383.6h0M385.4 379.1h0M379.7 373.4h0M386.4 378.6h0M383.3 379.8h0M388.0 383.1h0M383.2 373.1h0M377.2 376.6h0M385.2 380.0h0M387.9 383.3h0M384.6 379.0h0M380.8 372.8h0M386.0 374.8h0M393.9 378.6h0M395.9 379.4h0M382.9 381.9h0M385.8 384.0h0M379.0 379.4h0M381.9 379.3h0M377.6 372.9h0M382.6 379.4h0M379.5 373.3h0M395.5 379.7h0M378.6 374.8h0M385.5 382.0h0M381.2 379.6h0M383.7 380.6h0M390.4 383.3h0M387.8 378.5h0M387.6 380.5h0M388.8 380.1h0M385.3 379.0h0M380.1 381.4h0M380.0 380.0h0M390.5 381.9h0M384.5 371.9h0M382.1 375.5h0M389.3 380.4h0M378.7 373.9h0M376.1 379.9h0M392.1 380.1h0M381.3 373.8h0M390.2 382.1h0M392.8 378.9h0M381.3 379.0h0M376.5 380.4h0M382.8 373.1h0M391.0 379.4h0M381.6 382.7h0M394.5 379.2h0M393.5 382.1h0M383.6 383.9h0M386.2 382.4h0M384.1 373.7h0M375.9 373.8h0M381.1 378.0h0M395.8 380.2h0M377.0 376.1h0M385.4 381.4h0M393.1 383.1h0M387.7 376.7h0M386.1 382.8h0M381.0 383.5h0M384.2 381.3h0M384.8 376.7h0M386.0 379.9h0M382.0 372.8h0M386.7 381.8h0M386.5 378.1h0M382.7 375.1h0M377.5 374.3h0M394.3 380.7h0M381.8 377.7h0M378.4 376.8h0M383.1 374.0h0M384.5 381.0h0M386.4 374.1h0M386.2 376.5h0M381.9 378.2h0M386.8 382.3h0M390.0 383.0h0M381.7 380.8h0M391.2 383.7h0M392.5 383.5h0M380.3 376.5h0M380.7 372.4h0M394.2 376.8h0M390.5 378.8h0M388.7 382.7h0M393.9 378.7h0M391.8 384.8h0M388.6 375.8h0M374.4 378.2h0M376.0 372.8h0M387.5 377.7h0M386.7 383.8h0M381.3 380.0h0M391.7 380.8h0M391.4 380.6h0M385.2 382.2h0M384.0 377.8h0M387.4 383.4h0M377.4 380.5h0M386.2 380.0h0M394.8 378.5h0M381.0 373.3h0M385.7 380.8h0M375.6 377.5h0M377.6 377.2h0M384.3 382.1h0M379.5 379.9h0M389.9 376.5h0M387.6 381.3h0M384.7 378.7h0M382.1 381.0h0M387.0 378.8h0M379.2 378.2h0M386.3 373.3h0M382.0 376.1h0M380.2 376.9h0M395.4 378.3h0M391.2 383.9h0M379.9 371.8h0M388.8 383.8h0M389.3 382.5h0M380.5 379.8h0M378.0 378.8h0M389.9 383.2h0M392.8 383.8h0M391.6 381.7h0M395.7 382.2h0M395.2 379.7h0M378.0 377.5h0M385.5 377.3h0M379.6 380.3h0M387.1 383.0h0M382.5 379.5h0M380.0 374.8h0M389.4 383.4h0M384.8 383.4h0M379.3 382.2h0M384.7 378.3h0M378.0 381.8h0M377.9 381.8h0M386.2 375.0h0M382.3 377.9h0M382.8 380.7h0M390.1 373.9h0M379.2 372.0h0M376.3 378.1h0M384.2 378.8h0M380.9 379.2h0M387.6 382.8h0M383.4 379.8h0M387.4 375.5h0M384.4 382.8h0M379.4 381.3h0M381.8 382.8h0M386.4 376.0h0M385.0 383.4h0M388.8 375.9h0M374.0 375.3h0M382.5 376.9h0M382.4 379.0h0M381.5 371.7h0M383.9 377.3h0M383.9 378.6h0M382.5 372.0h0M386.3 384.7h0M388.1 380.3h0M389.2 378.8h0M386.9 375.1h0M378.9 378.3h0M389.5 385.5h0M374.8 374.5h0M380.4 377.5h0M384.3 380.3h0M384.9 374.2h0M380.4 379.8h0M385.0 381.6h0M383.7 382.7h0M378.3 378.5h0M388.8 376.8h0M380.0 374.2h0M393.4 379.7h0M390.7 379.0h0M385.8 381.3h0M386.8 377.5h0M393.2 383.5h0M381.1 379.0h0M385.2 380.6h0M382.9 377.4h0M390.5 379.3h0M383.8 379.4h0M377.0 376.4h0M390.5 384.6h0M379.3 378.1h0M381.8 374.6h0M380.3 377.9h0M386.3 380.4h0M389.9 379.9h0M385.3 380.2h0M380.8 380.2h0M386.6 384.7h0M378.7 378.8h0M380.5 377.1h0M392.1 378.6h0M388.2 381.8h0M385.4 383.2h0M385.5 382.4h0M380.0 378.8h0M384.4 374.1h0M387.6 376.1h0M389.3 378.8h0M390.1 377.7h0M393.4 381.8h0M380.6 375.9h0M391.1 378.6h0M380.8 376.7h0M385.5 374.1h0M383.8 380.2h0M385.0 374.7h0M388.3 375.9h0M376.3 373.8h0M388.1 378.0h0M389.6 382.9h0M389.6 385.6h0M381.0 380.3h0M388.8 381.4h0M381.2 379.6h0M385.3 381.7h0M385.0 376.7h0M376.1 375.5h0M386.1 376.1h0M387.1 379.8h0M386.5 378.3h0M379.5 373.7h0M382.3 374.3h0M378.0 377.6h0M385.6 377.1h0M382.9 382.3h0M376.9 378.6h0M388.5 381.6h0M389.0 383.2h0M388.1 375.4h0M387.3 376.6h0M380.2 381.3h0M392.8 375.7h0M378.6 372.7h0M394.1 376.6h0M386.4 381.4h0M380.6 382.9h0M378.2 374.2h0M385.2 380.6h0M390.9 377.0h0M380.9 377.9h0M394.1 378.9h0M389.9 377.4h0M377.5 376.7h0M385.9 379.3h0M380.8 375.2h0M392.3 375.6h0M382.3 373.4h0M384.0 383.3h0M383.3 375.5h0M382.6 378.1h0M383.0 374.4h0M385.2 384.5h0M387.0 376.7h0M393.1 381.5h0M387.7 379.0h0M389.2 375.1h0M384.9 378.0h0M383.3 378.7h0M384.5 373.5h0M386.1 377.0h0M391.2 380.2h0M384.1 378.6h0M386.2 383.2h0M385.3 372.6h0M375.5 377.6h0M387.8 377.3h0M378.0 379.6h0M383.5 373.5h0M389.4 380.6h0M381.9 375.6h0M380.6 375.9h0M394.7 380.5h0M390.2 377.7h0M391.0 385.4h0M377.7 373.9h0M389.8 380.7h0M386.4 380.0h0M382.9 377.6h0M381.4 377.5h0M387.3 385.7h0M393.8 381.0h0M382.5 376.2h0M389.9 381.8h0M384.4 381.1h0M389.4 385.0h0M379.2 382.1h0M376.6 380.8h0M383.3 384.3h0M384.3 379.0h0M382.0 377.2h0M386.6 376.6h0M391.9 382.3h0M378.2 373.6h0M384.9 377.4h0M385.1 378.2h0M383.2 380.5h0M389.2 377.9h0M381.2 378.9h0M385.2 376.8h0M374.5 376.5h0M381.5 379.5h0M381.1 377.1h0M384.8 379.8h0M384.2 378.8h0M379.5 374.3h0M380.6 375.3h0M377.1 374.7h0M388.7 377.2h0M388.1 382.9h0M389.8 381.2h0M389.7 377.9h0M387.5 384.7h0M385.7 375.0h0M390.3 375.4h0M385.2 378.5h0M388.0 381.0h0M380.9 376.4h0M388.5 378.5h0M388.6 385.5h0M384.3 378.2h0M389.0 379.3h0M386.8 377.6h0M376.1 379.2h0M386.3 382.2h0M384.5 378.4h0M392.3 380.3h0M382.1 377.5h0M380.2 382.2h0" stroke="#2a82f8" stroke-width="1.4" stroke-linecap="round" fill="none"/>
<path d="M373.6 372.4h0M368.9 377.0h0M373.5 377.5h0M372.6 376.2h0M372.5 372.4h0M374.8 377.4h0M371.7 379.0h0M374.0 373.1h0M374.9 371.8h0M372.3 374.2h0M374.7 379.6h0M373.5 374.7h0M373.6 374.0h0M374.9 374.5h0M372.7 373.3h0M371.2 375.1h0M371.5 374.1h0M372.0 375.5h0M375.9 374.7h0M371.6 376.9h0M373.1 372.0h0M371.8 374.9h0M370.6 377.6h0M373.4 373.6h0M375.5 376.3h0M372.6 376.0h0M374.7 377.2h0M370.7 376.2h0M372.3 374.3h0M371.7 378.4h0M371.0 377.8h0M375.4 374.2h0M372.8 378.4h0M372.1 376.2h0M374.4 374.1h0M374.8 376.6h0M372.7 372.5h0M371.6 374.6h0M371.7 373.3h0M368.7 376.1h0M375.6 376.3h0M374.0 376.0h0M372.7 371.4h0M373.9 376.6h0M372.1 374.4h0M372.7 372.8h0M373.5 371.6h0M372.3 380.2h0M376.4 372.8h0M374.7 376.9h0M375.0 376.5h0M371.9 378.6h0M375.3 371.8h0M372.7 374.3h0M369.9 375.5h0M372.2 375.8h0M370.2 372.8h0M368.2 376.2h0M374.8 373.1h0M371.0 378.9h0M374.8 371.6h0M371.4 374.1h0M372.1 371.4h0M372.0 372.1h0M374.4 375.7h0M371.3 374.3h0M371.3 377.8h0M373.8 377.0h0M372.3 373.9h0M376.4 375.2h0" stroke="#858585" stroke-width="1.15" stroke-linecap="round" fill="none"/>
<text x="371.0" y="341.1" font-size="10" fill="#111" text-anchor="middle" stroke="#111" stroke-width="0.12">SPL</text>
<text x="326.6" y="352.7" font-size="8" fill="#222" text-anchor="middle" stroke="#222" stroke-width="0.12">0.8</text>
<text x="328.9" y="369.2" font-size="8" fill="#222" text-anchor="middle" stroke="#222" stroke-width="0.12">0.4</text>
<text x="330.9" y="382.9" font-size="8" fill="#222" text-anchor="middle" stroke="#222" stroke-width="0.12">0.0</text>
<text x="335.0" y="396.1" font-size="8" fill="#222" text-anchor="middle" stroke="#222" stroke-width="0.12">0.0</text>
<text x="343.5" y="404.9" font-size="8" fill="#222" text-anchor="middle" stroke="#222" stroke-width="0.12">0.4</text>
<text x="353.3" y="414.8" font-size="8" fill="#222" text-anchor="middle" stroke="#222" stroke-width="0.12">0.8</text>
<text x="402.8" y="400.1" font-size="8" fill="#222" text-anchor="middle" stroke="#222" stroke-width="0.12">−0.2</text>
<text x="391.2" y="409.7" font-size="8" fill="#222" text-anchor="middle" stroke="#222" stroke-width="0.12">0.2</text>
<text x="373.2" y="423.4" font-size="8" fill="#222" text-anchor="middle" stroke="#222" stroke-width="0.12">0.6</text>
<text x="313.5" y="366.6" font-size="8" fill="#222" text-anchor="middle" textLength="34" lengthAdjust="spacingAndGlyphs" transform="rotate(80 313.5 366.6)" stroke="#222" stroke-width="0.12">GMP score</text>
<text x="336.0" y="412.5" font-size="8" fill="#222" text-anchor="middle" textLength="33" lengthAdjust="spacingAndGlyphs" transform="rotate(48 336.0 412.5)" stroke="#222" stroke-width="0.12">MLP score</text>
<text x="399.0" y="418.5" font-size="8" fill="#222" text-anchor="middle" textLength="33" lengthAdjust="spacingAndGlyphs" transform="rotate(-36 399.0 418.5)" stroke="#222" stroke-width="0.12">MEP score</text>
<path d="M437.4,345.4L472.7,344.0L472.7,381.2L442.2,386.9ZM472.7,344.0L505.0,346.5L499.7,389.2L472.7,381.2ZM442.2,386.9L472.7,381.2L499.7,389.2L466.9,412.7Z" fill="#fdfdfd" stroke="none"/>
<path d="M448.3,345.0L451.7,385.1M457.7,344.6L459.7,383.6M465.6,344.3L466.6,382.3M480.8,344.6L479.4,383.2M448.4,393.3L479.4,383.2M449.8,385.5L475.1,406.8M488.9,345.2L486.2,385.2M454.5,399.8L486.2,385.2M457.4,384.0L483.3,400.9M496.9,345.9L492.9,387.2M460.7,406.2L492.9,387.2M465.1,382.6L491.5,395.1M437.9,349.5L472.7,347.7L504.5,350.8M438.8,357.8L472.7,355.2L503.4,359.3M439.8,366.1L472.7,362.6L502.4,367.9M440.7,373.6L472.7,369.3L501.4,375.5M441.5,380.9L472.7,375.8L500.5,383.0" stroke="#d8d8d8" stroke-width="0.6" fill="none"/>
<path d="M442.2,386.9L437.4,345.4L472.7,344.0L505.0,346.5L499.7,389.2M472.7,344.0L472.7,381.2M442.2,386.9L472.7,381.2L499.7,389.2" stroke="#333" stroke-width="0.8" fill="none"/>
<path d="M442.2,386.9L466.9,412.7L499.7,389.2" stroke="#222" stroke-width="1.1" fill="none"/>
<path d="M437.9,349.5L435.9,349.5M439.8,366.1L437.8,366.1M441.5,380.9L439.5,380.9M443.4,388.2L441.8,389.4M452.1,397.2L450.5,398.4M460.7,406.2L459.1,407.4M475.1,406.8L476.7,408.0M486.6,398.6L488.2,399.8M498.1,390.4L499.7,391.6" stroke="#333" stroke-width="0.7" fill="none"/>
<path d="M471.3 367.8h0M470.3 367.4h0M469.4 367.7h0M471.6 363.0h0M473.1 370.9h0M469.7 363.7h0M470.0 370.2h0M472.3 354.1h0M474.3 365.7h0M471.1 362.3h0M473.0 356.6h0M471.2 358.6h0M475.1 369.5h0M469.9 364.7h0M472.4 362.8h0M469.5 371.8h0M471.7 355.8h0M473.9 366.3h0M471.4 366.9h0M474.1 367.4h0M472.5 353.8h0M474.0 360.9h0M471.5 360.0h0M472.7 364.3h0M469.0 367.9h0M469.7 369.9h0M470.5 371.2h0M470.7 367.4h0M472.2 362.1h0M472.4 355.4h0M472.4 355.1h0M471.8 353.9h0M474.0 362.5h0M472.5 352.5h0M471.2 362.3h0M471.7 359.8h0M471.6 356.2h0M471.2 365.3h0M471.7 372.2h0M476.1 371.4h0M472.1 358.6h0M472.5 353.8h0M474.5 365.9h0M472.2 353.4h0M472.4 367.6h0M473.7 368.5h0M473.0 363.5h0M473.9 364.0h0M470.0 362.8h0M472.2 357.7h0M472.0 358.1h0M474.5 371.8h0M473.4 364.4h0M471.9 354.3h0M473.6 360.8h0M473.6 361.3h0M469.4 366.3h0M475.2 372.0h0M472.9 362.1h0M470.3 365.9h0M474.5 364.5h0M472.5 366.5h0M471.0 358.5h0M471.5 362.5h0M470.0 370.7h0M472.7 369.2h0M470.3 363.2h0M470.7 366.7h0M472.8 351.8h0M471.0 356.7h0M473.0 368.8h0M470.2 369.6h0M471.0 363.8h0M471.4 368.5h0M475.0 372.0h0M471.6 368.5h0M473.1 357.8h0M472.1 359.8h0M470.6 371.0h0M472.5 352.1h0M472.5 366.7h0M473.7 355.2h0M474.3 370.9h0M474.1 361.0h0M471.6 370.4h0M471.3 363.7h0M469.9 366.0h0M474.0 360.2h0M468.8 371.6h0M473.9 367.0h0M471.2 368.6h0M471.4 360.3h0M470.5 359.1h0M473.3 371.8h0M475.7 370.8h0M471.1 363.4h0M471.8 360.4h0M471.8 351.8h0M469.8 368.7h0M471.8 359.3h0M472.9 354.3h0M474.7 368.4h0M474.9 371.6h0M471.1 358.1h0M471.2 359.7h0M473.5 357.1h0M473.4 355.6h0M472.1 369.8h0M474.8 364.8h0M470.4 367.1h0M470.1 365.0h0M473.9 356.4h0M471.8 365.3h0M473.7 365.1h0M474.4 359.6h0M469.8 368.1h0M472.6 363.9h0M472.6 352.7h0M472.3 367.4h0M470.7 362.1h0M472.3 369.5h0M471.5 371.7h0M471.6 361.3h0M473.5 370.0h0M470.4 366.9h0M473.3 360.0h0M472.8 363.4h0M472.6 361.5h0M472.4 357.0h0M474.3 371.1h0M470.9 364.3h0M470.9 355.5h0M472.1 352.7h0M472.4 360.4h0M473.6 371.0h0M473.6 355.5h0M475.2 369.3h0M473.4 369.1h0M471.6 366.9h0M471.4 370.9h0M474.7 370.2h0M473.8 362.9h0M473.6 363.5h0M473.5 366.8h0M473.3 370.7h0M472.1 353.9h0M471.7 353.5h0M471.1 361.0h0M471.7 365.8h0M472.2 360.9h0M473.7 356.2h0M471.6 354.5h0M472.1 358.3h0M474.6 362.9h0M472.1 369.1h0M473.1 354.6h0M469.9 364.9h0M470.5 364.8h0M471.5 361.0h0M473.5 366.7h0M473.4 369.0h0M472.4 353.0h0M470.3 360.3h0M474.7 369.7h0M471.6 352.8h0M471.1 361.1h0M473.3 356.6h0M471.4 363.0h0M474.9 369.8h0M471.8 351.9h0M471.8 364.6h0M472.0 365.4h0M474.7 368.0h0M473.6 364.7h0M470.1 370.5h0M472.1 357.0h0M472.7 366.1h0M474.7 364.8h0M472.1 356.4h0M472.4 354.8h0M469.7 368.8h0M475.1 364.8h0M469.5 366.1h0M475.3 366.8h0M470.6 359.5h0M473.5 365.4h0M473.2 353.0h0M471.2 366.6h0M470.9 371.1h0M473.6 372.0h0M472.3 351.4h0M474.6 359.4h0M474.0 358.0h0M474.5 366.5h0M473.3 368.6h0M472.4 357.5h0M468.4 371.1h0M474.7 365.9h0M472.4 361.8h0M470.4 362.8h0M475.7 370.8h0M469.6 367.8h0M474.9 362.3h0M472.6 361.4h0M471.7 363.0h0M473.1 367.5h0M471.1 360.2h0M469.4 369.7h0M473.5 361.3h0M472.7 362.1h0M473.7 364.7h0M472.6 370.7h0M470.8 363.7h0M471.1 371.4h0M473.2 367.2h0M471.3 358.2h0M474.4 368.6h0M470.8 363.3h0M474.0 369.5h0M473.1 360.5h0M472.2 363.4h0M471.6 365.5h0M473.7 360.7h0M469.9 363.3h0M470.8 358.9h0M470.3 363.4h0M473.2 355.9h0M473.1 362.7h0M472.8 359.4h0M471.8 363.1h0M471.2 360.1h0M471.4 361.9h0M473.8 357.0h0M473.0 365.0h0M470.8 367.9h0M471.0 367.8h0M471.9 368.2h0M475.8 371.5h0M473.3 354.5h0M470.7 370.8h0M471.9 362.0h0M469.3 370.2h0M474.2 370.9h0M474.0 357.3h0M469.7 371.7h0M473.7 356.5h0M469.1 372.6h0M469.9 371.2h0M473.2 371.3h0M469.5 369.5h0M469.4 370.3h0M472.7 369.9h0M469.8 371.5h0M471.8 367.2h0M471.7 354.4h0M472.3 357.7h0M471.9 369.0h0M473.3 362.7h0M472.6 359.7h0M470.6 362.8h0" stroke="#0e5e10" stroke-width="1.3" stroke-linecap="round" fill="none"/>
<path d="M473.4 371.5h0M473.4 370.4h0M475.6 370.3h0M475.7 371.0h0M473.5 370.6h0M476.7 372.1h0M472.9 369.3h0M473.8 367.6h0M473.5 369.5h0M473.9 370.0h0M472.4 371.5h0M477.3 370.4h0M475.9 369.9h0M475.5 368.6h0M472.4 368.6h0M475.0 371.3h0M473.9 368.2h0M473.6 371.1h0M478.1 367.7h0M475.3 372.4h0M477.1 372.9h0M476.7 368.9h0M477.0 368.8h0M475.0 370.0h0M473.5 372.3h0" stroke="#1fc21f" stroke-width="1.0" stroke-linecap="round" fill="none"/>
<path d="M458.4 377.4h0M460.1 378.9h0M463.6 376.8h0M464.7 374.9h0M460.3 380.8h0M456.2 382.0h0M462.8 380.9h0M458.4 380.2h0M468.9 375.7h0M451.9 382.7h0M463.9 375.8h0M463.6 380.0h0M450.2 382.2h0M459.1 382.9h0M463.5 381.3h0M459.3 374.9h0M461.4 376.0h0M459.6 373.8h0M463.0 373.8h0M459.2 382.5h0M457.6 377.4h0M467.9 373.3h0M465.5 375.6h0M449.8 384.3h0M462.1 377.3h0M457.1 382.9h0M467.8 377.5h0M455.4 382.9h0M464.9 378.8h0M460.0 380.0h0M462.5 378.1h0M464.0 376.8h0M458.7 383.7h0M464.3 374.0h0M462.3 374.8h0M461.0 376.1h0M457.4 382.0h0M456.2 383.8h0M468.8 373.1h0M456.6 382.4h0M456.7 375.9h0M464.6 377.8h0M459.3 381.6h0M457.5 381.9h0M455.4 381.9h0M462.4 378.0h0M462.7 379.3h0M461.4 378.3h0M460.5 375.6h0M463.3 374.8h0M450.2 381.1h0M458.2 375.4h0M458.7 381.4h0M459.3 378.6h0M451.5 383.4h0M452.9 380.2h0M454.5 378.7h0M455.4 384.8h0M463.8 375.8h0M460.4 379.0h0M463.5 378.4h0M458.5 379.8h0M464.6 373.6h0M459.5 382.6h0M459.7 376.3h0M460.4 378.2h0M466.2 378.1h0M462.6 377.8h0M464.6 375.7h0M457.3 382.2h0M460.5 376.3h0M461.7 377.5h0M462.9 377.8h0M463.5 375.9h0M461.5 381.3h0M467.5 375.3h0M462.1 374.2h0M457.4 380.0h0M466.4 380.3h0M460.9 378.3h0M467.8 379.0h0M460.7 376.7h0M455.4 384.6h0M453.9 380.6h0M462.6 375.5h0M464.1 376.1h0M458.4 383.1h0M460.3 377.7h0M467.1 371.7h0M453.8 382.7h0M457.1 374.3h0M458.0 379.3h0M455.5 382.3h0M454.2 385.6h0M453.1 377.5h0M458.7 377.0h0M455.4 378.8h0M462.3 377.1h0M462.6 378.3h0M462.5 377.7h0M454.3 384.6h0M457.9 380.4h0M461.0 378.9h0M455.4 379.7h0M454.4 381.2h0M462.6 374.4h0M464.0 382.5h0M452.1 383.7h0M461.4 377.4h0M457.9 382.7h0M459.7 380.0h0M455.6 385.7h0M461.5 376.3h0M467.4 376.2h0M461.1 378.0h0M454.9 382.7h0M459.3 373.2h0M457.9 373.9h0M468.7 374.4h0M461.6 375.5h0M460.4 378.2h0M454.8 380.8h0M456.4 377.0h0M464.1 380.9h0M461.9 379.1h0M456.1 377.7h0M460.7 374.8h0M464.0 378.9h0M466.5 375.3h0M459.7 378.1h0M460.1 378.7h0M464.3 375.9h0M453.7 383.1h0M468.3 374.9h0M466.9 377.3h0M453.3 386.1h0M456.0 376.2h0M461.2 374.8h0M459.5 380.3h0M453.0 385.7h0M464.4 376.8h0M465.0 375.8h0M467.8 373.0h0M462.2 380.1h0M460.4 373.5h0M460.0 382.9h0M455.0 376.9h0M461.0 375.1h0M466.1 373.3h0M453.0 380.7h0M461.7 378.2h0M463.8 374.0h0M457.8 381.5h0M463.9 379.6h0M451.9 384.2h0M463.0 378.9h0M458.6 380.6h0M464.9 373.1h0M461.0 379.3h0M460.9 378.9h0M452.7 382.1h0M463.7 373.1h0M458.7 379.6h0M463.9 374.4h0M467.6 375.5h0M461.0 377.6h0M454.5 378.0h0M464.0 376.5h0M465.5 378.3h0M455.2 382.1h0M465.4 376.1h0M462.2 381.8h0M455.3 385.5h0M457.6 381.5h0M459.0 376.6h0M453.4 386.2h0M458.1 381.3h0M457.6 381.0h0M458.7 379.4h0M453.6 380.7h0M461.5 376.9h0M460.6 381.2h0M458.3 376.4h0M464.9 376.7h0M462.6 377.9h0M457.5 384.3h0M453.3 383.1h0M460.6 376.6h0M463.1 378.9h0M457.8 382.3h0M461.3 380.3h0M454.6 380.0h0M456.6 379.2h0M458.5 381.6h0M460.8 376.0h0M459.5 380.8h0M455.1 380.6h0M456.0 378.0h0M453.1 380.3h0M463.0 375.9h0M461.1 376.4h0M450.9 382.3h0M464.7 376.5h0M457.4 381.4h0M459.0 377.7h0M456.9 381.7h0M455.2 376.4h0M459.7 374.9h0M459.7 382.4h0M461.1 377.2h0M452.1 385.3h0M458.4 379.3h0M455.6 382.6h0M462.2 383.3h0M469.5 375.0h0M460.0 382.7h0M462.3 372.1h0M459.2 377.2h0M455.0 380.7h0M456.0 383.1h0M462.7 372.3h0M452.0 385.7h0M460.0 376.2h0M463.8 380.5h0M469.0 375.6h0M457.7 383.1h0M462.0 376.0h0M457.9 379.5h0M459.3 376.5h0M464.8 377.7h0M464.8 374.3h0M458.0 379.5h0M467.6 374.2h0M460.9 377.0h0M463.4 379.0h0M459.6 377.9h0M457.1 383.1h0M453.1 379.7h0M463.8 379.9h0M453.1 382.4h0M457.1 381.3h0M458.3 380.7h0M459.3 381.8h0M465.3 374.7h0M459.4 378.4h0M458.0 385.6h0M464.9 379.8h0M453.4 382.3h0M459.6 382.1h0M464.4 375.9h0M461.7 377.7h0M459.7 383.7h0M460.3 378.2h0M460.4 379.3h0M464.2 380.2h0M460.7 380.1h0M457.5 378.5h0M459.8 379.4h0M460.2 378.9h0M457.3 383.3h0M456.9 377.2h0M465.4 377.5h0M454.5 377.8h0M465.8 376.1h0M458.1 377.8h0M455.7 386.1h0M461.2 375.8h0M463.8 377.7h0M458.4 374.1h0M463.9 379.0h0M454.8 383.8h0M459.1 380.2h0M455.4 384.2h0M460.0 378.7h0M460.2 375.4h0M465.1 381.9h0M463.6 376.8h0M455.4 382.3h0M459.3 378.3h0M457.1 380.3h0M463.7 377.1h0M462.5 378.5h0M463.8 376.3h0M461.5 381.4h0M465.3 381.1h0M452.2 384.0h0M456.6 381.8h0M462.5 378.9h0M455.8 383.8h0M465.8 376.2h0M462.9 382.4h0M464.6 374.8h0M467.2 376.4h0M454.0 380.4h0M461.5 381.2h0M459.1 378.1h0M457.5 378.3h0M459.0 375.9h0M458.6 377.5h0M452.8 380.2h0" stroke="#f42a1c" stroke-width="1.35" stroke-linecap="round" fill="none"/>
<path d="M463.3 379.1h0M468.2 377.9h0M464.6 378.2h0M469.2 374.2h0M466.7 374.9h0M465.4 377.9h0M461.3 380.7h0M467.2 379.5h0M462.8 382.6h0M467.4 376.6h0M469.3 374.5h0M470.8 379.0h0M465.8 378.7h0M464.8 379.3h0M466.8 376.2h0M466.3 378.8h0M462.3 380.3h0M468.2 381.1h0M467.0 376.5h0M466.4 379.5h0M463.5 380.7h0M464.7 381.5h0M468.1 374.6h0M469.3 378.3h0M461.9 379.4h0M466.8 380.2h0M465.3 381.6h0M468.9 376.0h0M465.4 379.0h0M467.9 378.4h0M461.0 379.3h0M468.4 376.2h0M466.6 374.6h0M466.6 379.1h0M461.3 380.9h0M463.6 382.1h0M465.2 377.5h0M464.0 382.0h0M465.6 376.6h0M463.2 377.3h0M468.9 375.1h0M470.7 374.3h0M462.9 379.1h0M466.4 379.8h0M466.2 374.0h0M461.3 380.1h0M469.0 376.8h0M461.6 379.0h0M462.4 381.7h0M467.8 375.0h0M462.7 380.8h0M465.0 375.8h0M470.2 379.5h0M463.2 379.0h0M466.4 379.2h0M461.6 378.5h0M469.8 377.7h0M466.4 376.0h0M462.8 377.2h0M469.8 378.7h0M469.7 374.4h0M469.0 374.7h0M465.3 376.8h0M467.5 377.6h0M468.4 379.3h0M467.2 373.8h0M465.5 377.2h0M461.8 378.4h0M461.6 378.4h0M465.0 373.6h0M460.8 381.5h0M467.5 379.7h0M469.6 374.2h0M465.7 380.8h0M460.6 377.4h0M465.3 378.5h0M465.1 380.2h0M464.5 380.4h0M468.6 376.9h0M462.9 378.7h0M461.2 376.6h0M464.3 382.3h0M466.0 380.8h0M465.7 376.7h0M461.9 379.3h0M465.0 376.4h0M462.3 376.9h0M465.7 374.7h0M464.0 380.3h0M461.5 376.0h0M469.6 376.6h0M464.1 376.6h0M466.7 376.7h0M464.4 379.5h0M460.7 376.7h0M460.3 379.4h0M465.7 380.7h0M467.7 381.7h0M466.7 374.4h0M467.5 373.9h0M465.6 378.7h0M466.8 378.9h0M462.3 376.6h0M461.7 378.9h0M460.8 381.6h0M466.6 376.2h0M469.8 376.0h0M468.6 378.6h0M464.5 375.8h0M467.2 374.0h0M465.5 374.3h0M461.9 380.2h0M462.6 380.8h0M462.5 378.8h0M466.7 378.7h0M471.1 376.0h0M461.3 381.2h0M460.8 378.5h0M465.7 377.8h0M466.3 379.9h0" stroke="#ffa02a" stroke-width="1.15" stroke-linecap="round" fill="none"/>
<path d="M458.3 379.7h0M461.7 375.6h0M457.6 378.6h0M453.0 379.7h0M461.2 377.6h0M453.6 383.8h0M463.5 378.7h0M464.7 375.7h0M461.4 376.7h0M454.5 381.0h0M461.4 378.0h0M455.4 378.6h0M455.9 379.2h0M458.4 380.5h0M461.7 375.7h0" stroke="#222" stroke-width="0.95" stroke-linecap="round" fill="none"/>
<path d="M489.6 379.4h0M483.1 373.4h0M492.9 379.2h0M489.2 381.7h0M483.2 377.0h0M470.6 377.9h0M476.9 381.4h0M490.7 381.6h0M488.9 377.4h0M487.4 379.5h0M492.7 380.7h0M491.5 376.1h0M482.1 380.2h0M488.9 376.6h0M477.4 375.8h0M479.7 375.9h0M485.1 374.1h0M486.1 375.9h0M479.4 375.6h0M488.0 380.6h0M478.6 379.3h0M475.4 378.1h0M483.8 379.2h0M473.4 378.2h0M486.2 381.0h0M478.6 381.8h0M483.3 385.3h0M477.2 375.1h0M478.4 377.4h0M485.0 378.1h0M475.8 376.1h0M486.7 375.9h0M473.0 375.0h0M484.9 377.0h0M480.8 376.0h0M486.1 377.4h0M476.9 375.2h0M479.5 376.5h0M480.0 381.1h0M476.5 373.2h0M481.3 373.5h0M485.3 377.7h0M485.1 381.3h0M488.2 379.1h0M486.5 377.5h0M483.2 382.1h0M494.1 382.8h0M479.7 376.1h0M474.0 379.9h0M491.6 377.9h0M479.7 377.6h0M486.7 377.1h0M486.3 381.0h0M492.6 378.4h0M492.7 379.3h0M481.8 383.5h0M480.1 374.0h0M487.6 378.7h0M477.3 380.6h0M482.7 375.8h0M484.4 374.0h0M491.0 376.8h0M481.0 378.4h0M484.1 379.9h0M473.0 375.2h0M481.9 377.0h0M484.4 382.3h0M473.2 381.6h0M479.4 376.8h0M483.9 378.5h0M487.8 375.9h0M484.2 374.7h0M481.1 377.9h0M481.2 380.3h0M486.2 381.2h0M487.6 381.1h0M476.1 379.7h0M479.4 374.1h0M485.2 378.5h0M482.3 380.4h0M473.9 376.1h0M478.4 377.6h0M491.0 377.0h0M480.2 376.8h0M486.1 373.6h0M487.5 377.5h0M480.9 376.0h0M480.1 375.6h0M474.6 374.0h0M483.4 379.7h0M486.5 374.8h0M488.3 378.7h0M487.0 378.9h0M472.3 379.9h0M481.5 376.3h0M473.5 375.3h0M490.0 384.9h0M487.8 377.7h0M483.4 379.8h0M478.8 376.6h0M484.8 375.7h0M481.6 374.4h0M478.6 376.0h0M484.8 381.3h0M477.7 378.1h0M482.8 373.2h0M490.6 382.3h0M485.7 380.7h0M480.8 377.8h0M472.3 376.8h0M493.9 381.5h0M487.9 383.1h0M475.5 376.1h0M487.1 379.4h0M482.5 377.6h0M485.2 377.4h0M477.2 379.7h0M490.6 376.0h0M489.0 378.8h0M491.5 384.4h0M476.9 376.5h0M484.8 374.7h0M472.5 375.1h0M486.6 384.9h0M485.7 380.2h0M478.7 383.1h0M472.7 378.7h0M489.0 385.4h0M477.7 374.1h0M479.4 381.1h0M485.8 379.3h0M489.0 380.0h0M480.1 384.7h0M479.8 379.3h0M477.3 379.5h0M478.0 380.5h0M481.1 378.3h0M489.5 378.8h0M479.8 381.2h0M488.2 381.5h0M482.4 383.0h0M486.2 383.9h0M475.8 379.3h0M478.4 371.9h0M493.8 378.7h0M482.7 376.2h0M491.7 378.6h0M478.9 376.6h0M479.8 375.8h0M477.7 372.6h0M491.3 377.3h0M486.7 385.1h0M489.8 374.9h0M487.2 378.4h0M490.4 374.8h0M487.9 373.5h0M473.4 381.2h0M483.8 376.6h0M480.2 375.6h0M483.9 374.6h0M480.8 374.5h0M491.2 384.7h0M480.6 378.0h0M478.7 378.8h0M479.5 378.2h0M486.4 381.4h0M490.2 380.5h0M487.8 373.9h0M488.8 380.1h0M474.2 374.6h0M484.2 384.6h0M478.7 379.3h0M473.9 379.9h0M482.4 375.7h0M489.4 380.5h0M490.2 378.1h0M480.8 374.1h0M479.9 377.0h0M484.5 376.3h0M492.7 384.3h0M486.1 380.1h0M480.4 376.3h0M485.8 377.1h0M478.3 379.5h0M480.9 381.0h0M487.7 377.8h0M484.3 379.4h0M483.9 374.0h0M478.0 377.7h0M488.0 379.9h0M481.4 375.0h0M477.3 377.6h0M482.7 379.1h0M483.4 381.9h0M489.3 383.4h0M481.6 382.4h0M485.1 382.3h0M476.5 381.0h0M481.1 377.8h0M482.4 377.0h0M490.0 378.7h0M477.2 380.4h0M474.8 376.9h0M477.1 377.1h0M472.3 374.9h0M470.9 377.1h0M484.5 375.3h0M473.3 373.5h0M475.3 382.7h0M488.2 377.1h0M487.6 380.9h0M478.6 372.9h0M477.7 375.4h0M476.2 374.2h0M474.7 381.2h0M476.6 379.4h0M474.6 376.7h0M491.0 383.7h0M473.8 379.7h0M482.8 377.3h0M487.6 378.1h0M478.6 372.4h0M485.7 380.3h0M491.8 378.7h0M473.5 377.7h0M488.8 378.9h0M493.1 381.8h0M485.0 377.6h0M474.2 378.8h0M476.0 378.1h0M479.6 379.7h0M484.9 377.8h0M484.9 377.8h0M474.9 382.3h0M480.8 376.7h0M489.5 383.1h0M490.2 377.7h0M479.9 380.8h0M478.9 373.9h0M476.3 375.0h0M473.1 374.3h0M478.4 381.1h0M475.4 376.4h0M480.0 374.9h0M474.9 376.6h0M486.9 379.6h0M472.1 380.6h0M483.0 378.3h0M472.8 375.1h0M491.0 379.3h0M476.9 373.8h0M481.9 376.0h0M487.4 376.6h0M490.4 375.7h0M475.6 378.0h0M486.5 380.0h0M490.3 382.9h0M482.7 378.7h0M491.9 380.6h0M488.4 382.7h0M478.0 379.8h0M481.1 376.7h0M486.0 380.0h0M482.4 376.1h0M480.9 378.8h0M481.4 383.8h0M484.5 380.5h0M476.1 382.5h0M490.3 380.9h0M481.1 380.0h0M489.6 383.9h0M477.6 380.9h0M483.1 376.2h0M479.9 381.0h0M479.1 378.4h0M480.8 373.4h0M491.9 377.0h0M480.3 378.4h0M480.6 381.1h0M476.2 372.4h0M484.6 378.7h0M474.2 379.7h0M485.5 373.2h0M483.8 380.9h0M488.0 377.1h0M481.4 378.0h0M486.7 376.7h0M482.1 377.2h0M482.3 375.6h0M484.4 382.7h0M491.9 380.3h0M485.1 379.4h0M486.0 375.4h0M488.6 381.0h0M492.5 376.8h0M483.2 377.7h0M477.0 379.5h0M482.9 373.8h0M478.7 381.3h0M486.9 382.9h0M477.9 371.9h0M477.1 378.7h0M487.4 380.6h0M481.3 374.1h0M486.0 379.3h0M484.1 374.2h0M477.4 377.1h0M479.8 379.3h0M492.3 382.2h0M486.0 378.1h0M473.0 378.0h0M483.3 376.3h0M476.8 380.4h0M486.8 379.3h0M489.4 374.4h0M481.0 383.6h0M480.2 379.2h0M480.7 379.7h0M477.0 372.1h0M488.5 381.8h0M490.0 376.8h0M484.4 378.5h0M484.7 385.4h0M478.0 384.0h0M475.0 379.4h0M481.3 374.1h0M489.1 377.6h0M485.2 382.6h0M478.6 375.3h0M482.0 378.2h0M478.2 378.4h0M481.4 378.1h0M488.7 382.1h0M479.9 381.1h0M489.1 382.2h0M477.6 383.4h0M493.6 377.9h0M488.1 382.8h0M485.7 382.1h0M481.4 377.6h0M487.8 380.2h0M488.1 385.1h0M483.3 380.7h0M493.1 377.6h0M472.4 378.5h0M493.6 379.7h0M486.0 377.8h0M482.7 378.3h0M479.5 373.1h0M487.0 379.3h0M482.0 378.8h0M482.9 377.6h0M479.8 378.5h0M479.2 376.5h0M486.8 382.2h0M488.7 384.3h0M486.1 380.4h0M485.8 379.0h0M472.1 375.4h0M475.9 376.9h0M484.8 378.9h0M481.8 378.0h0M487.5 376.5h0M479.7 382.5h0M475.8 377.1h0M484.5 382.0h0M481.3 382.5h0M473.5 378.9h0M479.0 376.2h0M491.9 380.6h0M487.0 377.8h0M479.0 381.8h0M478.7 375.9h0M487.0 378.5h0M472.5 375.9h0M471.6 379.7h0M479.8 376.0h0M474.6 379.3h0M485.6 378.2h0M479.5 377.7h0M477.2 380.4h0M482.2 380.8h0M481.9 382.5h0M489.4 380.7h0M477.6 381.5h0M478.6 375.5h0M481.0 379.2h0M479.1 377.0h0M483.3 383.2h0M478.6 374.5h0M473.7 375.9h0M483.4 381.2h0M480.7 373.6h0M473.3 380.5h0M486.7 382.6h0M489.1 380.4h0M480.1 374.2h0M483.2 377.9h0M475.5 374.9h0M473.3 378.8h0M482.5 383.9h0M483.4 378.0h0M487.6 381.0h0M474.4 381.4h0M494.9 379.8h0M485.9 382.5h0M482.0 376.5h0M474.1 373.6h0M473.8 374.6h0M479.8 376.6h0M479.0 384.7h0M479.1 380.6h0M481.2 379.3h0M475.2 373.8h0M483.7 373.7h0M485.5 380.2h0M489.7 376.8h0M483.8 385.3h0M482.2 378.2h0M493.3 382.4h0M493.0 377.4h0M481.3 380.5h0M485.8 383.0h0M489.1 379.0h0M480.7 377.1h0M487.1 382.9h0M477.4 379.4h0M480.9 376.1h0M482.6 382.4h0M481.0 375.0h0M477.3 376.1h0M482.4 378.9h0M480.9 377.7h0M486.1 374.1h0M476.7 383.0h0M479.6 382.3h0M481.0 376.4h0M474.0 378.4h0M477.6 383.2h0M488.5 382.4h0M476.4 378.6h0M477.0 377.2h0M486.9 384.1h0M482.2 382.3h0M481.7 382.0h0M482.7 381.6h0M482.1 375.9h0M486.3 375.7h0M473.9 374.7h0M484.2 377.5h0M484.7 375.5h0M489.7 381.1h0M482.3 375.3h0M482.0 377.1h0M482.2 373.4h0M487.1 380.0h0M474.0 374.1h0M485.7 380.7h0M483.9 378.6h0M485.9 384.1h0M474.2 376.9h0M475.8 372.2h0M475.7 380.8h0M484.6 378.2h0M482.0 380.4h0M479.5 377.8h0M477.2 375.9h0M483.3 379.2h0M485.1 384.0h0M487.1 382.1h0M477.0 381.2h0M490.0 383.5h0M483.3 378.3h0M492.9 379.1h0M487.6 378.9h0M487.1 384.6h0M486.7 383.8h0M480.6 380.4h0M484.1 380.5h0M478.5 379.5h0M471.9 375.5h0M492.5 378.5h0M480.2 381.0h0M477.2 378.9h0M476.0 376.0h0M491.8 376.0h0M487.4 378.0h0M480.7 376.3h0M479.8 373.6h0M487.6 375.6h0M481.3 375.9h0M483.6 380.7h0M473.4 381.6h0M480.7 381.6h0M485.5 378.0h0M491.5 378.9h0M483.7 377.0h0M484.7 378.9h0M476.3 372.6h0M482.5 376.0h0M479.4 376.5h0M480.4 384.6h0M485.3 377.0h0M486.5 374.9h0M476.0 378.1h0M477.3 373.9h0M489.9 376.1h0M474.6 373.9h0M479.3 379.3h0M482.0 372.6h0M491.9 384.2h0M485.6 376.3h0M481.4 379.6h0M487.1 375.9h0M491.4 378.5h0M485.6 382.7h0M488.0 375.3h0M484.4 381.5h0M480.0 374.0h0M482.7 381.4h0M482.6 377.4h0M491.7 383.5h0M484.5 375.2h0M491.6 382.1h0M474.9 376.4h0M479.5 374.9h0M488.9 384.9h0M490.4 378.9h0M478.5 381.0h0M475.0 377.4h0M484.3 380.5h0M479.3 376.5h0M476.6 377.0h0M476.8 379.4h0M484.5 378.7h0M483.4 379.4h0M487.4 384.0h0M484.5 382.5h0M490.5 378.8h0M475.9 381.0h0M489.0 379.6h0M480.3 379.1h0M477.3 383.2h0M484.0 383.8h0M488.0 382.4h0M481.5 377.3h0M478.5 376.6h0M472.7 378.8h0M490.0 380.7h0M478.9 377.8h0M481.8 380.2h0M489.0 381.9h0M481.5 372.8h0M483.8 376.5h0M483.7 379.7h0M477.0 377.6h0M483.6 372.6h0M479.7 380.8h0M492.0 376.8h0M481.3 373.1h0M493.0 381.9h0M484.0 379.1h0M482.7 382.0h0M485.0 373.4h0M490.9 381.2h0M484.6 377.5h0M479.6 375.8h0M481.3 378.2h0M483.3 373.9h0M478.8 378.9h0M486.8 382.3h0M477.6 380.1h0M482.1 382.9h0M477.9 383.0h0M481.5 379.1h0M483.1 379.3h0M475.9 379.7h0M478.8 382.5h0M482.7 374.6h0M488.0 380.0h0M489.0 383.1h0M487.8 375.3h0M484.3 375.3h0M492.8 378.9h0M485.2 377.6h0M484.1 384.8h0M483.7 384.9h0M474.3 377.8h0M483.5 380.6h0M480.5 380.4h0M478.4 379.5h0M472.9 378.1h0M474.1 378.8h0M474.6 381.4h0M477.8 379.5h0M475.0 379.2h0M476.4 381.2h0M487.0 385.5h0M484.9 374.9h0M482.5 380.7h0M478.2 379.4h0M488.0 376.8h0M479.8 377.8h0M482.5 375.2h0M492.4 380.9h0M480.0 374.6h0M485.7 380.2h0M478.3 379.0h0M472.6 378.8h0M493.7 380.6h0M477.4 379.8h0M480.0 381.7h0M485.2 380.2h0M479.3 381.2h0M484.5 377.1h0M486.0 377.4h0M491.5 381.1h0M481.5 381.2h0M478.9 376.5h0M487.0 385.5h0M481.4 382.3h0M477.1 378.4h0M480.0 382.6h0M488.2 383.0h0M481.6 379.1h0M474.7 374.7h0M491.0 377.1h0M483.4 382.2h0M479.6 384.1h0M476.1 376.2h0M487.5 373.8h0M479.0 379.3h0M484.6 382.6h0M479.9 380.5h0M491.1 381.8h0M474.1 378.3h0M477.5 380.0h0M482.0 375.5h0M483.0 384.0h0M483.8 383.5h0M483.2 375.9h0M489.8 380.4h0M490.1 383.9h0M485.4 380.0h0M481.5 377.4h0M479.9 381.2h0M481.0 375.2h0M488.6 376.0h0M488.6 381.4h0M487.4 385.7h0" stroke="#2a82f8" stroke-width="1.45" stroke-linecap="round" fill="none"/>
<text x="471.7" y="341.1" font-size="10" fill="#111" text-anchor="middle" stroke="#111" stroke-width="0.12">PB</text>
<text x="427.29999999999995" y="352.7" font-size="8" fill="#222" text-anchor="middle" stroke="#222" stroke-width="0.12">0.8</text>
<text x="429.6" y="369.2" font-size="8" fill="#222" text-anchor="middle" stroke="#222" stroke-width="0.12">0.4</text>
<text x="431.6" y="382.9" font-size="8" fill="#222" text-anchor="middle" stroke="#222" stroke-width="0.12">0.0</text>
<text x="435.7" y="396.1" font-size="8" fill="#222" text-anchor="middle" stroke="#222" stroke-width="0.12">0.0</text>
<text x="444.2" y="404.9" font-size="8" fill="#222" text-anchor="middle" stroke="#222" stroke-width="0.12">0.4</text>
<text x="454.0" y="414.8" font-size="8" fill="#222" text-anchor="middle" stroke="#222" stroke-width="0.12">0.8</text>
<text x="503.5" y="400.1" font-size="8" fill="#222" text-anchor="middle" stroke="#222" stroke-width="0.12">−0.2</text>
<text x="491.9" y="409.7" font-size="8" fill="#222" text-anchor="middle" stroke="#222" stroke-width="0.12">0.2</text>
<text x="473.9" y="423.4" font-size="8" fill="#222" text-anchor="middle" stroke="#222" stroke-width="0.12">0.6</text>
<text x="414.2" y="366.6" font-size="8" fill="#222" text-anchor="middle" textLength="34" lengthAdjust="spacingAndGlyphs" transform="rotate(80 414.2 366.6)" stroke="#222" stroke-width="0.12">GMP score</text>
<text x="436.7" y="412.5" font-size="8" fill="#222" text-anchor="middle" textLength="33" lengthAdjust="spacingAndGlyphs" transform="rotate(48 436.7 412.5)" stroke="#222" stroke-width="0.12">MLP score</text>
<text x="499.7" y="418.5" font-size="8" fill="#222" text-anchor="middle" textLength="33" lengthAdjust="spacingAndGlyphs" transform="rotate(-36 499.7 418.5)" stroke="#222" stroke-width="0.12">MEP score</text>
<circle cx="238.8" cy="439.8" r="1.5" fill="#8a8a8a"/>
<text x="242.60000000000002" y="442.6" font-size="8" fill="#222" text-anchor="start" textLength="33.72" lengthAdjust="spacingAndGlyphs" stroke="#222" stroke-width="0.12">HSC/MPP</text>
<circle cx="238.8" cy="451.1" r="1.5" fill="#d0d0d0"/>
<text x="242.60000000000002" y="453.90000000000003" font-size="8" fill="#222" text-anchor="start" textLength="41.53" lengthAdjust="spacingAndGlyphs" stroke="#222" stroke-width="0.12">Primed MPP</text>
<circle cx="296.3" cy="439.8" r="1.5" fill="#ffa02a"/>
<text x="300.1" y="442.6" font-size="8" fill="#222" text-anchor="start" textLength="46.05" lengthAdjust="spacingAndGlyphs" stroke="#222" stroke-width="0.12">Early MEMBP</text>
<circle cx="296.3" cy="451.1" r="1.5" fill="#f42a1c"/>
<text x="300.1" y="453.90000000000003" font-size="8" fill="#222" text-anchor="start" textLength="43.59" lengthAdjust="spacingAndGlyphs" stroke="#222" stroke-width="0.12">Late MEMBP</text>
<circle cx="359.4" cy="439.8" r="1.5" fill="#1fc21f"/>
<text x="363.2" y="442.6" font-size="8" fill="#222" text-anchor="start" textLength="33.72" lengthAdjust="spacingAndGlyphs" stroke="#222" stroke-width="0.12">Early MyP</text>
<circle cx="359.4" cy="451.1" r="1.5" fill="#0e5e10"/>
<text x="363.2" y="453.90000000000003" font-size="8" fill="#222" text-anchor="start" textLength="31.26" lengthAdjust="spacingAndGlyphs" stroke="#222" stroke-width="0.12">Late MyP</text>
<circle cx="407" cy="439.8" r="1.5" fill="#2a82f8"/>
<text x="410.8" y="442.6" font-size="8" fill="#222" text-anchor="start" textLength="12.48" lengthAdjust="spacingAndGlyphs" stroke="#222" stroke-width="0.12">LyP</text>
<circle cx="407" cy="451.1" r="1.5" fill="#8fd3f7"/>
<text x="410.8" y="453.90000000000003" font-size="8" fill="#222" text-anchor="start" textLength="16.44" lengthAdjust="spacingAndGlyphs" stroke="#222" stroke-width="0.12">MDP</text>
<circle cx="439.5" cy="439.8" r="1.5" fill="#8a1fa0"/>
<text x="443.3" y="442.6" font-size="8" fill="#222" text-anchor="start" textLength="44.4" lengthAdjust="spacingAndGlyphs" stroke="#222" stroke-width="0.12">EryP/MyPmix</text>
<circle cx="439.5" cy="451.1" r="1.5" fill="#111"/>
<text x="443.3" y="453.90000000000003" font-size="8" fill="#222" text-anchor="start" textLength="22.62" lengthAdjust="spacingAndGlyphs" stroke="#222" stroke-width="0.12">ND/LQ</text>
<defs><filter id="bl6" x="-10%" y="-10%" width="120%" height="120%"><feGaussianBlur stdDeviation="0.6"/></filter><filter id="bl10" x="-10%" y="-10%" width="120%" height="120%"><feGaussianBlur stdDeviation="1.0"/></filter></defs>
<clipPath id="fc1"><rect x="21.1" y="491" width="105.5" height="102.6"/></clipPath>
<g clip-path="url(#fc1)"><g transform="translate(21.1,491)">
<path d="M26.5 67.1h0M8.6 89.0h0M8.0 93.1h0M5.8 96.8h0M6.1 98.5h0M32.2 59.3h0M34.6 60.1h0M6.2 96.5h0M6.4 95.9h0M5.6 96.0h0M31.0 60.1h0M3.8 98.1h0M14.1 80.0h0M26.8 67.1h0M31.1 59.9h0M5.0 95.0h0M31.0 59.3h0M9.5 82.7h0M13.0 85.4h0M20.3 77.6h0M32.2 58.0h0M7.3 95.3h0M19.1 78.7h0M29.6 62.9h0M14.5 84.1h0M32.8 60.8h0M32.5 59.2h0M17.7 80.4h0M8.9 89.1h0M5.5 96.0h0M32.3 59.8h0M7.5 96.4h0M28.3 56.7h0M13.1 86.6h0M28.5 57.9h0M29.7 59.2h0M7.8 93.4h0M9.1 88.2h0M27.9 69.8h0M31.1 62.6h0M17.3 74.7h0M19.0 78.4h0M13.9 82.6h0M32.6 57.4h0M30.0 57.3h0M3.3 97.9h0M24.0 69.7h0M6.7 95.9h0M29.1 58.8h0M25.9 70.7h0M30.9 60.5h0M6.7 96.9h0M5.2 95.8h0M4.0 96.0h0M14.8 81.9h0M4.7 97.4h0M30.0 64.3h0M30.7 61.4h0M19.6 78.3h0M25.9 68.1h0" stroke="#e4f2e2" stroke-width="0.7" stroke-linecap="round" fill="none"/>
<path d="M28.5,57.6C23.9,63.5 8.4,89.4 4.6,96.0C0.8,102.5 1.1,102.8 5.8,96.8C10.5,90.9 28.9,66.9 32.7,60.4C36.5,53.9 33.2,51.7 28.5,57.6Z" fill="#f4faf4" filter="url(#bl6)"/>
<path d="M41.9 20.7h0M62.1 30.6h0M55.2 30.4h0M59.2 29.4h0M52.7 15.2h0M59.2 32.6h0M47.2 21.8h0M49.6 28.7h0M57.7 29.5h0M55.7 33.1h0M41.0 19.8h0M58.2 20.8h0M58.5 24.0h0M62.8 34.8h0M61.9 25.8h0M47.3 28.4h0M49.6 16.1h0M62.4 28.1h0M41.2 17.3h0M59.9 25.7h0M45.5 20.6h0M56.4 28.1h0M44.5 20.4h0M56.6 28.7h0M59.0 33.7h0M39.3 16.0h0M56.8 34.2h0M49.0 28.2h0M58.1 31.2h0M51.2 16.4h0M42.1 14.3h0M60.0 33.0h0M54.5 18.2h0M57.5 20.3h0M53.3 19.4h0M50.9 31.1h0M47.5 27.7h0M43.4 22.3h0M41.0 12.9h0M46.1 23.6h0M53.1 17.4h0M50.2 30.8h0M50.5 14.1h0M57.2 19.1h0M60.2 28.3h0M47.7 14.7h0M49.9 33.3h0M56.8 34.1h0M49.3 29.7h0M57.4 32.8h0M43.6 23.5h0M59.7 32.5h0M49.1 28.0h0M39.3 14.0h0M55.0 33.2h0M53.3 32.4h0M40.4 14.4h0M56.4 33.4h0M60.3 28.0h0M59.6 33.6h0M40.5 16.2h0M55.8 20.3h0M64.0 28.1h0M59.1 32.2h0M42.9 28.5h0M48.5 13.8h0M45.0 24.6h0M45.9 28.3h0M55.0 30.4h0M52.1 20.3h0M43.4 20.5h0M56.4 20.2h0M60.6 23.1h0M63.8 31.1h0M52.3 29.2h0M53.2 21.4h0M44.3 12.5h0M41.3 12.5h0M49.8 28.3h0M54.3 18.8h0M48.5 15.4h0M46.5 28.6h0M46.7 25.2h0M59.3 29.3h0M56.4 19.1h0M57.8 32.7h0M53.5 17.9h0M60.3 31.4h0M56.2 15.6h0M46.8 25.5h0" stroke="#e2f2e8" stroke-width="0.8" stroke-linecap="round" fill="none"/>
<path d="M40.0,14.0C40.3,11.7 45.0,12.7 48.0,14.0C51.0,15.3 55.7,19.3 58.0,22.0C60.3,24.7 62.5,28.2 62.0,30.0C61.5,31.8 57.7,33.3 55.0,33.0C52.3,32.7 48.5,31.2 46.0,28.0C43.5,24.8 39.7,16.3 40.0,14.0Z" fill="#e2f2e8" filter="url(#bl6)"/>
<path d="M67.4 34.1h0M71.2 35.8h0M67.2 34.9h0M64.3 35.4h0M66.4 36.1h0M63.2 49.9h0M87.3 43.5h0M77.3 39.6h0M71.7 38.4h0M83.4 55.3h0M68.1 52.7h0M94.6 45.1h0M71.8 37.1h0M93.7 45.2h0M73.4 39.2h0M69.5 51.7h0M94.6 46.6h0M73.1 35.7h0M100.4 54.5h0M57.5 41.8h0M100.4 53.7h0M72.5 51.5h0M96.9 50.5h0M64.7 37.9h0M100.3 52.7h0M79.5 44.7h0M74.5 54.6h0M80.6 41.6h0M99.6 49.7h0M88.7 55.2h0M65.3 47.3h0M64.9 36.0h0M64.9 37.1h0M70.7 35.0h0M67.2 49.6h0M100.3 48.7h0M83.9 53.2h0M100.1 52.9h0M67.5 51.7h0M64.1 39.2h0M97.3 52.8h0M83.3 40.1h0M80.9 55.9h0M90.0 57.6h0M78.7 39.3h0M76.1 38.5h0M63.3 50.4h0M99.3 54.0h0M81.5 55.6h0M90.5 46.8h0M74.4 53.8h0M75.7 36.9h0M96.4 51.9h0M69.7 36.3h0M80.7 55.1h0M59.7 37.5h0M75.3 38.0h0M75.6 55.2h0M75.0 37.7h0M58.1 37.0h0M67.7 36.6h0M79.0 38.7h0M57.9 38.1h0M97.5 54.7h0M58.8 40.2h0M72.4 41.3h0M67.2 52.3h0M74.0 37.4h0M58.6 45.7h0M98.4 53.5h0M69.7 39.4h0M59.5 38.2h0M71.6 41.5h0M56.0 45.4h0M60.5 42.5h0M63.4 46.0h0M58.3 39.0h0M56.4 50.6h0M100.2 52.2h0M62.8 47.7h0M64.8 51.3h0M96.4 52.1h0M59.7 45.0h0M61.1 47.0h0M57.4 37.8h0M98.8 52.8h0M59.1 38.4h0M78.8 56.1h0M75.1 39.6h0M90.8 55.2h0" stroke="#f5c2be" stroke-width="0.8" stroke-linecap="round" fill="none"/>
<path d="M58.0,38.0C59.7,36.5 65.8,36.2 70.0,37.0C74.2,37.8 78.4,40.2 83.5,42.5C88.6,44.8 97.9,49.0 100.4,50.9C102.9,52.8 101.1,53.2 98.3,54.1C95.5,55.0 88.4,56.6 83.5,56.2C78.6,55.9 72.6,53.7 68.7,52.0C64.8,50.3 61.8,48.3 60.0,46.0C58.2,43.7 56.3,39.5 58.0,38.0Z" fill="#f5c2be" filter="url(#bl6)"/>
<path d="M85.9 60.5h0M47.2 45.3h0M36.2 46.1h0M87.8 59.6h0M47.5 42.3h0M78.8 62.4h0M57.6 65.1h0M37.8 59.4h0M63.0 44.9h0M45.6 61.9h0M53.9 63.9h0M36.1 57.5h0M38.0 48.3h0M74.3 50.9h0M36.3 48.8h0M42.8 45.9h0M83.5 56.5h0M76.9 48.7h0M58.5 63.1h0M36.4 51.0h0M47.9 59.9h0M85.8 54.7h0M50.2 41.3h0M67.3 44.4h0M40.8 60.8h0M47.0 45.2h0M37.6 54.4h0M78.9 60.3h0M76.9 49.1h0M48.9 63.3h0M35.9 48.7h0M44.6 61.6h0M85.7 55.8h0M71.3 63.8h0M79.5 60.2h0M34.1 48.6h0M63.4 45.2h0M70.9 62.9h0M46.3 64.2h0M57.1 44.4h0M52.2 48.5h0M48.6 63.3h0M66.2 43.9h0M60.0 44.7h0M74.0 61.2h0M50.0 62.8h0M86.9 53.8h0M44.3 62.8h0M52.6 59.4h0M73.6 45.9h0M51.8 62.1h0M86.4 60.0h0M37.5 50.4h0M80.8 60.2h0M37.0 53.4h0M89.4 55.6h0M36.6 48.5h0M63.3 46.6h0M82.7 51.8h0M74.3 60.6h0M55.7 43.5h0M33.4 51.9h0M76.6 62.8h0M44.4 63.4h0M74.6 60.0h0M44.8 48.7h0M39.3 61.3h0M37.1 52.9h0M38.0 47.0h0M36.6 49.8h0M43.3 46.0h0M85.2 55.0h0M56.3 42.8h0M70.4 64.5h0M62.1 44.8h0M83.5 62.3h0M35.9 46.7h0M38.2 47.1h0M85.9 54.3h0M36.6 53.3h0M34.3 47.9h0M91.4 50.0h0M85.3 59.3h0M52.6 64.1h0M41.0 48.0h0M45.2 60.2h0M42.0 61.3h0M38.9 56.5h0M87.8 56.4h0M68.7 43.9h0" stroke="#f8b678" stroke-width="0.8" stroke-linecap="round" fill="none"/>
<path d="M35.9,47.8C37.9,45.1 44.2,42.9 49.7,42.5C55.2,42.1 62.4,43.9 68.7,45.7C75.0,47.5 85.0,50.6 87.8,53.1C90.6,55.6 88.8,58.8 85.6,60.5C82.4,62.2 74.7,63.2 68.7,63.6C62.7,64.0 54.8,63.5 49.7,62.6C44.6,61.7 40.3,60.9 38.0,58.4C35.7,55.9 33.9,50.4 35.9,47.8Z" fill="#f8b678" filter="url(#bl6)"/>
<path d="M57.3 42.6h0M40.5 32.4h0M57.2 31.5h0M39.9 27.0h0M57.5 33.4h0M41.8 40.2h0M57.4 28.0h0M47.2 43.0h0M59.5 34.6h0M59.0 30.8h0M41.1 31.7h0M57.0 34.6h0M56.8 41.9h0M57.7 39.5h0M53.1 46.7h0M56.9 29.1h0M57.6 32.3h0M45.0 44.6h0M49.6 24.7h0M39.8 27.8h0M55.5 41.1h0M53.9 44.0h0M57.7 36.3h0M58.7 40.9h0M57.6 39.5h0M45.1 48.3h0M56.7 38.7h0M38.5 27.1h0M58.2 30.4h0M59.4 35.2h0M57.9 43.3h0M59.4 39.4h0M42.5 29.0h0M55.0 45.2h0M59.1 32.0h0M43.8 29.0h0M57.8 35.2h0M56.0 33.4h0M49.1 46.7h0M56.3 45.6h0M59.7 37.7h0M58.4 29.2h0M48.0 23.0h0M51.6 24.7h0M58.2 33.7h0M44.9 46.6h0M54.5 44.3h0M59.4 36.1h0M56.5 27.1h0M49.4 24.9h0M55.7 35.2h0M40.3 27.9h0M57.8 42.8h0M58.5 38.0h0M47.4 25.8h0M45.4 45.3h0M49.7 25.2h0M40.9 38.5h0M42.7 38.6h0M43.6 39.8h0M57.1 41.9h0M44.3 42.6h0M44.0 44.1h0M58.6 32.1h0M52.4 29.5h0M48.5 24.2h0M57.0 35.2h0M56.3 28.1h0M53.9 28.2h0M47.2 27.5h0M55.1 42.0h0M46.4 44.5h0M49.5 43.1h0M56.5 40.1h0M57.8 32.3h0M48.8 43.6h0M48.2 45.1h0M57.5 30.9h0M41.4 39.4h0M49.6 46.5h0M50.8 46.3h0M40.6 41.7h0M42.7 26.3h0M42.6 30.0h0M46.5 47.7h0M56.1 38.5h0M44.5 27.1h0M46.3 42.1h0M50.1 25.9h0M43.1 26.4h0" stroke="#cfa0f2" stroke-width="0.8" stroke-linecap="round" fill="none"/>
<path d="M41.2,28.0C42.5,25.3 47.4,25.7 50.0,26.0C52.6,26.3 55.6,28.0 57.0,30.0C58.4,32.0 58.8,35.5 58.5,38.0C58.2,40.5 56.9,43.7 55.0,45.0C53.1,46.3 49.2,46.5 47.0,46.0C44.8,45.5 43.0,45.0 42.0,42.0C41.0,39.0 39.9,30.7 41.2,28.0Z" fill="#cfa0f2" filter="url(#bl6)"/>
<path d="M24.8 33.0h0M37.3 2.3h0M40.0 5.3h0M43.8 17.9h0M26.0 34.0h0M31.6 31.8h0M38.0 2.3h0M29.0 17.4h0M30.2 21.4h0M39.1 1.7h0M33.7 10.4h0M32.8 13.2h0M20.6 31.2h0M50.0 23.8h0M35.5 30.3h0M45.6 18.0h0M23.7 32.8h0M40.9 7.6h0M38.9 32.3h0M50.4 27.2h0M46.3 24.0h0M42.1 11.2h0M39.7 10.8h0M37.8 5.2h0M40.4 15.3h0M46.9 22.4h0M49.0 30.7h0M25.7 28.4h0M24.5 26.9h0M39.6 6.3h0M39.1 11.5h0M37.3 26.6h0M31.9 13.9h0M46.9 26.1h0M24.5 31.0h0M36.7 32.2h0M22.1 30.1h0M39.1 33.0h0M39.9 33.6h0M43.7 12.3h0M30.0 30.7h0M33.3 30.6h0M46.3 28.7h0M47.5 20.8h0M40.1 6.2h0M38.0 30.1h0M34.5 5.3h0M38.5 11.1h0M51.2 24.2h0M32.0 11.8h0M44.7 15.8h0M49.5 23.5h0M46.7 30.3h0M39.6 4.0h0M28.2 27.7h0M42.5 29.5h0M32.7 15.0h0M32.1 13.6h0M37.9 7.0h0M44.1 16.9h0M28.0 21.9h0M38.4 32.9h0M44.7 22.5h0M36.6 34.7h0M42.7 16.0h0M38.5 3.1h0M48.5 20.9h0M27.3 32.1h0M34.8 16.1h0M38.8 5.5h0M39.4 7.0h0M37.5 29.9h0M48.1 24.6h0M41.1 15.6h0M39.5 6.2h0M35.5 12.0h0M48.0 26.5h0M35.6 33.5h0M42.9 10.4h0M33.5 30.3h0M40.6 30.4h0M36.2 5.3h0M27.7 28.3h0M39.7 9.7h0M22.8 30.0h0M41.0 6.5h0M39.5 33.7h0M47.7 24.7h0M36.1 6.6h0M26.8 26.5h0" stroke="#a6d9bd" stroke-width="0.8" stroke-linecap="round" fill="none"/>
<path d="M23.2,31.5C22.7,29.3 27.9,21.8 30.0,18.0C32.0,14.2 34.1,10.8 35.5,8.5C36.9,6.2 37.4,4.2 38.2,4.4C39.0,4.7 39.5,7.7 40.5,10.0C41.5,12.3 43.0,15.2 44.5,18.0C46.0,20.8 50.1,24.3 49.7,26.6C49.3,28.9 44.8,31.3 42.0,32.0C39.2,32.7 36.1,31.1 33.0,31.0C29.9,30.9 23.7,33.7 23.2,31.5Z" fill="#a6d9bd" filter="url(#bl6)"/>
<path d="M38.6 47.7h0M35.6 57.1h0M13.0 50.0h0M22.0 57.6h0M7.9 48.3h0M42.0 44.1h0M18.4 36.2h0M12.9 51.4h0M19.5 35.7h0M39.8 45.0h0M31.2 28.1h0M38.7 33.9h0M18.7 55.0h0M30.4 33.0h0M14.7 50.4h0M38.0 39.0h0M21.2 36.2h0M28.1 58.6h0M14.1 38.5h0M22.8 33.2h0M18.4 55.7h0M10.7 46.9h0M21.1 34.4h0M38.1 49.4h0M39.4 35.3h0M31.8 30.8h0M14.1 40.7h0M35.7 31.9h0M27.2 32.2h0M40.0 45.6h0M37.2 29.2h0M11.2 43.2h0M33.1 58.3h0M6.1 46.7h0M36.3 29.2h0M20.6 37.7h0M35.8 37.0h0M38.5 32.1h0M34.4 33.0h0M14.8 49.8h0M37.1 57.1h0M34.9 32.9h0M28.7 57.8h0M17.7 54.3h0M28.1 60.2h0M20.5 36.8h0M29.7 60.3h0M41.5 42.3h0M36.8 50.0h0M33.6 32.7h0M33.3 31.8h0M42.4 49.7h0M12.1 52.3h0M41.0 40.8h0M32.9 55.7h0M18.7 36.2h0M35.7 34.5h0M42.5 44.9h0M41.5 41.0h0M15.0 52.3h0M13.3 53.0h0M20.8 58.0h0M13.1 52.4h0M21.2 35.5h0M13.6 51.1h0M17.4 33.0h0M42.1 52.3h0M39.2 40.8h0M31.3 33.5h0M12.7 52.0h0M29.3 61.0h0M41.7 47.2h0M39.9 34.4h0M16.3 54.8h0M12.4 50.2h0M21.1 34.5h0M24.1 28.3h0M11.9 44.7h0M41.3 46.9h0M41.1 40.1h0M16.5 39.9h0M34.5 29.6h0M11.2 44.6h0M33.2 57.8h0M26.0 31.9h0M16.4 54.7h0M40.7 53.0h0M17.1 54.2h0M39.4 55.7h0M15.8 53.6h0" stroke="#9dbfe0" stroke-width="0.8" stroke-linecap="round" fill="none"/>
<path d="M11.0,42.0C11.8,40.2 13.7,38.5 16.0,37.0C18.3,35.5 22.2,33.9 25.0,33.0C27.8,32.1 30.8,31.1 33.0,31.5C35.2,31.9 37.2,33.7 38.5,35.5C39.8,37.3 40.8,40.0 41.0,42.5C41.2,45.0 40.9,48.1 40.0,50.5C39.1,52.9 37.5,55.6 35.5,57.0C33.5,58.4 30.6,58.9 28.0,59.0C25.4,59.1 22.3,58.4 20.0,57.5C17.7,56.6 15.5,55.1 14.0,53.5C12.5,51.9 11.5,49.9 11.0,48.0C10.5,46.1 10.2,43.8 11.0,42.0Z" fill="#9dbfe0" filter="url(#bl6)"/>
<path d="M53.2,37.9C57.7,35.6 75.1,25.2 79.4,22.6C83.7,20.0 83.7,19.9 79.2,22.2C74.7,24.5 56.7,33.9 52.4,36.5C48.1,39.1 48.7,40.2 53.2,37.9Z" fill="#9fe2ee" filter="url(#bl6)"/>
<path d="M54.4,31.5C55.9,30.4 61.7,25.4 63.1,24.1C64.5,22.9 64.5,22.8 62.9,23.9C61.3,24.9 55.1,29.3 53.6,30.5C52.2,31.8 52.8,32.5 54.4,31.5Z" fill="#9fe2ee" filter="url(#bl6)"/>
<path d="M53.1,61.5C55.4,63.7 65.8,70.7 68.5,72.4C71.1,74.1 71.2,73.9 68.9,71.8C66.6,69.6 57.3,61.2 54.7,59.5C52.1,57.8 50.8,59.4 53.1,61.5Z" fill="#f2bcd4" filter="url(#bl6)"/>
<path d="M61.8,32.0C64.8,32.7 76.9,34.0 80.0,34.3C83.0,34.6 83.0,34.4 80.0,33.7C77.1,33.0 65.2,30.3 62.2,30.0C59.1,29.7 58.9,31.3 61.8,32.0Z" fill="#eec4ee" filter="url(#bl6)"/>
<path d="M26.2 57.7h0M25.7 56.5h0M39.9 39.3h0M8.7 47.1h0M13.7 36.2h0M44.2 41.9h0M36.1 31.6h0M32.5 34.7h0M16.0 56.3h0M33.3 27.6h0M8.2 52.8h0M13.3 45.3h0M41.6 41.1h0M14.6 34.8h0M22.9 37.4h0M25.7 36.6h0M12.5 41.6h0M35.8 49.2h0M37.2 42.2h0M13.6 46.0h0M27.6 28.0h0M12.3 52.9h0M22.1 41.3h0M20.7 62.8h0M40.2 33.9h0M51.1 33.3h0M35.3 27.6h0M31.2 31.9h0M23.4 58.4h0M37.5 28.2h0M33.7 26.1h0M40.5 42.7h0M43.2 55.1h0M11.8 55.2h0M12.8 55.4h0M12.6 42.3h0M14.2 54.4h0M33.9 29.5h0M39.4 49.7h0M28.9 37.6h0M14.0 49.4h0M6.8 47.2h0M13.3 46.0h0M12.3 32.8h0M40.6 30.1h0M32.7 54.6h0M36.8 52.1h0M39.8 48.7h0M38.7 38.7h0M20.2 64.0h0M28.1 33.4h0M41.5 37.7h0M25.6 60.5h0M10.0 38.1h0M42.6 41.3h0M21.1 54.5h0M10.6 33.0h0M29.0 36.0h0M41.0 51.5h0M38.5 44.9h0" stroke="#a8c4e4" stroke-width="0.9" stroke-linecap="round" fill="none"/>
<path d="M86.5 60.2h0M36.9 55.2h0M78.6 66.3h0M70.4 61.6h0M43.3 43.9h0M32.8 55.7h0M39.1 55.8h0M41.4 66.3h0M84.7 55.9h0M32.7 48.4h0M42.5 51.7h0M88.2 50.8h0M86.6 52.1h0M47.6 65.7h0M48.0 45.6h0M39.2 59.7h0M38.4 55.1h0M66.3 40.7h0M55.2 57.2h0M62.6 45.9h0M84.4 53.4h0M43.6 42.9h0M33.8 57.4h0M53.7 43.3h0M60.2 46.6h0M88.3 56.5h0M31.2 56.4h0M77.6 47.0h0M62.3 46.7h0M44.3 45.1h0M75.7 61.5h0M37.7 50.8h0M62.8 61.6h0M60.0 38.7h0M49.0 46.3h0M52.3 41.5h0M78.1 62.0h0M78.2 54.9h0M42.9 50.9h0M34.6 60.8h0M80.0 62.0h0M39.6 59.8h0M93.2 54.4h0M59.1 45.5h0M37.4 50.0h0M49.7 65.0h0M81.7 53.1h0M48.7 54.7h0M42.4 50.7h0M73.5 67.6h0" stroke="#f6c08c" stroke-width="0.9" stroke-linecap="round" fill="none"/>
</g></g>
<rect x="21.1" y="491" width="105.5" height="102.6" fill="none" stroke="#1a1a1a" stroke-width="1.2"/>
<g transform="translate(21.1,491)">
<path d="M9.1,41.3C10.1,39.0 12.2,37.2 14.8,35.5C17.4,33.8 21.3,32.1 24.4,31.2C27.4,30.2 30.7,29.2 33.1,29.8C35.5,30.4 37.5,32.5 38.9,34.6C40.3,36.7 41.4,39.6 41.7,42.3C42.0,45.0 41.8,48.2 40.8,50.9C39.8,53.6 38.1,57.0 36.0,58.6C33.9,60.2 31.0,60.4 28.3,60.5C25.6,60.6 22.2,60.1 19.6,59.1C17.0,58.1 14.7,56.5 12.9,54.8C11.2,53.1 9.7,51.2 9.1,49.0C8.5,46.8 8.1,43.5 9.1,41.3Z" fill="none" stroke="#222" stroke-width="1.1" stroke-dasharray="2.3,1.5"/>
<path d="M24.3,23.4Q26.5,12 32.6,7.2" fill="none" stroke="#2f4fe0" stroke-width="1.3"/>
<path d="M34.2,5.4L30.0,7.6L33.6,10.1Z" fill="#2f4fe0"/>
<path d="M49.7,46.7Q59,46.5 64.8,40" fill="none" stroke="#1e9e1e" stroke-width="1.3"/>
<path d="M66.8,37.8L62.3,39.2L65.4,42.3Z" fill="#1e9e1e"/>
<path d="M35.9,65.8Q55,81 83,74.2" fill="none" stroke="#f02a2a" stroke-width="1.3"/>
<path d="M86.0,73.2L81.4,71.9L82.3,76.2Z" fill="#f02a2a"/>
<text x="21.1" y="11.5" font-size="8.3" fill="#3a4ae0" text-anchor="middle" textLength="13.01" lengthAdjust="spacingAndGlyphs" stroke="#3a4ae0" stroke-width="0.12">LyP</text>
<text x="79.3" y="41.2" font-size="8.3" fill="#2aa02a" text-anchor="middle" textLength="15.44" lengthAdjust="spacingAndGlyphs" stroke="#2aa02a" stroke-width="0.12">MyP</text>
<text x="63.4" y="87.7" font-size="8.3" fill="#f02a2a" text-anchor="middle" textLength="28.31" lengthAdjust="spacingAndGlyphs" stroke="#f02a2a" stroke-width="0.12">MEMBP</text>
<rect x="-9.5" y="23" width="19" height="19" fill="#fff"/>
<text x="-0.6" y="31.1" font-size="8.3" fill="#222" text-anchor="middle" textLength="18.44" lengthAdjust="spacingAndGlyphs" stroke="#222" stroke-width="0.12">HSC/</text>
<text x="-0.6" y="40.6" font-size="8.3" fill="#222" text-anchor="middle" textLength="16.73" lengthAdjust="spacingAndGlyphs" stroke="#222" stroke-width="0.12">MPP</text>
</g>
<clipPath id="fc2"><rect x="199.6" y="490.8" width="105.5" height="102.6"/></clipPath>
<g clip-path="url(#fc2)"><g transform="translate(199.6,490.8)">
<path d="M3.4 97.3h0M25.8 59.3h0M9.6 85.0h0M17.0 79.6h0M14.4 84.6h0M29.8 66.7h0M4.6 96.7h0M30.1 57.9h0M7.2 96.7h0M4.9 96.4h0M5.3 97.0h0M21.4 70.7h0M5.9 91.9h0M26.2 57.7h0M8.9 90.0h0M5.4 94.7h0M5.2 96.2h0M28.3 56.9h0M26.4 70.7h0M29.0 58.6h0M8.7 88.9h0M10.3 86.9h0M29.5 61.4h0M15.7 86.6h0M21.8 73.8h0M33.0 59.9h0M30.3 57.3h0M5.7 97.4h0M5.9 98.2h0M31.9 58.7h0M31.8 58.7h0M5.8 96.3h0M14.8 78.3h0M11.4 85.2h0M5.3 97.2h0M14.2 88.2h0M24.5 72.2h0M7.3 93.9h0M5.0 92.1h0M3.6 97.6h0M29.9 61.3h0M10.0 88.9h0M31.3 59.2h0M17.3 75.0h0M30.4 61.6h0M25.8 62.4h0M5.0 96.4h0M17.2 72.8h0M4.5 93.4h0M20.2 82.0h0M7.1 94.9h0M8.9 91.6h0M6.4 94.4h0M29.5 62.1h0M27.5 69.1h0M4.9 98.2h0M19.0 72.3h0M29.4 58.0h0M20.3 69.3h0M28.9 57.5h0" stroke="#cfbbff" stroke-width="0.8" stroke-linecap="round" fill="none"/>
<path d="M28.5,57.6C23.9,63.5 8.4,89.4 4.6,96.0C0.8,102.5 1.1,102.8 5.8,96.8C10.5,90.9 28.9,66.9 32.7,60.4C36.5,53.9 33.2,51.7 28.5,57.6Z" fill="#f2eaff" filter="url(#bl6)"/>
<path d="M53.6 27.5h0M38.0 15.6h0M53.7 32.5h0M57.6 27.1h0M41.0 23.5h0M43.6 16.1h0M57.5 33.1h0M58.8 24.4h0M42.9 16.9h0M41.5 11.9h0M50.8 13.8h0M42.9 20.8h0M41.6 18.8h0M61.0 25.2h0M64.6 31.6h0M46.4 26.1h0M61.0 30.6h0M47.9 27.3h0M57.9 20.2h0M60.3 28.7h0M59.8 31.5h0M53.4 33.3h0M44.3 15.7h0M50.3 31.5h0M62.6 26.6h0M42.9 13.0h0M57.9 24.4h0M50.4 13.9h0M53.2 34.2h0M47.9 13.1h0M54.5 26.8h0M40.3 16.5h0M59.5 20.0h0M55.8 33.2h0M47.2 23.4h0M55.7 18.8h0M58.3 21.5h0M60.9 28.8h0M57.7 23.6h0M53.7 18.2h0M47.3 27.9h0M40.0 15.1h0M62.8 27.4h0M43.0 23.5h0M52.8 33.0h0M46.6 12.3h0M56.2 32.7h0M58.3 25.6h0M59.8 21.5h0M49.0 26.8h0M61.8 29.4h0M47.5 15.5h0M49.4 29.2h0M51.8 32.0h0M61.9 27.2h0M43.7 12.6h0M54.0 19.7h0M61.1 28.5h0M59.7 29.5h0M42.2 13.5h0M63.4 29.9h0M49.8 30.8h0M61.9 22.9h0M63.9 30.1h0M47.6 27.8h0M47.1 27.8h0M48.6 26.9h0M40.2 16.6h0M54.5 36.4h0M51.4 34.0h0" stroke="#d4c7ff" stroke-width="0.8" stroke-linecap="round" fill="none"/>
<path d="M40.0,14.0C40.3,11.7 45.0,12.7 48.0,14.0C51.0,15.3 55.7,19.3 58.0,22.0C60.3,24.7 62.5,28.2 62.0,30.0C61.5,31.8 57.7,33.3 55.0,33.0C52.3,32.7 48.5,31.2 46.0,28.0C43.5,24.8 39.7,16.3 40.0,14.0Z" fill="#d8cefb" filter="url(#bl6)"/>
<path d="M67.6 52.2h0M98.8 53.5h0M101.7 51.4h0M78.8 53.1h0M78.4 55.1h0M87.1 57.7h0M102.5 54.2h0M101.8 50.4h0M78.6 43.2h0M62.1 47.8h0M75.9 56.4h0M95.8 47.8h0M65.3 37.7h0M63.2 40.4h0M58.2 40.7h0M73.9 37.8h0M67.1 52.9h0M101.7 53.5h0M83.6 38.9h0M82.2 45.8h0M75.5 50.3h0M59.9 45.7h0M76.1 40.1h0M71.7 53.5h0M101.1 52.1h0M60.3 40.4h0M89.5 50.9h0M75.3 39.1h0M66.5 37.4h0M70.4 38.2h0M75.1 54.1h0M86.1 56.4h0M99.2 49.3h0M89.2 47.3h0M61.0 45.1h0M58.8 43.1h0M74.2 37.1h0M58.2 43.8h0M80.3 54.1h0M57.1 37.3h0M99.4 51.3h0M81.9 54.0h0M95.0 45.4h0M56.6 40.5h0M94.2 48.1h0M94.0 46.5h0M67.9 37.3h0M97.3 46.3h0M60.8 36.4h0M64.5 50.2h0M101.1 51.2h0M69.0 49.2h0M66.5 37.9h0M79.2 53.2h0M63.3 42.5h0M58.6 41.7h0M62.6 46.1h0M80.3 40.1h0M83.1 56.8h0M71.6 37.3h0M61.1 48.5h0M95.0 48.8h0M102.6 48.5h0M56.5 41.2h0M99.8 51.8h0M87.5 54.3h0M93.2 47.7h0M100.2 49.0h0M59.0 40.0h0M85.6 45.3h0" stroke="#d4c7ff" stroke-width="0.8" stroke-linecap="round" fill="none"/>
<path d="M58.0,38.0C59.7,36.5 65.8,36.2 70.0,37.0C74.2,37.8 78.4,40.2 83.5,42.5C88.6,44.8 97.9,49.0 100.4,50.9C102.9,52.8 101.1,53.2 98.3,54.1C95.5,55.0 88.4,56.6 83.5,56.2C78.6,55.9 72.6,53.7 68.7,52.0C64.8,50.3 61.8,48.3 60.0,46.0C58.2,43.7 56.3,39.5 58.0,38.0Z" fill="#d8cefb" filter="url(#bl6)"/>
<path d="M62.4 66.3h0M62.9 47.4h0M90.0 54.6h0M35.3 46.2h0M40.6 47.7h0M38.6 45.4h0M36.4 56.4h0M64.0 46.7h0M55.3 43.5h0M54.8 46.2h0M89.7 49.9h0M78.0 62.9h0M45.0 60.6h0M42.4 56.0h0M48.7 63.8h0M67.9 63.6h0M63.6 63.5h0M39.4 43.9h0M88.4 55.0h0M39.0 54.5h0M60.8 44.1h0M85.0 58.0h0M41.2 46.6h0M34.6 49.0h0M38.4 50.4h0M72.8 47.9h0M68.8 60.8h0M37.7 46.5h0M60.3 44.6h0M36.3 58.7h0M48.8 40.8h0M38.0 43.0h0M53.8 43.8h0M63.3 45.5h0M70.1 62.0h0M57.9 44.7h0M57.0 43.7h0M52.6 44.7h0M85.3 59.5h0M39.2 43.9h0M56.5 64.7h0M32.3 48.1h0M37.1 47.7h0M35.3 50.3h0M61.1 65.1h0M41.3 48.5h0M67.1 62.1h0M88.8 55.6h0M36.9 48.8h0M41.2 44.8h0M74.2 63.6h0M85.5 58.3h0M51.0 45.8h0M70.8 45.7h0M86.1 56.5h0M76.3 50.7h0M59.8 63.1h0M73.9 48.4h0M35.1 57.2h0M53.8 42.2h0M73.5 61.1h0M86.3 55.5h0M75.7 62.7h0M73.4 63.3h0M63.0 63.7h0M39.5 45.5h0M35.4 49.0h0M67.7 63.5h0M53.9 44.9h0M74.8 45.0h0" stroke="#d4c7ff" stroke-width="0.8" stroke-linecap="round" fill="none"/>
<path d="M35.9,47.8C37.9,45.1 44.2,42.9 49.7,42.5C55.2,42.1 62.4,43.9 68.7,45.7C75.0,47.5 85.0,50.6 87.8,53.1C90.6,55.6 88.8,58.8 85.6,60.5C82.4,62.2 74.7,63.2 68.7,63.6C62.7,64.0 54.8,63.5 49.7,62.6C44.6,61.7 40.3,60.9 38.0,58.4C35.7,55.9 33.9,50.4 35.9,47.8Z" fill="#d8cefb" filter="url(#bl6)"/>
<path d="M43.5 41.9h0M52.3 23.5h0M51.5 45.2h0M40.6 36.0h0M50.2 48.7h0M41.8 35.3h0M60.6 34.4h0M48.5 27.2h0M43.9 25.7h0M52.7 29.3h0M56.2 38.1h0M55.0 43.9h0M57.9 28.3h0M55.2 25.8h0M47.1 26.5h0M54.3 39.4h0M58.9 33.9h0M61.4 34.1h0M46.0 43.0h0M38.4 38.5h0M46.7 45.2h0M58.7 30.7h0M40.5 33.7h0M41.6 35.4h0M43.9 44.5h0M55.8 30.6h0M44.9 47.3h0M42.1 25.4h0M55.5 43.4h0M49.1 46.7h0M46.6 46.2h0M39.7 31.3h0M39.7 32.2h0M44.6 41.3h0M57.5 43.5h0M41.6 40.5h0M43.4 29.0h0M50.4 24.3h0M54.2 32.6h0M39.1 35.2h0M40.9 29.2h0M45.3 44.6h0M54.8 29.0h0M43.4 35.9h0M41.3 34.2h0M60.5 35.9h0M41.8 34.3h0M54.6 43.6h0M53.3 43.0h0M54.7 27.0h0M46.4 47.2h0M56.9 41.4h0M44.2 41.7h0M59.5 33.6h0M46.4 26.8h0M40.4 26.8h0M46.4 29.3h0M52.7 29.6h0M46.5 23.5h0M39.6 27.8h0M53.8 26.6h0M56.5 39.3h0M47.3 43.1h0M56.1 40.6h0M57.5 32.8h0M44.4 39.4h0M38.5 32.7h0M42.3 44.2h0M51.5 25.9h0M40.3 32.4h0" stroke="#d4c7ff" stroke-width="0.8" stroke-linecap="round" fill="none"/>
<path d="M41.2,28.0C42.5,25.3 47.4,25.7 50.0,26.0C52.6,26.3 55.6,28.0 57.0,30.0C58.4,32.0 58.8,35.5 58.5,38.0C58.2,40.5 56.9,43.7 55.0,45.0C53.1,46.3 49.2,46.5 47.0,46.0C44.8,45.5 43.0,45.0 42.0,42.0C41.0,39.0 39.9,30.7 41.2,28.0Z" fill="#d8cefb" filter="url(#bl6)"/>
<path d="M39.3 4.6h0M30.3 17.0h0M47.7 29.9h0M34.8 31.9h0M38.2 3.7h0M27.7 33.6h0M34.0 8.6h0M30.0 33.1h0M27.3 29.5h0M24.6 30.6h0M25.3 24.9h0M52.4 27.7h0M32.9 31.0h0M25.2 31.7h0M30.9 11.6h0M41.2 13.7h0M38.8 7.2h0M28.4 15.7h0M23.6 28.7h0M47.7 21.1h0M36.5 7.9h0M49.6 31.4h0M40.7 30.9h0M29.1 15.8h0M41.4 35.2h0M49.6 25.7h0M31.7 28.4h0M44.1 22.2h0M37.7 4.7h0M40.3 5.2h0M42.7 11.6h0M36.9 6.1h0M38.9 7.7h0M46.6 24.8h0M42.1 13.9h0M38.9 7.1h0M30.7 33.3h0M42.0 10.9h0M20.6 29.2h0M46.3 18.0h0M29.6 27.5h0M32.8 21.0h0M41.8 32.1h0M30.2 30.3h0M27.5 27.8h0M44.4 14.6h0M32.1 32.0h0M25.4 31.8h0M26.1 23.5h0M36.9 30.3h0M22.6 29.9h0M42.3 30.5h0M24.8 25.7h0M38.7 3.4h0M36.3 8.5h0M37.8 32.8h0M42.5 18.2h0M39.9 10.7h0M26.6 34.9h0M34.1 9.5h0M35.0 10.8h0M44.7 21.5h0M24.4 31.2h0M49.0 23.2h0M40.0 4.9h0M49.4 26.0h0M31.3 11.9h0M43.3 29.3h0M40.2 34.2h0M37.4 30.0h0" stroke="#d4c7ff" stroke-width="0.8" stroke-linecap="round" fill="none"/>
<path d="M23.2,31.5C22.7,29.3 27.9,21.8 30.0,18.0C32.0,14.2 34.1,10.8 35.5,8.5C36.9,6.2 37.4,4.2 38.2,4.4C39.0,4.7 39.5,7.7 40.5,10.0C41.5,12.3 43.0,15.2 44.5,18.0C46.0,20.8 50.1,24.3 49.7,26.6C49.3,28.9 44.8,31.3 42.0,32.0C39.2,32.7 36.1,31.1 33.0,31.0C29.9,30.9 23.7,33.7 23.2,31.5Z" fill="#d8cefb" filter="url(#bl6)"/>
<path d="M27.7 30.6h0M25.2 56.8h0M10.8 42.5h0M18.6 59.2h0M41.3 35.7h0M19.2 58.1h0M42.6 46.4h0M8.7 48.3h0M39.6 38.3h0M43.4 38.7h0M32.9 60.2h0M20.3 33.4h0M20.8 58.3h0M28.4 59.6h0M37.2 45.1h0M19.2 57.7h0M14.4 38.0h0M42.0 45.3h0M10.6 42.4h0M39.1 35.1h0M13.8 47.9h0M31.3 31.0h0M38.5 52.2h0M29.3 29.7h0M24.8 56.0h0M41.2 34.9h0M23.6 59.6h0M39.9 43.2h0M12.0 40.1h0M26.0 31.6h0M38.4 32.5h0M35.8 51.7h0M13.1 49.0h0M37.6 49.2h0M10.2 47.4h0M35.0 54.5h0M26.4 34.5h0M36.2 32.7h0M11.7 39.8h0M39.5 47.4h0M17.0 56.8h0M35.7 58.4h0M23.2 56.4h0M12.5 51.4h0M10.1 40.8h0M31.4 57.5h0M11.8 52.8h0M34.8 35.9h0M24.2 31.0h0M17.9 57.1h0M20.3 33.3h0M41.4 53.2h0M22.5 56.3h0M33.8 56.5h0M24.6 56.2h0M20.4 34.9h0M38.5 46.2h0M39.3 50.1h0M42.1 37.4h0M8.4 52.7h0M39.0 42.1h0M34.6 28.4h0M7.4 44.7h0M33.0 37.5h0M15.0 38.6h0M35.2 57.4h0M39.4 45.4h0M12.1 49.4h0M42.5 36.2h0M41.2 55.4h0" stroke="#d4c7ff" stroke-width="0.8" stroke-linecap="round" fill="none"/>
<path d="M11.0,42.0C11.8,40.2 13.7,38.5 16.0,37.0C18.3,35.5 22.2,33.9 25.0,33.0C27.8,32.1 30.8,31.1 33.0,31.5C35.2,31.9 37.2,33.7 38.5,35.5C39.8,37.3 40.8,40.0 41.0,42.5C41.2,45.0 40.9,48.1 40.0,50.5C39.1,52.9 37.5,55.6 35.5,57.0C33.5,58.4 30.6,58.9 28.0,59.0C25.4,59.1 22.3,58.4 20.0,57.5C17.7,56.6 15.5,55.1 14.0,53.5C12.5,51.9 11.5,49.9 11.0,48.0C10.5,46.1 10.2,43.8 11.0,42.0Z" fill="#d8cefb" filter="url(#bl6)"/>
<path d="M53.2,37.9C57.7,35.6 75.1,25.2 79.4,22.6C83.7,20.0 83.7,19.9 79.2,22.2C74.7,24.5 56.7,33.9 52.4,36.5C48.1,39.1 48.7,40.2 53.2,37.9Z" fill="#d8cefb" filter="url(#bl6)"/>
<path d="M54.4,31.5C55.9,30.4 61.7,25.4 63.1,24.1C64.5,22.9 64.5,22.8 62.9,23.9C61.3,24.9 55.1,29.3 53.6,30.5C52.2,31.8 52.8,32.5 54.4,31.5Z" fill="#d8cefb" filter="url(#bl6)"/>
<path d="M53.1,61.5C55.4,63.7 65.8,70.7 68.5,72.4C71.1,74.1 71.2,73.9 68.9,71.8C66.6,69.6 57.3,61.2 54.7,59.5C52.1,57.8 50.8,59.4 53.1,61.5Z" fill="#d8cefb" filter="url(#bl6)"/>
<path d="M61.8,32.0C64.8,32.7 76.9,34.0 80.0,34.3C83.0,34.6 83.0,34.4 80.0,33.7C77.1,33.0 65.2,30.3 62.2,30.0C59.1,29.7 58.9,31.3 61.8,32.0Z" fill="#d8cefb" filter="url(#bl6)"/>
<g filter="url(#bl10)"><path d="M89.0,64.5L82.5,64.8L70.5,63.2L60.0,63.8L55.5,63.5L51.1,62.0L43.5,56.7L42.0,56.2L33.0,60.2L29.5,61.2L24.5,61.7L20.0,61.1L14.0,58.5L11.5,56.4L9.5,54.0L8.2,51.5L7.3,48.5L7.7,43.0L9.1,39.5L11.5,36.1L14.5,33.4L18.0,31.3L21.5,30.0L25.0,29.3L28.5,29.2L34.0,30.0L35.0,29.7L35.0,28.5L31.5,15.0L31.5,11.8L32.5,10.2L33.5,10.1L35.0,10.8L40.5,16.2L42.5,17.4L44.0,17.2L48.0,14.2L51.5,14.1L54.6,16.0L56.8,20.5L57.7,21.5L64.5,22.0L65.8,22.5L66.7,23.5L66.8,25.0L65.8,27.0L64.0,28.6L60.6,30.5L59.8,31.5L59.7,33.0L60.8,38.5L61.8,40.5L64.0,41.4L75.0,43.2L82.5,45.7L92.0,50.4L95.7,53.0L97.7,55.0L98.4,56.5L98.1,57.5L94.9,59.5L92.0,63.3L89.0,64.5Z" fill="#afa4fe" fill-rule="evenodd"/><path d="M84.5,63.0L72.5,62.0L61.0,62.9L56.0,62.4L52.4,60.5L47.0,55.5L45.0,52.9L44.0,52.3L36.0,57.4L31.0,59.6L25.5,60.6L20.0,59.9L14.5,57.4L10.5,53.5L8.5,48.5L8.7,43.5L10.1,40.0L12.6,36.5L16.0,33.7L20.0,31.6L24.0,30.6L28.0,30.3L38.0,32.4L38.2,31.5L35.3,26.0L33.2,17.5L33.1,14.0L33.5,13.3L34.5,12.9L37.0,14.5L44.1,22.0L46.5,28.2L53.5,28.7L56.5,30.1L58.5,35.0L59.2,40.5L60.2,42.0L62.5,42.9L74.5,44.8L80.5,46.4L87.9,49.5L93.0,53.0L94.2,54.5L94.3,55.5L91.2,58.0L89.7,61.0L87.5,62.5L84.5,63.0ZM60.5,27.6L59.0,27.0L59.6,25.5L61.5,24.6L63.1,25.0L62.8,26.5L60.5,27.6Z" fill="#9cb7fc" fill-rule="evenodd"/><path d="M65.0,62.0L59.0,62.2L55.0,60.9L52.5,57.5L48.8,54.0L47.8,52.0L47.0,49.0L45.5,48.1L43.7,49.0L37.8,55.0L32.0,58.2L25.5,59.6L19.0,58.6L14.0,55.9L10.7,52.0L9.2,47.5L9.9,42.5L11.7,39.0L14.5,35.9L18.0,33.5L22.0,31.9L25.5,31.3L29.0,31.4L33.0,32.2L38.5,34.5L40.5,34.0L40.8,33.0L40.6,32.0L37.2,28.5L35.7,25.0L34.3,17.0L34.8,15.5L36.0,15.5L38.0,17.1L43.3,23.0L44.2,25.0L44.7,29.0L45.5,30.0L52.0,30.2L54.0,30.9L55.5,32.1L57.2,35.5L57.6,41.5L58.5,43.0L61.0,44.0L81.5,48.0L87.2,50.5L89.4,52.0L90.5,53.5L90.3,54.5L88.2,56.5L87.2,59.5L85.2,61.0L81.5,61.5L73.0,61.0L65.0,62.0Z" fill="#88c9f9" fill-rule="evenodd"/><path d="M42.5,30.8L39.5,29.8L37.0,27.0L35.7,20.5L36.0,17.7L37.0,17.8L38.5,19.0L43.0,24.0L43.6,27.5L43.1,30.0L42.5,30.8ZM65.0,61.6L59.5,61.6L56.2,60.5L55.3,59.5L54.1,56.5L50.3,52.5L49.7,47.5L49.0,46.8L47.0,46.4L45.0,46.5L43.5,47.2L38.1,53.5L32.0,57.2L25.5,58.6L22.0,58.4L19.0,57.7L14.5,55.2L11.3,51.5L10.0,47.5L10.5,43.0L12.3,39.5L15.0,36.6L18.5,34.2L22.5,32.7L26.5,32.1L30.0,32.4L33.5,33.4L38.5,35.7L40.0,35.9L41.8,35.0L43.5,32.0L50.0,31.5L52.5,31.9L54.5,33.3L55.8,35.5L56.2,38.0L55.9,43.0L57.0,44.5L66.5,46.1L81.0,49.5L83.6,50.5L85.6,52.0L85.0,54.5L84.8,58.0L83.3,59.5L80.5,60.0L73.5,60.1L65.0,61.6Z" fill="#79daf4" fill-rule="evenodd"/><path d="M41.5,29.2L39.5,28.8L37.5,26.5L36.7,22.5L37.0,20.7L37.5,20.2L40.0,21.6L42.3,24.5L42.6,27.5L41.5,29.2ZM26.0,57.5L21.5,57.3L17.5,56.0L14.0,53.5L11.8,50.5L10.8,47.0L11.2,43.5L13.0,40.0L15.5,37.3L20.5,34.3L26.0,33.1L31.5,33.7L40.0,37.2L42.0,36.8L45.0,34.4L46.5,33.9L50.5,33.8L53.0,35.2L53.9,37.0L54.1,39.5L53.5,42.0L52.5,43.5L50.5,44.5L45.5,45.2L43.2,46.0L41.5,47.4L38.1,52.0L35.5,54.1L31.0,56.4L26.0,57.5ZM65.5,61.0L60.0,61.1L57.0,59.8L56.5,59.0L56.0,55.7L53.4,53.0L52.7,51.5L52.9,49.5L54.0,48.1L56.0,47.1L59.5,46.7L63.5,46.9L68.0,47.8L77.7,51.5L80.3,53.5L81.5,55.5L81.5,57.0L80.0,58.1L65.5,61.0Z" fill="#87ebed" fill-rule="evenodd"/><path d="M41.0,28.1L39.5,27.8L38.0,26.0L37.6,23.5L38.5,22.1L40.0,22.7L41.5,24.5L41.9,26.5L41.0,28.1ZM25.0,56.5L21.0,56.2L17.0,54.7L14.0,52.3L12.2,49.5L11.6,46.5L12.2,43.0L14.0,40.0L17.0,37.2L22.0,34.8L28.0,34.1L32.5,35.0L39.5,38.3L42.0,38.2L46.5,36.7L48.5,37.3L50.7,39.0L51.2,41.0L50.3,42.5L48.5,43.5L44.0,44.6L42.0,45.5L37.5,51.0L35.0,53.2L30.0,55.6L25.0,56.5ZM65.5,60.6L61.0,60.7L58.0,59.5L57.6,58.0L58.4,55.0L56.0,51.5L56.2,50.5L57.0,49.6L61.0,48.4L66.5,49.0L74.5,52.0L76.9,53.5L78.1,55.0L78.1,56.0L76.8,57.0L65.5,60.6Z" fill="#97f8e2" fill-rule="evenodd"/><path d="M40.0,26.6L38.9,25.5L38.9,24.5L39.5,24.0L40.7,25.5L40.5,26.5L40.0,26.6ZM27.5,55.0L23.5,55.3L19.5,54.6L16.0,52.8L13.8,50.5L12.6,47.5L12.8,44.0L14.3,41.0L17.0,38.3L22.0,35.8L28.0,35.1L32.5,36.0L39.5,39.7L41.5,39.8L45.5,39.0L47.8,40.0L48.2,41.0L47.6,42.0L41.0,44.6L36.8,50.0L34.6,52.0L31.5,53.8L27.5,55.0ZM65.5,60.1L60.5,60.0L59.1,59.0L59.0,58.0L61.0,55.5L66.0,52.4L71.0,53.1L73.1,54.0L74.0,55.0L73.9,56.0L72.2,57.5L69.3,59.0L65.5,60.1Z" fill="#abfed5" fill-rule="evenodd"/><path d="M26.5,54.1L21.0,53.9L16.5,52.0L14.9,50.5L13.8,48.5L13.3,46.5L13.5,44.5L15.5,40.8L19.5,37.8L25.0,36.1L30.5,36.3L35.2,38.5L39.2,41.5L39.8,43.0L36.9,48.0L34.5,50.7L31.0,52.8L26.5,54.1ZM65.5,59.6L61.5,59.5L60.5,59.0L60.3,58.0L62.0,56.3L65.0,55.2L68.5,55.0L70.6,56.0L70.5,57.0L69.5,58.0L65.5,59.6Z" fill="#c1fcc5" fill-rule="evenodd"/><path d="M26.5,53.1L21.5,53.0L17.0,51.2L15.5,49.7L14.6,48.0L14.5,44.5L16.5,41.0L20.5,38.2L26.0,36.8L31.0,37.2L33.7,38.5L36.5,41.0L37.4,42.5L37.3,44.5L35.9,47.5L33.5,50.1L30.5,51.9L26.5,53.1ZM65.0,59.0L62.8,59.0L61.9,58.0L62.9,57.0L65.0,56.3L67.0,56.3L68.2,57.0L67.6,58.0L65.0,59.0Z" fill="#daefb1" fill-rule="evenodd"/><path d="M27.0,52.0L22.5,52.3L18.4,51.0L15.8,48.5L15.3,47.0L15.3,45.0L17.0,41.7L20.5,39.1L25.5,37.7L30.0,37.7L32.5,38.7L34.7,40.5L35.9,42.5L36.0,44.5L34.9,47.0L33.0,49.2L30.2,51.0L27.0,52.0Z" fill="#f5d69b" fill-rule="evenodd"/><path d="M27.0,51.1L22.5,51.3L19.0,50.2L16.8,48.0L16.3,45.0L18.0,42.0L21.0,39.8L25.5,38.5L30.0,38.5L32.4,39.5L33.9,41.0L34.7,42.5L34.7,44.5L34.0,46.5L32.3,48.5L30.0,50.0L27.0,51.1Z" fill="#ffb481" fill-rule="evenodd"/><path d="M27.0,50.1L23.0,50.4L19.9,49.5L17.9,47.5L17.4,46.0L17.7,44.5L19.4,42.0L22.0,40.4L26.5,39.1L30.0,39.2L31.7,40.0L33.0,41.3L33.6,43.0L33.5,44.5L32.6,46.5L31.3,48.0L27.0,50.1Z" fill="#ff8866" fill-rule="evenodd"/><path d="M27.0,49.1L23.5,49.4L20.5,48.5L19.0,46.8L19.0,44.5L20.4,42.5L22.9,41.0L27.0,39.8L30.0,40.0L32.0,41.5L32.5,43.0L32.3,44.5L30.5,47.2L27.0,49.1Z" fill="#ff5b4c" fill-rule="evenodd"/></g>
</g></g>
<rect x="199.6" y="490.8" width="105.5" height="102.6" fill="none" stroke="#1a1a1a" stroke-width="1.2"/>
<g transform="translate(199.6,490.8)">
<path d="M9.1,41.3C10.1,39.0 12.2,37.2 14.8,35.5C17.4,33.8 21.3,32.1 24.4,31.2C27.4,30.2 30.7,29.2 33.1,29.8C35.5,30.4 37.5,32.5 38.9,34.6C40.3,36.7 41.4,39.6 41.7,42.3C42.0,45.0 41.8,48.2 40.8,50.9C39.8,53.6 38.1,57.0 36.0,58.6C33.9,60.2 31.0,60.4 28.3,60.5C25.6,60.6 22.2,60.1 19.6,59.1C17.0,58.1 14.7,56.5 12.9,54.8C11.2,53.1 9.7,51.2 9.1,49.0C8.5,46.8 8.1,43.5 9.1,41.3Z" fill="none" stroke="#222" stroke-width="1.1" stroke-dasharray="2.3,1.5"/>
<path d="M24.3,23.4Q26.5,12 32.6,7.2" fill="none" stroke="#2f4fe0" stroke-width="1.3"/>
<path d="M34.2,5.4L30.0,7.6L33.6,10.1Z" fill="#2f4fe0"/>
<path d="M49.7,46.7Q59,46.5 64.8,40" fill="none" stroke="#1e9e1e" stroke-width="1.3"/>
<path d="M66.8,37.8L62.3,39.2L65.4,42.3Z" fill="#1e9e1e"/>
<path d="M35.9,65.8Q55,81 83,74.2" fill="none" stroke="#f02a2a" stroke-width="1.3"/>
<path d="M86.0,73.2L81.4,71.9L82.3,76.2Z" fill="#f02a2a"/>
<text x="21.1" y="11.5" font-size="8.3" fill="#3a4ae0" text-anchor="middle" textLength="13.01" lengthAdjust="spacingAndGlyphs" stroke="#3a4ae0" stroke-width="0.12">LyP</text>
<text x="79.3" y="41.2" font-size="8.3" fill="#2aa02a" text-anchor="middle" textLength="15.44" lengthAdjust="spacingAndGlyphs" stroke="#2aa02a" stroke-width="0.12">MyP</text>
<text x="63.4" y="87.7" font-size="8.3" fill="#f02a2a" text-anchor="middle" textLength="28.31" lengthAdjust="spacingAndGlyphs" stroke="#f02a2a" stroke-width="0.12">MEMBP</text>
<rect x="-9.5" y="23" width="19" height="19" fill="#fff"/>
<text x="-0.6" y="31.1" font-size="8.3" fill="#222" text-anchor="middle" textLength="18.44" lengthAdjust="spacingAndGlyphs" stroke="#222" stroke-width="0.12">HSC/</text>
<text x="-0.6" y="40.6" font-size="8.3" fill="#222" text-anchor="middle" textLength="16.73" lengthAdjust="spacingAndGlyphs" stroke="#222" stroke-width="0.12">MPP</text>
</g>
<clipPath id="fc3"><rect x="369.4" y="491.2" width="105.5" height="102.6"/></clipPath>
<g clip-path="url(#fc3)"><g transform="translate(369.4,491.2)">
<path d="M8.1 98.1h0M4.0 95.1h0M7.8 91.9h0M5.0 96.0h0M4.8 97.2h0M5.6 96.0h0M5.4 96.0h0M3.8 95.5h0M29.1 58.6h0M21.8 71.8h0M30.5 60.2h0M4.6 94.3h0M30.2 59.2h0M23.5 67.8h0M5.8 97.8h0M31.9 59.9h0M31.1 60.1h0M31.2 60.6h0M25.2 61.5h0M4.6 96.8h0M31.4 58.9h0M34.1 61.6h0M19.2 81.3h0M29.9 59.0h0M4.5 99.2h0M28.1 60.8h0M3.1 99.2h0M30.2 56.3h0M18.5 80.9h0M7.4 92.4h0M28.3 56.8h0M17.9 84.1h0M16.9 83.3h0M21.8 66.2h0M6.2 96.6h0M14.1 85.4h0M12.7 80.0h0M11.2 90.9h0M6.0 96.5h0M6.0 96.8h0M9.5 89.4h0M31.5 64.2h0M26.6 61.2h0M24.7 62.5h0M32.9 59.4h0M29.5 59.5h0M6.5 97.9h0M8.3 97.5h0M28.9 60.6h0M9.5 89.3h0M27.1 62.4h0M8.8 93.4h0M6.1 94.8h0M14.5 82.9h0M5.6 96.7h0M19.8 71.1h0M25.5 60.6h0M6.3 95.4h0M6.4 97.5h0M8.2 89.7h0" stroke="#c4acff" stroke-width="0.8" stroke-linecap="round" fill="none"/>
<path d="M28.5,57.6C23.9,63.5 8.4,89.4 4.6,96.0C0.8,102.5 1.1,102.8 5.8,96.8C10.5,90.9 28.9,66.9 32.7,60.4C36.5,53.9 33.2,51.7 28.5,57.6Z" fill="#efe6ff" filter="url(#bl6)"/>
<path d="M48.7 15.7h0M49.5 27.8h0M50.3 29.3h0M49.9 30.2h0M57.4 33.8h0M55.2 34.5h0M59.9 29.7h0M44.5 26.2h0M54.9 28.5h0M54.1 31.0h0M59.8 31.5h0M60.3 27.8h0M57.7 33.2h0M59.4 30.1h0M59.3 24.8h0M49.0 27.6h0M46.7 14.1h0M45.1 15.1h0M43.1 20.7h0M46.6 29.3h0M54.2 31.9h0M40.6 14.5h0M38.5 18.3h0M41.8 16.7h0M47.7 12.8h0M44.7 13.1h0M56.1 21.3h0M42.6 14.2h0M57.2 27.4h0M59.7 22.8h0M59.8 26.4h0M39.3 14.8h0M39.0 17.2h0M60.4 29.1h0M47.4 28.5h0M46.7 25.3h0M44.2 11.7h0M54.2 18.0h0M44.7 25.7h0M46.5 11.4h0M58.0 30.1h0M56.4 29.0h0M45.0 23.0h0M39.6 13.0h0M55.8 22.2h0M42.9 25.9h0M46.3 17.8h0M61.9 34.0h0M42.4 18.1h0M58.5 29.0h0M44.7 16.0h0M58.1 24.2h0M48.0 29.1h0M58.5 31.3h0M55.8 19.3h0M55.1 33.1h0M61.1 35.1h0M52.8 18.1h0M58.9 32.7h0M53.9 33.6h0M60.4 32.0h0M50.0 26.0h0M49.1 30.2h0M45.4 28.3h0M52.2 20.2h0M43.2 18.8h0M61.6 30.9h0M57.2 30.1h0M59.0 30.3h0M43.4 13.2h0" stroke="#cbbbff" stroke-width="0.8" stroke-linecap="round" fill="none"/>
<path d="M40.0,14.0C40.3,11.7 45.0,12.7 48.0,14.0C51.0,15.3 55.7,19.3 58.0,22.0C60.3,24.7 62.5,28.2 62.0,30.0C61.5,31.8 57.7,33.3 55.0,33.0C52.3,32.7 48.5,31.2 46.0,28.0C43.5,24.8 39.7,16.3 40.0,14.0Z" fill="#bca8f8" filter="url(#bl6)"/>
<path d="M95.1 44.4h0M63.9 49.1h0M73.4 56.9h0M81.6 40.1h0M94.7 52.3h0M102.0 53.5h0M85.1 44.5h0M63.9 48.3h0M99.8 50.6h0M94.8 51.9h0M78.9 39.8h0M73.3 51.8h0M86.7 54.1h0M81.8 52.8h0M82.7 41.4h0M79.4 55.5h0M85.2 56.9h0M97.1 54.4h0M59.5 41.6h0M83.0 53.4h0M73.2 52.7h0M99.9 52.4h0M82.7 41.3h0M80.9 45.6h0M67.8 52.1h0M99.0 52.5h0M68.3 52.1h0M100.5 48.6h0M60.5 44.0h0M96.9 53.7h0M70.9 40.5h0M90.2 48.7h0M69.3 52.3h0M91.0 47.1h0M68.8 51.6h0M84.0 56.1h0M80.2 52.7h0M57.4 42.5h0M62.5 44.3h0M72.0 52.8h0M74.4 38.2h0M78.8 41.5h0M72.1 39.6h0M91.4 56.2h0M65.6 47.8h0M95.9 55.5h0M69.3 50.6h0M96.3 48.2h0M89.5 52.1h0M91.1 44.1h0M73.6 40.5h0M85.3 41.8h0M59.4 43.5h0M58.1 47.9h0M87.7 52.1h0M93.7 56.5h0M74.7 40.1h0M93.3 48.5h0M61.1 45.6h0M67.6 50.2h0M83.4 41.2h0M95.4 52.7h0M84.4 44.3h0M66.7 39.9h0M76.2 40.0h0M64.2 47.5h0M76.0 58.4h0M99.9 57.5h0M56.3 39.7h0M71.3 36.1h0" stroke="#cbbbff" stroke-width="0.8" stroke-linecap="round" fill="none"/>
<path d="M58.0,38.0C59.7,36.5 65.8,36.2 70.0,37.0C74.2,37.8 78.4,40.2 83.5,42.5C88.6,44.8 97.9,49.0 100.4,50.9C102.9,52.8 101.1,53.2 98.3,54.1C95.5,55.0 88.4,56.6 83.5,56.2C78.6,55.9 72.6,53.7 68.7,52.0C64.8,50.3 61.8,48.3 60.0,46.0C58.2,43.7 56.3,39.5 58.0,38.0Z" fill="#bca8f8" filter="url(#bl6)"/>
<path d="M82.6 62.9h0M44.2 60.8h0M39.6 59.5h0M60.2 63.8h0M34.4 55.6h0M60.4 45.5h0M36.4 47.1h0M65.7 63.1h0M81.1 51.5h0M59.4 61.5h0M36.0 59.2h0M79.5 48.6h0M42.2 44.5h0M77.4 53.0h0M41.1 57.7h0M89.8 55.8h0M51.4 43.6h0M51.1 65.5h0M87.3 61.0h0M42.1 43.1h0M82.9 60.7h0M75.4 46.7h0M80.5 47.1h0M66.3 62.5h0M62.4 64.2h0M47.8 43.3h0M83.0 59.8h0M53.6 43.9h0M71.4 61.4h0M74.3 46.8h0M49.4 59.4h0M89.3 59.8h0M75.1 65.4h0M51.5 62.9h0M86.0 54.3h0M52.8 44.2h0M78.5 63.2h0M49.8 42.1h0M37.8 46.3h0M56.7 61.4h0M71.1 62.4h0M37.1 46.9h0M87.8 53.9h0M59.2 44.4h0M34.1 52.9h0M85.7 56.6h0M49.0 60.4h0M35.8 56.6h0M37.7 58.5h0M68.9 47.2h0M47.5 60.0h0M41.8 61.2h0M40.5 46.3h0M44.1 45.6h0M52.9 45.4h0M39.4 59.3h0M69.7 44.7h0M87.7 52.6h0M40.5 59.8h0M48.6 44.3h0M86.3 58.0h0M45.3 59.4h0M53.5 65.3h0M73.5 63.4h0M80.6 51.4h0M35.1 47.5h0M84.0 51.0h0M68.7 43.7h0M46.0 60.1h0M89.3 53.6h0" stroke="#cbbbff" stroke-width="0.8" stroke-linecap="round" fill="none"/>
<path d="M35.9,47.8C37.9,45.1 44.2,42.9 49.7,42.5C55.2,42.1 62.4,43.9 68.7,45.7C75.0,47.5 85.0,50.6 87.8,53.1C90.6,55.6 88.8,58.8 85.6,60.5C82.4,62.2 74.7,63.2 68.7,63.6C62.7,64.0 54.8,63.5 49.7,62.6C44.6,61.7 40.3,60.9 38.0,58.4C35.7,55.9 33.9,50.4 35.9,47.8Z" fill="#bca8f8" filter="url(#bl6)"/>
<path d="M47.7 46.4h0M51.0 42.6h0M46.2 49.4h0M48.9 44.7h0M45.0 44.8h0M46.2 44.2h0M56.8 34.2h0M52.9 25.0h0M53.6 47.3h0M53.9 43.3h0M40.3 38.3h0M60.5 34.4h0M51.5 22.9h0M44.0 26.5h0M46.8 44.5h0M56.4 33.2h0M57.7 35.9h0M51.8 28.6h0M40.6 33.1h0M57.8 38.6h0M54.0 44.7h0M62.5 32.5h0M56.8 43.3h0M45.3 45.9h0M42.0 26.7h0M41.7 34.9h0M41.8 44.1h0M49.6 27.9h0M50.1 27.2h0M45.0 25.6h0M54.5 28.9h0M47.7 47.1h0M53.3 26.8h0M56.5 43.5h0M55.0 27.1h0M41.7 40.5h0M50.6 42.8h0M55.2 45.8h0M40.7 38.9h0M46.1 46.4h0M56.9 38.6h0M46.7 29.2h0M44.9 35.6h0M53.3 27.5h0M49.9 46.6h0M57.0 44.6h0M43.6 45.3h0M45.1 26.8h0M40.8 34.8h0M53.9 26.2h0M53.1 25.8h0M62.8 35.4h0M46.1 28.0h0M51.5 46.0h0M54.8 43.5h0M56.7 32.8h0M53.3 46.1h0M56.7 30.0h0M40.2 40.1h0M42.8 40.7h0M46.6 46.6h0M58.9 40.9h0M47.3 43.3h0M58.3 44.6h0M46.5 47.5h0M42.3 44.1h0M54.3 41.1h0M57.0 30.6h0M57.5 36.7h0M43.0 30.7h0" stroke="#cbbbff" stroke-width="0.8" stroke-linecap="round" fill="none"/>
<path d="M41.2,28.0C42.5,25.3 47.4,25.7 50.0,26.0C52.6,26.3 55.6,28.0 57.0,30.0C58.4,32.0 58.8,35.5 58.5,38.0C58.2,40.5 56.9,43.7 55.0,45.0C53.1,46.3 49.2,46.5 47.0,46.0C44.8,45.5 43.0,45.0 42.0,42.0C41.0,39.0 39.9,30.7 41.2,28.0Z" fill="#bca8f8" filter="url(#bl6)"/>
<path d="M33.9 6.6h0M27.3 27.8h0M34.8 32.4h0M38.9 6.1h0M22.7 28.6h0M40.2 2.6h0M45.8 17.4h0M46.1 29.4h0M41.7 11.3h0M39.8 9.0h0M47.5 26.7h0M46.1 20.6h0M34.8 30.1h0M28.8 32.0h0M49.7 26.7h0M46.6 20.8h0M40.3 11.3h0M32.0 15.5h0M47.2 18.2h0M38.7 29.8h0M21.2 33.1h0M38.3 7.2h0M40.4 33.9h0M38.1 6.2h0M45.2 32.0h0M47.7 29.0h0M26.1 20.3h0M20.3 30.0h0M30.0 25.2h0M28.8 15.1h0M38.8 6.9h0M34.0 12.4h0M37.0 11.3h0M46.8 22.3h0M42.7 30.5h0M48.3 27.2h0M35.6 31.3h0M36.1 29.1h0M40.4 15.5h0M50.4 26.8h0M45.9 20.3h0M34.2 34.5h0M38.4 7.8h0M35.9 31.8h0M41.4 11.3h0M41.4 11.1h0M24.8 29.6h0M26.9 32.3h0M32.7 27.1h0M32.6 30.5h0M34.8 10.1h0M53.0 25.8h0M41.9 33.4h0M35.8 3.6h0M26.8 14.1h0M31.9 29.7h0M46.7 28.7h0M39.0 8.6h0M46.7 19.3h0M48.4 25.3h0M31.0 17.3h0M36.2 5.0h0M35.4 31.3h0M43.7 15.9h0M30.5 20.1h0M37.0 7.1h0M47.7 22.6h0M25.8 30.2h0M30.1 32.4h0M40.7 16.2h0" stroke="#cbbbff" stroke-width="0.8" stroke-linecap="round" fill="none"/>
<path d="M23.2,31.5C22.7,29.3 27.9,21.8 30.0,18.0C32.0,14.2 34.1,10.8 35.5,8.5C36.9,6.2 37.4,4.2 38.2,4.4C39.0,4.7 39.5,7.7 40.5,10.0C41.5,12.3 43.0,15.2 44.5,18.0C46.0,20.8 50.1,24.3 49.7,26.6C49.3,28.9 44.8,31.3 42.0,32.0C39.2,32.7 36.1,31.1 33.0,31.0C29.9,30.9 23.7,33.7 23.2,31.5Z" fill="#bca8f8" filter="url(#bl6)"/>
<path d="M15.7 55.5h0M11.5 51.6h0M40.2 48.5h0M34.5 34.9h0M16.3 49.8h0M39.7 39.9h0M30.1 58.2h0M31.6 30.5h0M12.4 54.6h0M12.5 53.2h0M40.2 41.4h0M30.3 63.4h0M33.5 53.6h0M35.2 56.6h0M38.2 36.1h0M42.2 39.6h0M13.3 42.8h0M21.7 35.7h0M37.2 55.2h0M40.2 50.0h0M12.5 42.7h0M16.3 37.5h0M35.4 30.9h0M9.6 45.7h0M28.8 32.1h0M13.7 56.2h0M37.0 51.8h0M13.1 53.8h0M35.1 53.7h0M11.0 38.3h0M11.0 51.5h0M35.2 36.2h0M22.0 31.9h0M20.6 56.9h0M33.5 56.8h0M37.5 58.2h0M20.3 38.7h0M13.1 53.2h0M22.8 59.2h0M30.3 60.2h0M36.9 55.1h0M28.2 54.9h0M27.4 31.6h0M12.3 48.3h0M8.9 53.0h0M36.6 32.2h0M26.3 56.4h0M19.7 58.8h0M12.2 44.0h0M16.9 56.4h0M11.9 39.2h0M33.2 56.5h0M19.8 58.0h0M13.3 53.7h0M40.1 45.2h0M41.0 40.1h0M26.0 33.1h0M36.4 53.6h0M38.3 57.7h0M16.4 58.1h0M19.3 56.1h0M37.9 55.6h0M32.2 56.7h0M37.5 37.6h0M35.6 39.8h0M31.6 61.6h0M7.9 42.0h0M27.3 54.9h0M35.9 52.9h0M40.8 45.4h0" stroke="#cbbbff" stroke-width="0.8" stroke-linecap="round" fill="none"/>
<path d="M11.0,42.0C11.8,40.2 13.7,38.5 16.0,37.0C18.3,35.5 22.2,33.9 25.0,33.0C27.8,32.1 30.8,31.1 33.0,31.5C35.2,31.9 37.2,33.7 38.5,35.5C39.8,37.3 40.8,40.0 41.0,42.5C41.2,45.0 40.9,48.1 40.0,50.5C39.1,52.9 37.5,55.6 35.5,57.0C33.5,58.4 30.6,58.9 28.0,59.0C25.4,59.1 22.3,58.4 20.0,57.5C17.7,56.6 15.5,55.1 14.0,53.5C12.5,51.9 11.5,49.9 11.0,48.0C10.5,46.1 10.2,43.8 11.0,42.0Z" fill="#bca8f8" filter="url(#bl6)"/>
<path d="M53.2,37.9C57.7,35.6 75.1,25.2 79.4,22.6C83.7,20.0 83.7,19.9 79.2,22.2C74.7,24.5 56.7,33.9 52.4,36.5C48.1,39.1 48.7,40.2 53.2,37.9Z" fill="#bca8f8" filter="url(#bl6)"/>
<path d="M54.4,31.5C55.9,30.4 61.7,25.4 63.1,24.1C64.5,22.9 64.5,22.8 62.9,23.9C61.3,24.9 55.1,29.3 53.6,30.5C52.2,31.8 52.8,32.5 54.4,31.5Z" fill="#bca8f8" filter="url(#bl6)"/>
<path d="M53.1,61.5C55.4,63.7 65.8,70.7 68.5,72.4C71.1,74.1 71.2,73.9 68.9,71.8C66.6,69.6 57.3,61.2 54.7,59.5C52.1,57.8 50.8,59.4 53.1,61.5Z" fill="#bca8f8" filter="url(#bl6)"/>
<path d="M61.8,32.0C64.8,32.7 76.9,34.0 80.0,34.3C83.0,34.6 83.0,34.4 80.0,33.7C77.1,33.0 65.2,30.3 62.2,30.0C59.1,29.7 58.9,31.3 61.8,32.0Z" fill="#bca8f8" filter="url(#bl6)"/>
<g filter="url(#bl10)"><path d="M88.0,64.5L78.0,63.8L53.5,58.6L49.5,57.4L44.5,54.7L42.5,55.2L33.5,60.3L27.0,61.6L23.0,61.4L19.0,60.4L15.5,58.5L12.6,56.0L10.3,52.5L9.1,49.0L8.9,45.5L9.8,41.5L11.9,37.5L15.5,33.7L19.5,31.2L26.6,28.5L27.5,27.3L29.1,23.0L32.1,20.0L32.4,17.5L30.9,6.5L31.1,3.5L31.9,2.0L33.0,2.0L34.5,3.4L37.3,8.5L42.1,20.5L42.4,26.0L42.9,27.0L44.5,27.4L50.0,27.2L53.0,28.8L55.0,31.0L55.3,32.5L54.7,34.0L49.7,38.0L49.6,40.0L50.5,41.9L52.5,42.9L60.5,43.7L69.5,45.6L76.0,45.6L79.5,46.0L85.0,47.8L91.0,50.8L95.1,54.0L96.2,55.5L96.3,56.5L94.6,59.0L94.2,61.5L93.2,63.0L91.1,64.0L88.0,64.5ZM50.5,25.1L49.0,25.1L47.0,24.1L45.6,22.5L45.0,20.5L45.3,18.5L46.1,17.0L47.5,15.7L49.5,15.1L51.5,15.3L53.0,16.1L54.3,17.5L54.9,19.5L54.7,21.5L53.9,23.0L52.5,24.3L50.5,25.1Z" fill="#9d8efe" fill-rule="evenodd"/><path d="M87.0,62.0L83.0,62.5L77.5,62.0L55.5,57.3L50.5,55.5L45.5,51.6L43.5,52.4L37.0,57.2L32.5,59.3L27.0,60.4L21.5,59.9L16.2,57.5L12.3,53.5L10.3,48.5L10.6,43.0L12.3,39.0L15.0,35.7L19.5,32.6L27.5,29.5L28.7,28.0L30.2,24.0L33.2,21.5L33.6,19.0L32.1,8.5L32.5,5.9L33.5,5.3L34.5,6.0L36.0,8.2L39.2,16.5L40.4,21.0L40.5,27.0L41.0,28.0L42.5,28.7L50.0,29.2L52.0,30.0L53.4,31.5L53.6,32.5L52.9,34.0L48.2,37.0L47.5,38.0L48.1,45.5L49.0,45.8L55.5,45.2L60.0,45.6L76.5,50.7L78.0,50.7L80.5,49.0L85.3,50.0L88.7,52.0L89.8,53.5L87.5,55.5L89.2,60.0L88.5,61.3L87.0,62.0Z" fill="#85a6fb" fill-rule="evenodd"/><path d="M29.5,59.0L26.0,59.4L22.5,59.0L19.0,57.8L16.1,56.0L13.6,53.5L12.2,51.0L11.3,48.0L11.3,45.0L12.6,40.5L15.7,36.5L20.0,33.5L28.1,30.5L29.5,29.0L31.1,25.0L34.4,23.0L34.6,20.0L33.2,11.0L33.3,9.0L34.0,8.2L35.5,9.5L37.0,12.5L38.7,17.5L39.4,21.5L39.0,25.4L38.0,26.4L36.0,27.1L35.6,28.5L36.0,29.5L37.0,30.0L40.0,29.4L48.5,29.7L51.5,30.9L52.4,32.5L51.5,34.0L46.9,36.5L46.1,37.5L46.7,43.0L44.7,48.5L43.4,50.5L40.0,53.8L36.5,56.3L33.0,58.0L29.5,59.0ZM82.5,60.1L79.5,60.3L75.5,59.9L55.5,55.9L52.1,54.5L50.2,53.0L49.1,51.0L49.2,49.5L50.7,48.0L54.0,47.0L58.0,47.0L62.0,47.9L81.3,56.0L83.8,58.5L83.6,59.5L82.5,60.1Z" fill="#6cbcf7" fill-rule="evenodd"/><path d="M37.5,23.3L36.4,22.5L35.0,17.5L34.3,13.0L34.5,11.5L35.0,11.4L36.5,13.6L38.0,18.4L38.2,22.0L37.5,23.3ZM29.0,58.1L24.5,58.2L20.5,57.3L17.0,55.4L14.2,52.5L12.6,49.0L12.2,45.5L13.0,42.0L15.0,38.7L17.1,36.5L20.0,34.6L29.0,31.3L30.5,30.0L32.5,26.7L33.1,27.0L34.4,30.5L36.0,31.5L37.5,31.4L40.5,30.4L45.5,30.0L48.5,30.3L50.5,31.3L51.2,32.5L50.8,33.5L45.9,36.0L44.8,37.0L44.7,38.5L45.8,41.5L45.8,43.0L41.9,50.5L39.5,53.0L36.0,55.5L32.5,57.1L29.0,58.1ZM74.5,57.1L65.7,56.5L57.0,55.0L52.9,53.0L51.8,51.5L51.8,50.5L53.0,49.2L55.0,48.6L60.5,49.1L73.1,55.0L75.1,56.5L74.5,57.1Z" fill="#58d1f1" fill-rule="evenodd"/><path d="M30.0,56.6L26.0,56.9L22.0,56.3L18.5,54.8L15.9,52.5L14.1,49.5L13.5,46.0L14.1,42.5L15.8,39.5L18.0,37.3L21.0,35.4L31.5,31.9L36.5,33.0L40.5,31.4L43.5,30.8L47.0,30.7L49.3,31.5L49.9,32.5L49.4,33.5L44.5,35.5L43.4,36.5L43.4,38.0L44.9,41.5L45.0,43.0L40.8,50.0L36.0,54.2L30.0,56.6ZM61.5,53.0L60.0,53.3L58.1,53.0L57.0,52.3L56.8,51.5L59.7,51.5L61.4,52.5L61.5,53.0Z" fill="#6ae6e8" fill-rule="evenodd"/><path d="M30.5,55.1L26.5,55.5L23.0,55.0L19.5,53.6L17.0,51.5L15.4,49.0L14.8,46.0L15.3,43.0L17.0,40.0L20.5,37.0L25.0,35.2L31.5,33.9L38.0,34.5L39.3,34.0L41.5,32.1L44.0,31.4L46.5,31.4L48.2,32.0L48.5,32.5L47.8,33.5L41.7,35.5L41.8,37.0L44.3,42.5L40.0,49.3L36.0,52.8L30.5,55.1Z" fill="#7df6db" fill-rule="evenodd"/><path d="M29.5,53.6L26.5,53.7L23.5,53.2L21.0,52.2L18.7,50.5L17.3,48.5L16.6,46.0L16.8,43.5L17.7,41.5L19.5,39.5L21.5,38.1L26.5,36.3L32.5,35.7L37.5,36.4L39.5,37.1L43.1,41.0L43.6,42.5L43.2,43.5L36.5,50.9L33.0,52.7L29.5,53.6Z" fill="#95feca" fill-rule="evenodd"/><path d="M31.5,51.6L28.5,52.0L25.5,51.7L22.5,50.8L20.5,49.5L18.9,47.5L18.3,45.5L18.7,43.0L20.0,41.0L22.0,39.3L24.5,38.2L31.0,37.2L38.0,38.1L42.0,40.6L42.9,42.5L42.0,44.0L36.0,49.7L31.5,51.6Z" fill="#b1fbb5" fill-rule="evenodd"/><path d="M30.5,50.5L25.5,50.3L23.0,49.3L21.3,48.0L20.2,46.5L19.8,44.5L20.2,43.0L21.5,41.2L25.5,39.0L31.0,38.4L38.0,39.2L40.5,40.3L41.9,41.5L42.2,42.5L41.7,43.5L36.0,48.3L33.5,49.7L30.5,50.5Z" fill="#d0eb9c" fill-rule="evenodd"/><path d="M30.5,49.5L26.0,49.3L22.5,47.5L21.2,45.0L21.3,43.5L22.2,42.0L25.5,40.0L30.0,39.3L37.5,39.9L41.1,41.5L41.5,42.5L40.5,43.9L34.0,48.4L30.5,49.5Z" fill="#f2cb7f" fill-rule="evenodd"/><path d="M31.5,48.5L27.5,48.7L24.2,47.5L22.5,45.5L22.8,43.0L25.5,40.8L29.5,40.0L37.5,40.5L39.5,41.1L40.6,42.0L40.6,43.0L40.0,43.6L33.5,47.7L31.5,48.5Z" fill="#ff9f5f" fill-rule="evenodd"/><path d="M29.5,48.0L26.5,47.6L24.5,46.5L23.5,44.5L24.5,42.5L27.0,41.1L30.5,40.6L37.0,40.9L39.7,42.0L39.7,43.0L39.0,43.6L32.5,47.3L29.5,48.0Z" fill="#ff673b" fill-rule="evenodd"/><path d="M30.5,47.1L27.5,47.1L25.5,46.1L24.7,44.5L25.3,43.0L27.5,41.7L30.5,41.1L36.0,41.2L38.8,42.0L39.0,42.5L38.1,43.5L30.5,47.1Z" fill="#ff2d19" fill-rule="evenodd"/></g>
</g></g>
<rect x="369.4" y="491.2" width="105.5" height="102.6" fill="none" stroke="#1a1a1a" stroke-width="1.2"/>
<g transform="translate(369.4,491.2)">
<path d="M9.1,41.3C10.1,39.0 12.2,37.2 14.8,35.5C17.4,33.8 21.3,32.1 24.4,31.2C27.4,30.2 30.7,29.2 33.1,29.8C35.5,30.4 37.5,32.5 38.9,34.6C40.3,36.7 41.4,39.6 41.7,42.3C42.0,45.0 41.8,48.2 40.8,50.9C39.8,53.6 38.1,57.0 36.0,58.6C33.9,60.2 31.0,60.4 28.3,60.5C25.6,60.6 22.2,60.1 19.6,59.1C17.0,58.1 14.7,56.5 12.9,54.8C11.2,53.1 9.7,51.2 9.1,49.0C8.5,46.8 8.1,43.5 9.1,41.3Z" fill="none" stroke="#222" stroke-width="1.1" stroke-dasharray="2.3,1.5"/>
<path d="M24.3,23.4Q26.5,12 32.6,7.2" fill="none" stroke="#2f4fe0" stroke-width="1.3"/>
<path d="M34.2,5.4L30.0,7.6L33.6,10.1Z" fill="#2f4fe0"/>
<path d="M49.7,46.7Q59,46.5 64.8,40" fill="none" stroke="#1e9e1e" stroke-width="1.3"/>
<path d="M66.8,37.8L62.3,39.2L65.4,42.3Z" fill="#1e9e1e"/>
<path d="M35.9,65.8Q55,81 83,74.2" fill="none" stroke="#f02a2a" stroke-width="1.3"/>
<path d="M86.0,73.2L81.4,71.9L82.3,76.2Z" fill="#f02a2a"/>
<text x="21.1" y="11.5" font-size="8.3" fill="#3a4ae0" text-anchor="middle" textLength="13.01" lengthAdjust="spacingAndGlyphs" stroke="#3a4ae0" stroke-width="0.12">LyP</text>
<text x="79.3" y="41.2" font-size="8.3" fill="#2aa02a" text-anchor="middle" textLength="15.44" lengthAdjust="spacingAndGlyphs" stroke="#2aa02a" stroke-width="0.12">MyP</text>
<text x="63.4" y="87.7" font-size="8.3" fill="#f02a2a" text-anchor="middle" textLength="28.31" lengthAdjust="spacingAndGlyphs" stroke="#f02a2a" stroke-width="0.12">MEMBP</text>
<rect x="-9.5" y="23" width="19" height="19" fill="#fff"/>
<text x="-0.6" y="31.1" font-size="8.3" fill="#222" text-anchor="middle" textLength="18.44" lengthAdjust="spacingAndGlyphs" stroke="#222" stroke-width="0.12">HSC/</text>
<text x="-0.6" y="40.6" font-size="8.3" fill="#222" text-anchor="middle" textLength="16.73" lengthAdjust="spacingAndGlyphs" stroke="#222" stroke-width="0.12">MPP</text>
</g>
<text x="252.5" y="488.4" font-size="10" fill="#111" text-anchor="middle" stroke="#111" stroke-width="0.12">BM</text>
<text x="422.2" y="488.4" font-size="10" fill="#111" text-anchor="middle" stroke="#111" stroke-width="0.12">SPL</text>
<circle cx="132.1" cy="490.3" r="1.6" fill="#1f77b4"/>
<text x="137.2" y="492.7" font-size="6.7" fill="#222" text-anchor="start" stroke="#222" stroke-width="0.08">0 HSC/MPP</text>
<circle cx="132.1" cy="497.1" r="1.6" fill="#ff7f0e"/>
<text x="137.2" y="499.5" font-size="6.7" fill="#222" text-anchor="start" stroke="#222" stroke-width="0.08">1 MEP</text>
<circle cx="132.1" cy="504.0" r="1.6" fill="#279e68"/>
<text x="137.2" y="506.4" font-size="6.7" fill="#222" text-anchor="start" stroke="#222" stroke-width="0.08">2 LyP</text>
<circle cx="132.1" cy="510.8" r="1.6" fill="#d62728"/>
<text x="137.2" y="513.2" font-size="6.7" fill="#222" text-anchor="start" stroke="#222" stroke-width="0.08">3 EryP</text>
<circle cx="132.1" cy="517.7" r="1.6" fill="#aa40fc"/>
<text x="137.2" y="520.1" font-size="6.7" fill="#222" text-anchor="start" stroke="#222" stroke-width="0.08">4 MyP</text>
<circle cx="132.1" cy="524.5" r="1.6" fill="#8c564b"/>
<text x="137.2" y="526.9" font-size="6.7" fill="#222" text-anchor="start" stroke="#222" stroke-width="0.08">5 HSC/MPP</text>
<circle cx="132.1" cy="531.3" r="1.6" fill="#e377c2"/>
<text x="137.2" y="533.7" font-size="6.7" fill="#222" text-anchor="start" stroke="#222" stroke-width="0.08">6 MPP-My</text>
<circle cx="132.1" cy="538.2" r="1.6" fill="#b5bd61"/>
<text x="137.2" y="540.6" font-size="6.7" fill="#222" text-anchor="start" stroke="#222" stroke-width="0.08">7 HSC/MPP</text>
<circle cx="132.1" cy="545.0" r="1.6" fill="#17becf"/>
<text x="137.2" y="547.4" font-size="6.7" fill="#222" text-anchor="start" stroke="#222" stroke-width="0.08">8 MyP/MDP</text>
<circle cx="132.1" cy="551.9" r="1.6" fill="#aec7e8"/>
<text x="137.2" y="554.3" font-size="6.7" fill="#222" text-anchor="start" stroke="#222" stroke-width="0.08">9 HSC/MPP</text>
<circle cx="132.1" cy="558.7" r="1.6" fill="#ffbb78"/>
<text x="137.2" y="561.1" font-size="6.7" fill="#222" text-anchor="start" stroke="#222" stroke-width="0.08">10 HSC/MPP</text>
<circle cx="132.1" cy="565.5" r="1.6" fill="#98df8a"/>
<text x="137.2" y="567.9" font-size="6.7" fill="#222" text-anchor="start" stroke="#222" stroke-width="0.08">11 MyP</text>
<circle cx="132.1" cy="572.4" r="1.6" fill="#ff9896"/>
<text x="137.2" y="574.8" font-size="6.7" fill="#222" text-anchor="start" stroke="#222" stroke-width="0.08">12 MkP</text>
<circle cx="132.1" cy="579.2" r="1.6" fill="#c5b0d5"/>
<text x="137.2" y="581.6" font-size="6.7" fill="#222" text-anchor="start" stroke="#222" stroke-width="0.08">13 MEP</text>
<circle cx="132.1" cy="586.1" r="1.6" fill="#c49c94"/>
<text x="137.2" y="588.5" font-size="6.7" fill="#222" text-anchor="start" stroke="#222" stroke-width="0.08">14 MEP</text>
<circle cx="132.1" cy="592.9" r="1.6" fill="#f7b6d2"/>
<text x="137.2" y="595.3" font-size="6.7" fill="#222" text-anchor="start" stroke="#222" stroke-width="0.08">15 ND</text>
<path d="M18.3,584.5V598.2H31.6" fill="none" stroke="#111" stroke-width="1.1"/>
<text x="15.6" y="591.2" font-size="8.6" fill="#222" text-anchor="middle" textLength="13.46" lengthAdjust="spacingAndGlyphs" transform="rotate(-90 15.6 591.2)" stroke="#222" stroke-width="0.12">FA2</text>
<text x="24.8" y="607.2" font-size="8.6" fill="#222" text-anchor="middle" textLength="13.46" lengthAdjust="spacingAndGlyphs" stroke="#222" stroke-width="0.12">FA1</text>
<defs><linearGradient id="fcb2" x1="0" y1="1" x2="0" y2="0"><stop offset="0.0" stop-color="#b061ff"/><stop offset="0.1" stop-color="#9092fd"/><stop offset="0.2" stop-color="#70bef8"/><stop offset="0.3" stop-color="#70e1ee"/><stop offset="0.4" stop-color="#91f8e1"/><stop offset="0.5" stop-color="#b0ffd0"/><stop offset="0.6" stop-color="#cff8be"/><stop offset="0.7" stop-color="#efe1a9"/><stop offset="0.8" stop-color="#ffbe92"/><stop offset="0.9" stop-color="#ff927a"/><stop offset="1.0" stop-color="#ff6161"/></linearGradient></defs>
<rect x="308.1" y="499.2" width="2.6" height="93.19999999999999" fill="url(#fcb2)" stroke="#111" stroke-width="0.9"/>
<path d="M310.70000000000005,500.7h2.4M310.70000000000005,531.3h2.4M310.70000000000005,561.9h2.4M310.70000000000005,592.4h2.4" stroke="#111" stroke-width="0.8"/>
<text x="316.3" y="503.6" font-size="8.4" fill="#222" text-anchor="start" textLength="11.09" lengthAdjust="spacingAndGlyphs" stroke="#222" stroke-width="0.12">1.2</text>
<text x="316.3" y="534.2" font-size="8.4" fill="#222" text-anchor="start" textLength="11.09" lengthAdjust="spacingAndGlyphs" stroke="#222" stroke-width="0.12">0.8</text>
<text x="316.3" y="564.8" font-size="8.4" fill="#222" text-anchor="start" textLength="11.09" lengthAdjust="spacingAndGlyphs" stroke="#222" stroke-width="0.12">0.4</text>
<text x="316.3" y="595.3" font-size="8.4" fill="#222" text-anchor="start" textLength="11.09" lengthAdjust="spacingAndGlyphs" stroke="#222" stroke-width="0.12">0.0</text>
<text x="307.6" y="494.3" font-size="7.6" fill="#222" text-anchor="start" stroke="#222" stroke-width="0.12">1e-9</text>
<text x="341" y="544.5" font-size="9.4" fill="#222" text-anchor="middle" textLength="38.2" lengthAdjust="spacingAndGlyphs" transform="rotate(-90 341 544.5)" stroke="#222" stroke-width="0.12">Cell density</text>
<defs><linearGradient id="fcb3" x1="0" y1="1" x2="0" y2="0"><stop offset="0.0" stop-color="#8000ff"/><stop offset="0.1" stop-color="#4c4ffc"/><stop offset="0.2" stop-color="#1996f3"/><stop offset="0.3" stop-color="#19cee3"/><stop offset="0.4" stop-color="#4df3ce"/><stop offset="0.5" stop-color="#80ffb4"/><stop offset="0.6" stop-color="#b2f396"/><stop offset="0.7" stop-color="#e5ce74"/><stop offset="0.8" stop-color="#ff964f"/><stop offset="0.9" stop-color="#ff4f28"/><stop offset="1.0" stop-color="#ff0000"/></linearGradient></defs>
<rect x="478.6" y="498.6" width="2.8" height="92.79999999999995" fill="url(#fcb3)" stroke="#111" stroke-width="0.9"/>
<path d="M481.40000000000003,513.2h2.4M481.40000000000003,539h2.4M481.40000000000003,565.2h2.4M481.40000000000003,591.4h2.4" stroke="#111" stroke-width="0.8"/>
<text x="486.8" y="516.1" font-size="8.4" fill="#222" text-anchor="start" textLength="11.09" lengthAdjust="spacingAndGlyphs" stroke="#222" stroke-width="0.12">1.5</text>
<text x="486.8" y="541.9" font-size="8.4" fill="#222" text-anchor="start" textLength="11.09" lengthAdjust="spacingAndGlyphs" stroke="#222" stroke-width="0.12">1.0</text>
<text x="486.8" y="568.1" font-size="8.4" fill="#222" text-anchor="start" textLength="11.09" lengthAdjust="spacingAndGlyphs" stroke="#222" stroke-width="0.12">0.5</text>
<text x="486.8" y="594.3" font-size="8.4" fill="#222" text-anchor="start" textLength="11.09" lengthAdjust="spacingAndGlyphs" stroke="#222" stroke-width="0.12">0.0</text>
<text x="478.1" y="494.3" font-size="7.6" fill="#222" text-anchor="start" stroke="#222" stroke-width="0.12">1e-9</text>
<text x="511.3" y="544.5" font-size="9.4" fill="#222" text-anchor="middle" textLength="38.2" lengthAdjust="spacingAndGlyphs" transform="rotate(-90 511.3 544.5)" stroke="#222" stroke-width="0.12">Cell density</text>
</svg></body></html>
